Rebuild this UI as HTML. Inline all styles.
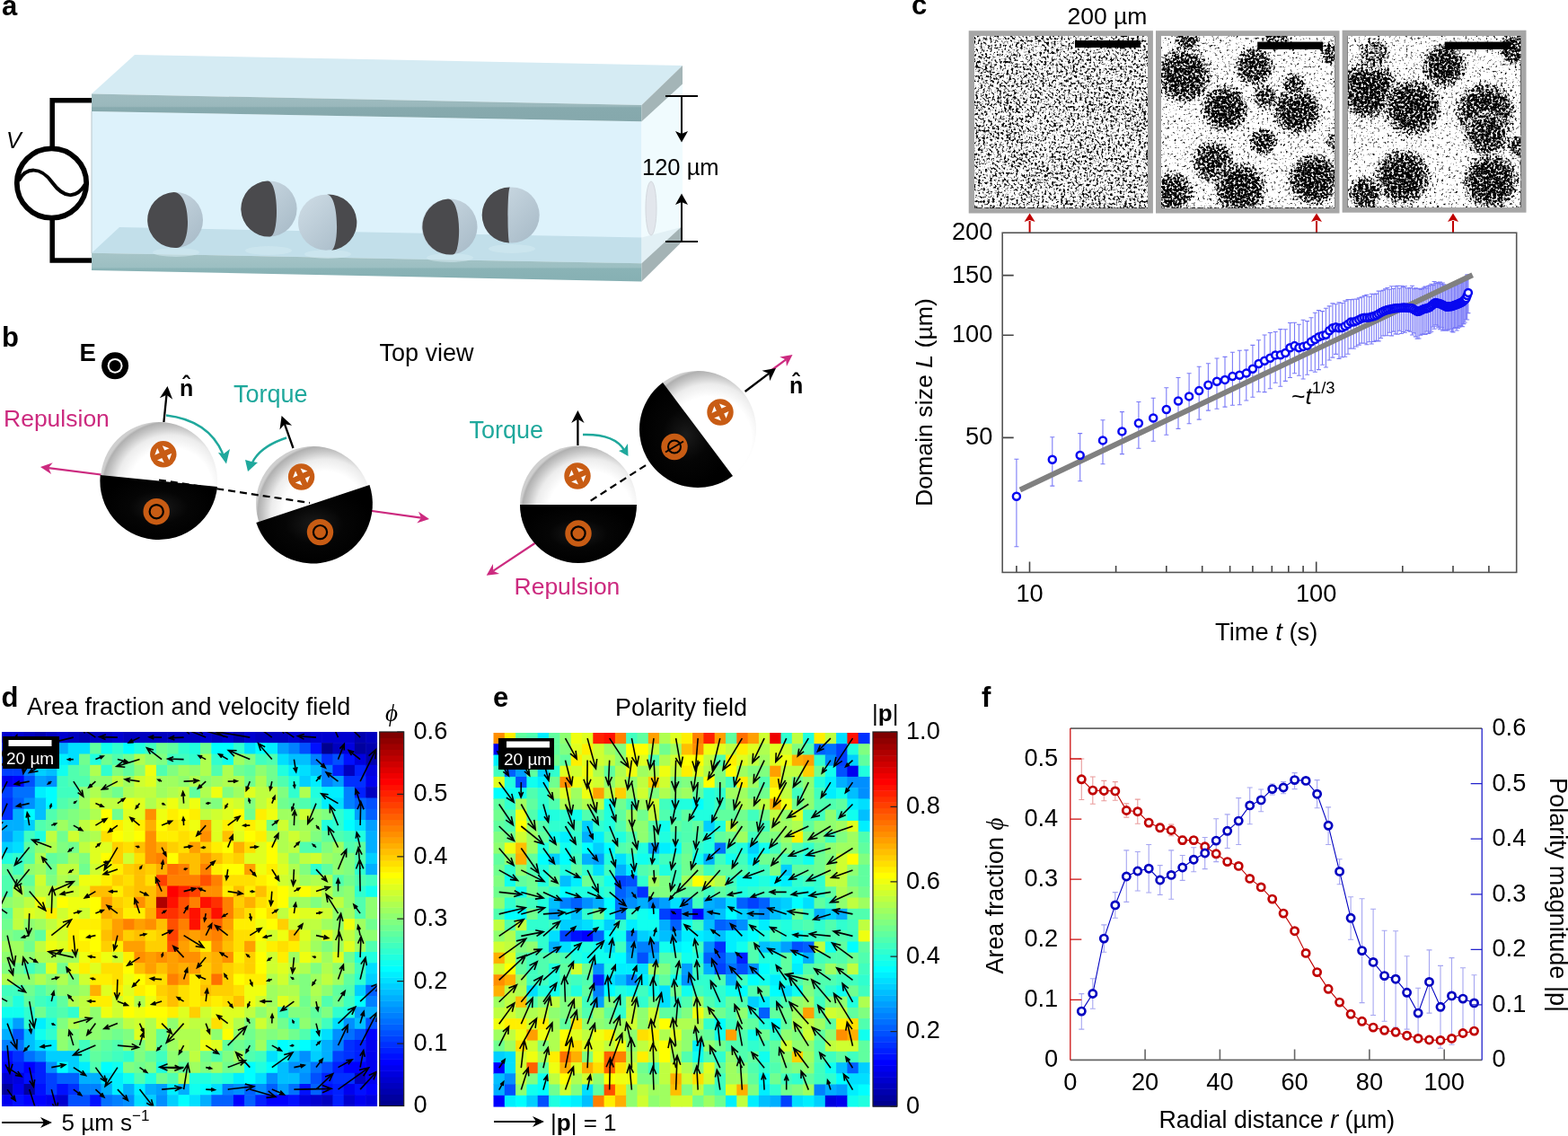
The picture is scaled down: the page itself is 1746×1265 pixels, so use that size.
<!DOCTYPE html>
<html><head><meta charset="utf-8"><style>
html,body{margin:0;padding:0;background:#fff;}
svg{display:block;font-family:"Liberation Sans",Arial,sans-serif;}
</style></head><body>
<svg width="1746" height="1265" viewBox="0 0 1746 1265">
<defs>
<linearGradient id="gTopFront" x1="0" y1="0" x2="0" y2="1"><stop offset="0" stop-color="#9fbcc0"/><stop offset="0.45" stop-color="#9ab8bc"/><stop offset="0.5" stop-color="#87aaae"/><stop offset="1" stop-color="#85a8ac"/></linearGradient>
<linearGradient id="gBotFront" x1="0" y1="0" x2="0" y2="1"><stop offset="0" stop-color="#a6c4c7"/><stop offset="0.5" stop-color="#9cbfc2"/><stop offset="0.55" stop-color="#8ab3b6"/><stop offset="1" stop-color="#86b0b3"/></linearGradient>
<linearGradient id="gLight" x1="0" y1="0" x2="1" y2="1"><stop offset="0" stop-color="#cfdde6"/><stop offset="1" stop-color="#a6b9c6"/></linearGradient>
<radialGradient id="gW" cx="0.6" cy="0.58" r="0.6"><stop offset="0" stop-color="#ffffff"/><stop offset="0.6" stop-color="#ffffff"/><stop offset="0.78" stop-color="#ececec"/><stop offset="0.9" stop-color="#c4c4c4"/><stop offset="0.97" stop-color="#b0b0b0"/><stop offset="1" stop-color="#cfcfcf"/></radialGradient>
<radialGradient id="gB" cx="0.5" cy="0.5" r="0.5"><stop offset="0" stop-color="#1a1a1a"/><stop offset="0.5" stop-color="#050505"/><stop offset="1" stop-color="#000"/></radialGradient>
<clipPath id="clipI0"><rect x="1085" y="40" width="193" height="191.7"/></clipPath>
<filter id="spk0" x="1085" y="40" width="193" height="191.7" filterUnits="userSpaceOnUse" color-interpolation-filters="sRGB"><feTurbulence type="fractalNoise" baseFrequency="0.38" numOctaves="2" seed="3" result="t"/><feColorMatrix in="t" type="matrix" values="1 0 0 0 0 1 0 0 0 0 1 0 0 0 0 0 0 0 0 1" result="n"/><feComposite in="SourceGraphic" in2="n" operator="arithmetic" k1="0" k2="5" k3="5" k4="-4.85"/></filter>
<clipPath id="clipI1"><rect x="1293" y="40" width="193.2" height="191.7"/></clipPath>
<filter id="spk1" x="1293" y="40" width="193.2" height="191.7" filterUnits="userSpaceOnUse" color-interpolation-filters="sRGB"><feTurbulence type="fractalNoise" baseFrequency="0.38" numOctaves="2" seed="8" result="t"/><feColorMatrix in="t" type="matrix" values="1 0 0 0 0 1 0 0 0 0 1 0 0 0 0 0 0 0 0 1" result="n"/><feComposite in="SourceGraphic" in2="n" operator="arithmetic" k1="0" k2="5" k3="5" k4="-4.85"/></filter>
<clipPath id="clipI2"><rect x="1500.8" y="40" width="192.6" height="190.9"/></clipPath>
<filter id="spk2" x="1500.8" y="40" width="192.6" height="190.9" filterUnits="userSpaceOnUse" color-interpolation-filters="sRGB"><feTurbulence type="fractalNoise" baseFrequency="0.38" numOctaves="2" seed="13" result="t"/><feColorMatrix in="t" type="matrix" values="1 0 0 0 0 1 0 0 0 0 1 0 0 0 0 0 0 0 0 1" result="n"/><feComposite in="SourceGraphic" in2="n" operator="arithmetic" k1="0" k2="5" k3="5" k4="-4.85"/></filter>
<radialGradient id="blobg117"><stop offset="0" stop-color="rgb(117,117,117)"/><stop offset="0.55" stop-color="rgb(123,123,123)"/><stop offset="0.8" stop-color="rgb(145,145,145)" stop-opacity="0.8"/><stop offset="1" stop-color="rgb(196,196,196)" stop-opacity="0"/></radialGradient>
<radialGradient id="blobg119"><stop offset="0" stop-color="rgb(119,119,119)"/><stop offset="0.55" stop-color="rgb(125,125,125)"/><stop offset="0.8" stop-color="rgb(147,147,147)" stop-opacity="0.8"/><stop offset="1" stop-color="rgb(196,196,196)" stop-opacity="0"/></radialGradient>
<radialGradient id="blobg122"><stop offset="0" stop-color="rgb(122,122,122)"/><stop offset="0.55" stop-color="rgb(128,128,128)"/><stop offset="0.8" stop-color="rgb(150,150,150)" stop-opacity="0.8"/><stop offset="1" stop-color="rgb(196,196,196)" stop-opacity="0"/></radialGradient>
<radialGradient id="blobg124"><stop offset="0" stop-color="rgb(124,124,124)"/><stop offset="0.55" stop-color="rgb(130,130,130)"/><stop offset="0.8" stop-color="rgb(152,152,152)" stop-opacity="0.8"/><stop offset="1" stop-color="rgb(196,196,196)" stop-opacity="0"/></radialGradient>
<radialGradient id="blobg130"><stop offset="0" stop-color="rgb(130,130,130)"/><stop offset="0.55" stop-color="rgb(136,136,136)"/><stop offset="0.8" stop-color="rgb(158,158,158)" stop-opacity="0.8"/><stop offset="1" stop-color="rgb(196,196,196)" stop-opacity="0"/></radialGradient>
<radialGradient id="blobg135"><stop offset="0" stop-color="rgb(135,135,135)"/><stop offset="0.55" stop-color="rgb(141,141,141)"/><stop offset="0.8" stop-color="rgb(163,163,163)" stop-opacity="0.8"/><stop offset="1" stop-color="rgb(196,196,196)" stop-opacity="0"/></radialGradient>
<radialGradient id="blobg142"><stop offset="0" stop-color="rgb(142,142,142)"/><stop offset="0.55" stop-color="rgb(148,148,148)"/><stop offset="0.8" stop-color="rgb(170,170,170)" stop-opacity="0.8"/><stop offset="1" stop-color="rgb(196,196,196)" stop-opacity="0"/></radialGradient>
<filter id="blur4"><feGaussianBlur stdDeviation="4"/></filter><clipPath id="clipD"><rect x="2" y="815" width="417.5" height="416.5"/></clipPath><clipPath id="clipE"><rect x="549.5" y="816" width="418.5" height="416"/></clipPath></defs>
<rect width="1746" height="1265" fill="#fff"/>
<text x="2" y="17" font-size="31" font-weight="bold">a</text>
<polygon points="150,61 760,73 714.5,117 102,104.5" fill="#d5ebf3"/>
<polygon points="102,124 714.5,135.3 714.5,293.3 102,281.7" fill="#ddf2fb"/>
<polygon points="714.5,135 760,93 760,254 714.5,293.3" fill="#f0fbfe"/>
<polygon points="102,281.7 133,253 714.5,264.5 714.5,293.3" fill="#c2dfea"/><polygon points="714.5,264.5 758,253.2 714.5,293.3" fill="#e2f0f5"/>
<polygon points="102,104.5 714.5,117 714.5,135.3 102,124" fill="url(#gTopFront)"/>
<polygon points="714.5,117 760,73 760,93.5 714.5,135.3" fill="#a4b5b7"/>
<polygon points="102,281.7 714.5,293.3 714.5,313.4 102,301" fill="url(#gBotFront)"/>
<polygon points="714.5,293.3 758,253.2 758,270.4 714.5,313.4" fill="#a4b3b5"/>
<line x1="102" y1="124" x2="102" y2="282" stroke="#b9c6cc" stroke-width="1"/>
<ellipse cx="725" cy="232" rx="6" ry="30" fill="#e2e6ec" stroke="#d3d8de" stroke-width="1"/>
<ellipse cx="196" cy="281" rx="26" ry="5" fill="#d4e9f0" opacity="0.55"/>
<ellipse cx="299" cy="279" rx="26" ry="5" fill="#d4e9f0" opacity="0.55"/>
<ellipse cx="365" cy="283" rx="26" ry="5" fill="#d4e9f0" opacity="0.55"/>
<ellipse cx="501" cy="287" rx="26" ry="5" fill="#d4e9f0" opacity="0.55"/>
<ellipse cx="570" cy="277" rx="26" ry="5" fill="#d4e9f0" opacity="0.55"/>
<circle cx="195" cy="245" r="31" fill="url(#gLight)"/>
<path d="M193.5,214 A31,31 0 0 0 197,276 C213.6,276 213.6,214 193.5,214Z" fill="#4a4a4d"/>
<circle cx="299.6" cy="232.5" r="31" fill="url(#gLight)"/>
<path d="M298,201.5 A31,31 0 0 0 300.7,263.5 C310.9,263.5 310.9,201.5 298,201.5Z" fill="#4a4a4d"/>
<circle cx="363" cy="247.7" r="31" fill="url(#gLight)"/>
<path d="M364,216.7 A31,31 0 0 1 368.5,278.7 C377.9,278.7 377.9,216.7 364,216.7Z" fill="#4a4a4d"/>
<circle cx="500.5" cy="252.5" r="31" fill="url(#gLight)"/>
<path d="M499,221.5 A31,31 0 0 0 504,283.5 C514.2,283.5 514.2,221.5 499,221.5Z" fill="#4a4a4d"/>
<circle cx="569.7" cy="239.5" r="31" fill="url(#gLight)"/>
<path d="M568,208.5 A31,31 0 0 0 567.4,270.5 C564.8,270.5 564.8,208.5 568,208.5Z" fill="#4a4a4d"/>
<path d="M102,111.8 H58.2 V163 M58.2,245 V290 H102" fill="none" stroke="#000" stroke-width="5.5"/>
<circle cx="57.5" cy="204" r="38.7" fill="#fff" stroke="#000" stroke-width="5.8"/>
<path d="M21,201 C29,186 45,185 58,203 C71,221 85,222 95,205" fill="none" stroke="#000" stroke-width="4"/>
<text x="7" y="164.5" font-size="25" font-style="italic">V</text>
<path d="M741,107 H777 M741,269 H777 M759,107 V150 M759,224 V269" fill="none" stroke="#000" stroke-width="2"/>
<path d="M752,146 L759,158.5 L766,146 L759,149Z M752,228 L759,215.5 L766,228 L759,225Z" fill="#000"/>
<text x="715" y="195" font-size="25.5">120 µm</text>
<line x1="140" y1="532" x2="54" y2="521.1" stroke="#cc2a7f" stroke-width="2.2"/><path d="M45,520 L58.7,515.2 L54,521.1 L57.1,528.1Z" fill="#cc2a7f"/>
<line x1="400" y1="567" x2="469" y2="576.7" stroke="#cc2a7f" stroke-width="2.2"/><path d="M478,578 L464.2,582.6 L469,576.7 L466,569.7Z" fill="#cc2a7f"/>
<line x1="600" y1="602" x2="549.3" y2="635.7" stroke="#cc2a7f" stroke-width="2.2"/><path d="M541.7,640.7 L548.9,628.1 L549.3,635.7 L556.1,638.9Z" fill="#cc2a7f"/>
<line x1="856" y1="414.5" x2="875.2" y2="400.4" stroke="#cc2a7f" stroke-width="2.2"/><path d="M882.5,395 L875.9,407.9 L875.2,400.4 L868.2,397.5Z" fill="#cc2a7f"/>
<circle cx="177" cy="535" r="65" fill="url(#gW)"/><path d="M111.7,529 A65,65 0 0 0 242,542Z" fill="url(#gB)"/>
<circle cx="349" cy="561" r="64" fill="url(#gW)"/><path d="M285.3,582 A64,64 0 0 0 411.5,540Z" fill="url(#gB)"/>
<circle cx="644" cy="561.5" r="65" fill="url(#gW)"/><path d="M579,562 A65,65 0 0 0 709,562Z" fill="url(#gB)"/>
<circle cx="777" cy="478" r="65" fill="url(#gW)"/><path d="M738,426 A65,65 0 0 0 816,530Z" fill="url(#gB)"/>
<line x1="177" y1="534.5" x2="345" y2="560" stroke="#000" stroke-width="2.2" stroke-dasharray="8,5"/>
<line x1="657.7" y1="557.6" x2="720.7" y2="517" stroke="#000" stroke-width="2.2" stroke-dasharray="8,5"/>
<circle cx="181.8" cy="505.8" r="14.7" fill="#c85c14"/><path d="M191.3,504.8 L188.4,512.6 L186,507.3Z" fill="#fff"/><path d="M182.8,515.3 L175,512.4 L180.3,510Z" fill="#fff"/><path d="M172.3,506.8 L175.2,499 L177.6,504.3Z" fill="#fff"/><path d="M180.8,496.3 L188.6,499.2 L183.3,501.6Z" fill="#fff"/>
<circle cx="174.2" cy="569.7" r="14.7" fill="#c85c14"/><circle cx="174.2" cy="569.7" r="7.6" fill="none" stroke="#000" stroke-width="2.2"/>
<circle cx="335.6" cy="531" r="14.7" fill="#c85c14"/><path d="M345.1,530 L342.2,537.8 L339.8,532.5Z" fill="#fff"/><path d="M336.6,540.5 L328.8,537.6 L334.1,535.2Z" fill="#fff"/><path d="M326.1,532 L329,524.2 L331.4,529.5Z" fill="#fff"/><path d="M334.6,521.5 L342.4,524.4 L337.1,526.8Z" fill="#fff"/>
<circle cx="356.5" cy="592.6" r="14.7" fill="#c85c14"/><circle cx="356.5" cy="592.6" r="7.6" fill="none" stroke="#000" stroke-width="2.2"/>
<circle cx="643" cy="530" r="14.7" fill="#c85c14"/><path d="M652.5,529 L649.6,536.8 L647.2,531.5Z" fill="#fff"/><path d="M644,539.5 L636.2,536.6 L641.5,534.2Z" fill="#fff"/><path d="M633.5,531 L636.4,523.2 L638.8,528.5Z" fill="#fff"/><path d="M642,520.5 L649.8,523.4 L644.5,525.8Z" fill="#fff"/>
<circle cx="644" cy="594" r="14.7" fill="#c85c14"/><circle cx="644" cy="594" r="7.6" fill="none" stroke="#000" stroke-width="2.2"/>
<circle cx="802" cy="459" r="14.7" fill="#c85c14"/><path d="M811.5,458 L808.6,465.8 L806.2,460.5Z" fill="#fff"/><path d="M803,468.5 L795.2,465.6 L800.5,463.2Z" fill="#fff"/><path d="M792.5,460 L795.4,452.2 L797.8,457.5Z" fill="#fff"/><path d="M801,449.5 L808.8,452.4 L803.5,454.8Z" fill="#fff"/>
<circle cx="751" cy="497.5" r="14.7" fill="#c85c14"/><circle cx="751" cy="497.5" r="7" fill="none" stroke="#000" stroke-width="2"/><line x1="741" y1="503.5" x2="761" y2="491.5" stroke="#000" stroke-width="2"/>
<line x1="182.4" y1="470" x2="185.5" y2="439.7" stroke="#000" stroke-width="2.3"/><path d="M186.5,430 L192.2,444.7 L185.5,439.7 L177.9,443.2Z" fill="#000"/>
<line x1="326.5" y1="499" x2="316.9" y2="472.2" stroke="#000" stroke-width="2.3"/><path d="M313.6,463 L325.1,473.8 L316.9,472.2 L311.5,478.6Z" fill="#000"/>
<line x1="643.4" y1="496" x2="643.4" y2="466.8" stroke="#000" stroke-width="2.3"/><path d="M643.4,457 L650.6,471 L643.4,466.8 L636.2,471Z" fill="#000"/>
<line x1="829.6" y1="436" x2="856.2" y2="415.9" stroke="#000" stroke-width="2.3"/><path d="M864,410 L857.2,424.2 L856.2,415.9 L848.5,412.7Z" fill="#000"/>
<path d="M185,462.5 Q232,468 248,505" fill="none" stroke="#1fa89c" stroke-width="2.4"/>
<path d="M243,504 L252,516.5 L256,500 L249.5,505Z" fill="#1fa89c"/>
<path d="M319,487.5 Q290,497 281,515" fill="none" stroke="#1fa89c" stroke-width="2.4"/>
<path d="M273,512 L276,525 L287,515 L280,514Z" fill="#1fa89c"/>
<path d="M649,484 Q684,483 695,501" fill="none" stroke="#1fa89c" stroke-width="2.4"/>
<path d="M689,502 L699.5,508 L699,494 L695,500Z" fill="#1fa89c"/>
<text x="2" y="386" font-size="31" font-weight="bold">b</text>
<text x="88.5" y="401.7" font-size="27.5" font-weight="bold">E</text>
<circle cx="128.1" cy="407.3" r="15" fill="#000"/><circle cx="128.1" cy="407.3" r="8.4" fill="#fff"/><circle cx="128.1" cy="407.3" r="6.4" fill="#000"/>
<text x="200" y="441" font-size="25" font-weight="bold">n̂</text>
<text x="879" y="438" font-size="25" font-weight="bold">n̂</text>
<text x="260" y="448" font-size="27" fill="#1fa89c">Torque</text>
<text x="522.5" y="488" font-size="27" fill="#1fa89c">Torque</text>
<text x="4" y="475" font-size="26.5" fill="#cc2a7f">Repulsion</text>
<text x="572.5" y="662" font-size="26.5" fill="#cc2a7f">Repulsion</text>
<text x="422.5" y="402" font-size="27">Top view</text>
<rect x="1078.7" y="34.2" width="205.2" height="203.3" fill="#a6a6a6"/>
<rect x="1287" y="34.2" width="204.5" height="203.3" fill="#a6a6a6"/>
<rect x="1494.6" y="33.7" width="204.9" height="203" fill="#a6a6a6"/>
<g clip-path="url(#clipI0)"><g filter="url(#spk0)"><rect x="1085" y="40" width="193" height="191.7" fill="rgb(171,171,171)"/><circle cx="1172.3" cy="147.3" r="11.4" fill="rgb(186,186,186)" opacity="0.5" filter="url(#blur4)"/><circle cx="1172.2" cy="203.9" r="5.5" fill="rgb(186,186,186)" opacity="0.5" filter="url(#blur4)"/><circle cx="1206.6" cy="192" r="4.8" fill="rgb(180,180,180)" opacity="0.5" filter="url(#blur4)"/><circle cx="1112.4" cy="143.3" r="11.1" fill="rgb(150,150,150)" opacity="0.5" filter="url(#blur4)"/><circle cx="1199.9" cy="115.9" r="7.6" fill="rgb(156,156,156)" opacity="0.5" filter="url(#blur4)"/><circle cx="1205.3" cy="199.4" r="4.5" fill="rgb(150,150,150)" opacity="0.5" filter="url(#blur4)"/><circle cx="1121.7" cy="86.4" r="4.2" fill="rgb(186,186,186)" opacity="0.5" filter="url(#blur4)"/><circle cx="1148" cy="153.3" r="5.6" fill="rgb(156,156,156)" opacity="0.5" filter="url(#blur4)"/><circle cx="1208.6" cy="135.8" r="9.3" fill="rgb(186,186,186)" opacity="0.5" filter="url(#blur4)"/><circle cx="1211.4" cy="118" r="8.4" fill="rgb(150,150,150)" opacity="0.5" filter="url(#blur4)"/><circle cx="1221.6" cy="100.4" r="5.8" fill="rgb(180,180,180)" opacity="0.5" filter="url(#blur4)"/><circle cx="1090.7" cy="148" r="4.9" fill="rgb(150,150,150)" opacity="0.5" filter="url(#blur4)"/><circle cx="1248.4" cy="114.1" r="11.7" fill="rgb(150,150,150)" opacity="0.5" filter="url(#blur4)"/><circle cx="1126.2" cy="217.7" r="4.4" fill="rgb(186,186,186)" opacity="0.5" filter="url(#blur4)"/><circle cx="1274.2" cy="116.2" r="4.6" fill="rgb(156,156,156)" opacity="0.5" filter="url(#blur4)"/><circle cx="1235.3" cy="91.7" r="4.7" fill="rgb(180,180,180)" opacity="0.5" filter="url(#blur4)"/><circle cx="1087.9" cy="118.6" r="11.4" fill="rgb(156,156,156)" opacity="0.5" filter="url(#blur4)"/><circle cx="1132.6" cy="59.4" r="4.5" fill="rgb(186,186,186)" opacity="0.5" filter="url(#blur4)"/><circle cx="1119.3" cy="147.2" r="7.6" fill="rgb(156,156,156)" opacity="0.5" filter="url(#blur4)"/><circle cx="1275.2" cy="187.5" r="7.4" fill="rgb(186,186,186)" opacity="0.5" filter="url(#blur4)"/><circle cx="1107.5" cy="120.7" r="5.7" fill="rgb(180,180,180)" opacity="0.5" filter="url(#blur4)"/><circle cx="1251.8" cy="226.9" r="8.7" fill="rgb(150,150,150)" opacity="0.5" filter="url(#blur4)"/><circle cx="1125.7" cy="115.6" r="10.8" fill="rgb(150,150,150)" opacity="0.5" filter="url(#blur4)"/><circle cx="1093.1" cy="68.1" r="7.5" fill="rgb(150,150,150)" opacity="0.5" filter="url(#blur4)"/><circle cx="1234.1" cy="103.1" r="6.4" fill="rgb(150,150,150)" opacity="0.5" filter="url(#blur4)"/><circle cx="1099.3" cy="80" r="9.1" fill="rgb(150,150,150)" opacity="0.5" filter="url(#blur4)"/><circle cx="1201" cy="111.3" r="7.6" fill="rgb(186,186,186)" opacity="0.5" filter="url(#blur4)"/><circle cx="1245.6" cy="66" r="7.1" fill="rgb(156,156,156)" opacity="0.5" filter="url(#blur4)"/><circle cx="1145" cy="83.8" r="8.9" fill="rgb(156,156,156)" opacity="0.5" filter="url(#blur4)"/><circle cx="1115.6" cy="160.6" r="8.4" fill="rgb(186,186,186)" opacity="0.5" filter="url(#blur4)"/><circle cx="1255.3" cy="155.7" r="7.4" fill="rgb(150,150,150)" opacity="0.5" filter="url(#blur4)"/><circle cx="1106" cy="138.2" r="6" fill="rgb(186,186,186)" opacity="0.5" filter="url(#blur4)"/><circle cx="1134.6" cy="197.9" r="8.8" fill="rgb(180,180,180)" opacity="0.5" filter="url(#blur4)"/><circle cx="1185.4" cy="218.1" r="11.8" fill="rgb(156,156,156)" opacity="0.5" filter="url(#blur4)"/><circle cx="1129.1" cy="147.2" r="10.8" fill="rgb(150,150,150)" opacity="0.5" filter="url(#blur4)"/><circle cx="1139.1" cy="215.9" r="5.6" fill="rgb(150,150,150)" opacity="0.5" filter="url(#blur4)"/><circle cx="1098.3" cy="118.9" r="6" fill="rgb(150,150,150)" opacity="0.5" filter="url(#blur4)"/><circle cx="1119" cy="110.7" r="8.6" fill="rgb(156,156,156)" opacity="0.5" filter="url(#blur4)"/><circle cx="1102.8" cy="66.5" r="7.6" fill="rgb(180,180,180)" opacity="0.5" filter="url(#blur4)"/><circle cx="1211.8" cy="172.5" r="8.7" fill="rgb(156,156,156)" opacity="0.5" filter="url(#blur4)"/><circle cx="1198.8" cy="217.1" r="7.8" fill="rgb(180,180,180)" opacity="0.5" filter="url(#blur4)"/><circle cx="1220.3" cy="224.6" r="4.2" fill="rgb(150,150,150)" opacity="0.5" filter="url(#blur4)"/><circle cx="1178.1" cy="180" r="6.6" fill="rgb(150,150,150)" opacity="0.5" filter="url(#blur4)"/><circle cx="1099.5" cy="144.7" r="9.9" fill="rgb(156,156,156)" opacity="0.5" filter="url(#blur4)"/><circle cx="1238.1" cy="215.4" r="6.8" fill="rgb(186,186,186)" opacity="0.5" filter="url(#blur4)"/><circle cx="1258.9" cy="207" r="7.3" fill="rgb(150,150,150)" opacity="0.5" filter="url(#blur4)"/><circle cx="1251.7" cy="149.8" r="9" fill="rgb(186,186,186)" opacity="0.5" filter="url(#blur4)"/><circle cx="1158.2" cy="42.4" r="4.6" fill="rgb(150,150,150)" opacity="0.5" filter="url(#blur4)"/><circle cx="1208.4" cy="230.4" r="11" fill="rgb(180,180,180)" opacity="0.5" filter="url(#blur4)"/><circle cx="1160" cy="180.9" r="8.6" fill="rgb(186,186,186)" opacity="0.5" filter="url(#blur4)"/><circle cx="1174.3" cy="143.8" r="8.1" fill="rgb(150,150,150)" opacity="0.5" filter="url(#blur4)"/><circle cx="1144.9" cy="56.8" r="4.2" fill="rgb(150,150,150)" opacity="0.5" filter="url(#blur4)"/><circle cx="1181" cy="157.8" r="11.4" fill="rgb(180,180,180)" opacity="0.5" filter="url(#blur4)"/><circle cx="1258" cy="110.5" r="5.1" fill="rgb(156,156,156)" opacity="0.5" filter="url(#blur4)"/><circle cx="1185.1" cy="184.5" r="6.7" fill="rgb(186,186,186)" opacity="0.5" filter="url(#blur4)"/><circle cx="1181.2" cy="86.3" r="7.2" fill="rgb(180,180,180)" opacity="0.5" filter="url(#blur4)"/><circle cx="1123.3" cy="122.6" r="10.4" fill="rgb(156,156,156)" opacity="0.5" filter="url(#blur4)"/><circle cx="1254.9" cy="113.7" r="8.7" fill="rgb(180,180,180)" opacity="0.5" filter="url(#blur4)"/><circle cx="1125.5" cy="65.8" r="6.8" fill="rgb(150,150,150)" opacity="0.5" filter="url(#blur4)"/><circle cx="1222.3" cy="222.1" r="6.2" fill="rgb(156,156,156)" opacity="0.5" filter="url(#blur4)"/><circle cx="1106.8" cy="130.4" r="11.4" fill="rgb(186,186,186)" opacity="0.5" filter="url(#blur4)"/><circle cx="1158.8" cy="139.7" r="9.4" fill="rgb(186,186,186)" opacity="0.5" filter="url(#blur4)"/><circle cx="1146.8" cy="198.9" r="6.2" fill="rgb(150,150,150)" opacity="0.5" filter="url(#blur4)"/><circle cx="1215.9" cy="93.9" r="6.8" fill="rgb(150,150,150)" opacity="0.5" filter="url(#blur4)"/><circle cx="1208.7" cy="117.7" r="5.5" fill="rgb(180,180,180)" opacity="0.5" filter="url(#blur4)"/><circle cx="1130.8" cy="67" r="4.4" fill="rgb(150,150,150)" opacity="0.5" filter="url(#blur4)"/><circle cx="1171.2" cy="160.8" r="9.2" fill="rgb(180,180,180)" opacity="0.5" filter="url(#blur4)"/><circle cx="1270" cy="171.2" r="5.6" fill="rgb(186,186,186)" opacity="0.5" filter="url(#blur4)"/><circle cx="1134.4" cy="176.9" r="10" fill="rgb(150,150,150)" opacity="0.5" filter="url(#blur4)"/><circle cx="1119.6" cy="92.2" r="6.8" fill="rgb(156,156,156)" opacity="0.5" filter="url(#blur4)"/><circle cx="1160.9" cy="191.8" r="11.2" fill="rgb(150,150,150)" opacity="0.5" filter="url(#blur4)"/><circle cx="1164.2" cy="211.1" r="7.1" fill="rgb(186,186,186)" opacity="0.5" filter="url(#blur4)"/><circle cx="1172.5" cy="159.9" r="11.3" fill="rgb(186,186,186)" opacity="0.5" filter="url(#blur4)"/><circle cx="1191.2" cy="165.1" r="8" fill="rgb(180,180,180)" opacity="0.5" filter="url(#blur4)"/><circle cx="1174.5" cy="164.9" r="5.6" fill="rgb(150,150,150)" opacity="0.5" filter="url(#blur4)"/><circle cx="1126.2" cy="212.5" r="11.8" fill="rgb(180,180,180)" opacity="0.5" filter="url(#blur4)"/><circle cx="1188.6" cy="191.6" r="6.6" fill="rgb(150,150,150)" opacity="0.5" filter="url(#blur4)"/><circle cx="1152.3" cy="55.9" r="7.5" fill="rgb(186,186,186)" opacity="0.5" filter="url(#blur4)"/><circle cx="1233.3" cy="133.4" r="4.2" fill="rgb(150,150,150)" opacity="0.5" filter="url(#blur4)"/><circle cx="1167.8" cy="46.7" r="8.3" fill="rgb(156,156,156)" opacity="0.5" filter="url(#blur4)"/><circle cx="1175.8" cy="231.7" r="11.2" fill="rgb(186,186,186)" opacity="0.5" filter="url(#blur4)"/><circle cx="1267.5" cy="134.4" r="11.6" fill="rgb(150,150,150)" opacity="0.5" filter="url(#blur4)"/><circle cx="1231.3" cy="124.2" r="8.5" fill="rgb(156,156,156)" opacity="0.5" filter="url(#blur4)"/><circle cx="1185.9" cy="201.7" r="8.5" fill="rgb(180,180,180)" opacity="0.5" filter="url(#blur4)"/><circle cx="1214.6" cy="223" r="11" fill="rgb(156,156,156)" opacity="0.5" filter="url(#blur4)"/><circle cx="1143.8" cy="67.1" r="8.4" fill="rgb(180,180,180)" opacity="0.5" filter="url(#blur4)"/><circle cx="1195.6" cy="78.5" r="8.3" fill="rgb(150,150,150)" opacity="0.5" filter="url(#blur4)"/><circle cx="1201.8" cy="45.3" r="11.8" fill="rgb(186,186,186)" opacity="0.5" filter="url(#blur4)"/><circle cx="1190" cy="229.7" r="5" fill="rgb(150,150,150)" opacity="0.5" filter="url(#blur4)"/><circle cx="1218.4" cy="52.6" r="8.3" fill="rgb(186,186,186)" opacity="0.5" filter="url(#blur4)"/></g></g>
<g clip-path="url(#clipI1)"><g filter="url(#spk1)"><rect x="1293" y="40" width="193.2" height="191.7" fill="rgb(196,196,196)"/><circle cx="1318" cy="84" r="36" fill="url(#blobg119)"/><circle cx="1397" cy="74" r="25.2" fill="url(#blobg122)"/><circle cx="1364" cy="121" r="30" fill="url(#blobg117)"/><circle cx="1444" cy="123" r="31.2" fill="url(#blobg117)"/><circle cx="1441" cy="95" r="15.6" fill="url(#blobg130)"/><circle cx="1409" cy="108" r="16.8" fill="url(#blobg130)"/><circle cx="1407" cy="158" r="18" fill="url(#blobg124)"/><circle cx="1351" cy="180" r="27.6" fill="url(#blobg122)"/><circle cx="1381" cy="210" r="33.6" fill="url(#blobg117)"/><circle cx="1463" cy="200" r="33.6" fill="url(#blobg117)"/><circle cx="1306" cy="214" r="26.4" fill="url(#blobg122)"/><circle cx="1322" cy="44" r="16.8" fill="url(#blobg130)"/><circle cx="1421" cy="42" r="16.8" fill="url(#blobg130)"/><circle cx="1483" cy="60" r="15.6" fill="url(#blobg130)"/><circle cx="1486" cy="157" r="12" fill="url(#blobg135)"/></g></g>
<g clip-path="url(#clipI2)"><g filter="url(#spk2)"><rect x="1500.8" y="40" width="192.6" height="190.9" fill="rgb(196,196,196)"/><circle cx="1524" cy="100" r="38.4" fill="url(#blobg117)"/><circle cx="1573" cy="120" r="37.2" fill="url(#blobg117)"/><circle cx="1608" cy="73" r="28.8" fill="url(#blobg119)"/><circle cx="1654" cy="125" r="38.4" fill="url(#blobg117)"/><circle cx="1656" cy="150" r="28.8" fill="url(#blobg122)"/><circle cx="1562" cy="197" r="36" fill="url(#blobg117)"/><circle cx="1660" cy="202" r="36" fill="url(#blobg117)"/><circle cx="1520" cy="215" r="21.6" fill="url(#blobg122)"/><circle cx="1686" cy="55" r="20.4" fill="url(#blobg124)"/><circle cx="1691" cy="163" r="15.6" fill="url(#blobg130)"/><circle cx="1530" cy="60" r="21.6" fill="url(#blobg142)"/></g></g>
<rect x="1197" y="45" width="73" height="8" fill="#000"/>
<rect x="1400.2" y="46.6" width="73" height="8.3" fill="#000"/>
<rect x="1608.7" y="46.6" width="72.5" height="8.3" fill="#000"/>
<text x="1015" y="16" font-size="31" font-weight="bold">c</text>
<text x="1188.5" y="26.5" font-size="26.5">200 µm</text>
<line x1="1146.6" y1="259" x2="1146.6" y2="246" stroke="#c00000" stroke-width="2"/>
<path d="M1146.6,237.5 L1140.6,247 L1146.6,245 L1152.6,247Z" fill="#c00000"/>
<line x1="1466" y1="259" x2="1466" y2="246" stroke="#c00000" stroke-width="2"/>
<path d="M1466,237.5 L1460,247 L1466,245 L1472,247Z" fill="#c00000"/>
<line x1="1618" y1="259" x2="1618" y2="246" stroke="#c00000" stroke-width="2"/>
<path d="M1618,237.5 L1612,247 L1618,245 L1624,247Z" fill="#c00000"/>
<path d="M1131.9,637.4V629.9M1146.5,637.4V625.4M1242.6,637.4V629.9M1298.8,637.4V629.9M1338.7,637.4V629.9M1369.6,637.4V629.9M1394.9,637.4V629.9M1416.3,637.4V629.9M1434.8,637.4V629.9M1451.1,637.4V629.9M1465.7,637.4V625.4M1561.8,637.4V629.9M1618,637.4V629.9M1657.9,637.4V629.9M1116.2,487.4H1128.7M1116.2,373.3H1128.7M1116.2,306.6H1128.7" stroke="#444" stroke-width="1.6" fill="none"/>
<text x="1105.3" y="267.1" font-size="27.2" text-anchor="end">200</text>
<text x="1105.3" y="314.5" font-size="27.2" text-anchor="end">150</text>
<text x="1105.3" y="381.2" font-size="27.2" text-anchor="end">100</text>
<text x="1105.3" y="495.3" font-size="27.2" text-anchor="end">50</text>
<text x="1146.5" y="669.6" font-size="27.2" text-anchor="middle">10</text>
<text x="1465.7" y="669.6" font-size="27.2" text-anchor="middle">100</text>
<text x="1353" y="713.2" font-size="27.3">Time <tspan font-style="italic">t</tspan> (s)</text>
<text transform="translate(1037.6,564) rotate(-90)" font-size="26.7">Domain size <tspan font-style="italic">L</tspan> (µm)</text>
<path d="M1131.9,511.2V608.7M1129.4,511.2h5M1129.4,608.7h5M1171.8,486.8V541.1M1169.3,486.8h5M1169.3,541.1h5M1202.7,482.6V535.7M1200.2,482.6h5M1200.2,535.7h5M1228,467.7V516.7M1225.5,467.7h5M1225.5,516.7h5M1249.4,458.6V505.6M1246.9,458.6h5M1246.9,505.6h5M1267.9,447.5V499.2M1265.4,447.5h5M1265.4,499.2h5M1284.2,443.3V491.3M1281.7,443.3h5M1281.7,491.3h5M1298.8,431.8V484.3M1296.3,431.8h5M1296.3,484.3h5M1312,420.5V477.4M1309.5,420.5h5M1309.5,477.4h5M1324.1,415.8V471.8M1321.6,415.8h5M1321.6,471.8h5M1335.2,408.3V467.1M1332.7,408.3h5M1332.7,467.1h5M1345.4,404.7V457.1M1342.9,404.7h5M1342.9,457.1h5M1355,399V455.3M1352.5,399h5M1352.5,455.3h5M1364,397.4V453.1M1361.5,397.4h5M1361.5,453.1h5M1372.4,392.3V451.2M1369.9,392.3h5M1369.9,451.2h5M1380.3,390.2V450.7M1377.8,390.2h5M1377.8,450.7h5M1387.8,389.9V446M1385.3,389.9h5M1385.3,446h5M1394.9,384.4V442.2M1392.4,384.4h5M1392.4,442.2h5M1401.6,378.7V436.3M1399.1,378.7h5M1399.1,436.3h5M1408.1,373V436.6M1405.6,373h5M1405.6,436.6h5M1414.3,370.5V432.8M1411.8,370.5h5M1411.8,432.8h5M1420.2,369.5V426.2M1417.7,369.5h5M1417.7,426.2h5M1425.8,366.6V430.2M1423.3,366.6h5M1423.3,430.2h5M1431.3,366.7V424.4M1428.8,366.7h5M1428.8,424.4h5M1436.5,359.5V420.5M1434,359.5h5M1434,420.5h5M1441.5,359.2V415.8M1439,359.2h5M1439,415.8h5M1446.4,361.2V418.2M1443.9,361.2h5M1443.9,418.2h5M1451.1,356.3V422M1448.6,356.3h5M1448.6,422h5M1455.6,357.6V417.3M1453.1,357.6h5M1453.1,417.3h5M1460,353.7V412.7M1457.5,353.7h5M1457.5,412.7h5M1464.3,348.3V414.3M1461.8,348.3h5M1461.8,414.3h5M1468.4,345.6V411.6M1465.9,345.6h5M1465.9,411.6h5M1472.5,346.6V406.3M1470,346.6h5M1470,406.3h5M1476.4,343.2V409M1473.9,343.2h5M1473.9,409h5M1480.2,340.9V401M1477.7,340.9h5M1477.7,401h5M1483.9,337.9V398.1M1481.4,337.9h5M1481.4,398.1h5M1487.5,338.8V394.4M1485,338.8h5M1485,394.4h5M1491,336.9V399.4M1488.5,336.9h5M1488.5,399.4h5M1494.4,337.5V397.7M1491.9,337.5h5M1491.9,397.7h5M1497.7,335.1V397.2M1495.2,335.1h5M1495.2,397.2h5M1501,333.6V394.2M1498.5,333.6h5M1498.5,394.2h5M1504.2,333.6V388.1M1501.7,333.6h5M1501.7,388.1h5M1507.3,333.3V388.3M1504.8,333.3h5M1504.8,388.3h5M1510.3,333.1V386M1507.8,333.1h5M1507.8,386h5M1513.3,331.8V384.1M1510.8,331.8h5M1510.8,384.1h5M1516.2,330.9V382.1M1513.7,330.9h5M1513.7,382.1h5M1519.1,329.4V382.3M1516.6,329.4h5M1516.6,382.3h5M1521.9,328.3V383.7M1519.4,328.3h5M1519.4,383.7h5M1524.7,330.3V380.7M1522.2,330.3h5M1522.2,380.7h5M1527.3,327.3V383M1524.8,327.3h5M1524.8,383h5M1530,327.8V380.4M1527.5,327.8h5M1527.5,380.4h5M1532.6,327.1V379.3M1530.1,327.1h5M1530.1,379.3h5M1535.1,324.1V379.9M1532.6,324.1h5M1532.6,379.9h5M1537.6,324V376.5M1535.1,324h5M1535.1,376.5h5M1540.1,323.3V374M1537.6,323.3h5M1537.6,374h5M1542.5,321.9V373.7M1540,321.9h5M1540,373.7h5M1544.9,320.5V373.8M1542.4,320.5h5M1542.4,373.8h5M1547.2,322.2V370.3M1544.7,322.2h5M1544.7,370.3h5M1549.5,318.8V373.9M1547,318.8h5M1547,373.9h5M1551.7,321.5V369.1M1549.2,321.5h5M1549.2,369.1h5M1553.9,318.8V371.9M1551.4,318.8h5M1551.4,371.9h5M1556.1,318.4V372.2M1553.6,318.4h5M1553.6,372.2h5M1558.3,321V368.3M1555.8,321h5M1555.8,368.3h5M1560.4,318.3V371.5M1557.9,318.3h5M1557.9,371.5h5M1562.5,319.6V369.5M1560,319.6h5M1560,369.5h5M1564.5,318.8V370.3M1562,318.8h5M1562,370.3h5M1566.6,320.8V368M1564.1,320.8h5M1564.1,368h5M1568.6,320.9V368.4M1566.1,320.9h5M1566.1,368.4h5M1570.5,320.6V369.2M1568,320.6h5M1568,369.2h5M1572.5,318.2V373M1570,318.2h5M1570,373h5M1574.4,321.8V370.9M1571.9,321.8h5M1571.9,370.9h5M1576.3,320.9V374.9M1573.8,320.9h5M1573.8,374.9h5M1578.1,321.4V377.1M1575.6,321.4h5M1575.6,377.1h5M1580,321.2V377M1577.5,321.2h5M1577.5,377h5M1581.8,322.4V373.2M1579.3,322.4h5M1579.3,373.2h5M1583.6,321.6V372.2M1581.1,321.6h5M1581.1,372.2h5M1585.3,320.3V371.9M1582.8,320.3h5M1582.8,371.9h5M1587.1,319.1V372.5M1584.6,319.1h5M1584.6,372.5h5M1588.8,320.9V369M1586.3,320.9h5M1586.3,369h5M1590.5,318.5V371.4M1588,318.5h5M1588,371.4h5M1592.2,317.7V370.8M1589.7,317.7h5M1589.7,370.8h5M1593.8,316.2V369.3M1591.3,316.2h5M1591.3,369.3h5M1595.5,317.6V364M1593,317.6h5M1593,364h5M1597.1,313.5V366.3M1594.6,313.5h5M1594.6,366.3h5M1598.7,315.6V361.7M1596.2,315.6h5M1596.2,361.7h5M1600.3,315.1V363.3M1597.8,315.1h5M1597.8,363.3h5M1601.8,314.6V364.9M1599.3,314.6h5M1599.3,364.9h5M1603.4,314V366.7M1600.9,314h5M1600.9,366.7h5M1604.9,316.2V364.8M1602.4,316.2h5M1602.4,364.8h5M1606.4,315V368.2M1603.9,315h5M1603.9,368.2h5M1607.9,316.9V367.4M1605.4,316.9h5M1605.4,367.4h5M1609.4,318.3V367.3M1606.9,318.3h5M1606.9,367.3h5M1610.9,318.9V368.1M1608.4,318.9h5M1608.4,368.1h5M1612.3,319.2V367.3M1609.8,319.2h5M1609.8,367.3h5M1613.8,319.4V366.7M1611.3,319.4h5M1611.3,366.7h5M1615.2,319V366.8M1612.7,319h5M1612.7,366.8h5M1616.6,317.1V369M1614.1,317.1h5M1614.1,369h5M1618,315.8V369.9M1615.5,315.8h5M1615.5,369.9h5M1619.4,318V365.6M1616.9,318h5M1616.9,365.6h5M1620.7,318V364.5M1618.2,318h5M1618.2,364.5h5M1622.1,314.5V368M1619.6,314.5h5M1619.6,368h5M1623.4,315.5V365.5M1620.9,315.5h5M1620.9,365.5h5M1624.8,315.4V364.2M1622.3,315.4h5M1622.3,364.2h5M1626.1,315.4V362.7M1623.6,315.4h5M1623.6,362.7h5M1627.4,313.7V363.5M1624.9,313.7h5M1624.9,363.5h5M1628.7,312.4V363.7M1626.2,312.4h5M1626.2,363.7h5M1629.9,312.4V360.6M1627.4,312.4h5M1627.4,360.6h5M1631.2,311.4V359M1628.7,311.4h5M1628.7,359h5M1632.5,311.5V356M1630,311.5h5M1630,356h5M1633.7,306.1V356M1631.2,306.1h5M1631.2,356h5M1634.9,305.9V348.6M1632.4,305.9h5M1632.4,348.6h5" stroke="#5a5af5" stroke-opacity="0.8" stroke-width="1.1" fill="none"/>
<line x1="1135.9" y1="545.5" x2="1639.7" y2="306.2" stroke="#808080" stroke-width="6"/>
<g fill="#fff" stroke="#0808f0" stroke-width="2.5"><circle cx="1131.9" cy="552.8" r="4"/><circle cx="1171.8" cy="511.7" r="4"/><circle cx="1202.7" cy="507" r="4"/><circle cx="1228" cy="490.4" r="4"/><circle cx="1249.4" cy="480.4" r="4"/><circle cx="1267.9" cy="471.3" r="4"/><circle cx="1284.2" cy="465.5" r="4"/><circle cx="1298.8" cy="456" r="4"/><circle cx="1312" cy="446.5" r="4"/><circle cx="1324.1" cy="441.4" r="4"/><circle cx="1335.2" cy="435.1" r="4"/><circle cx="1345.4" cy="428.8" r="4"/><circle cx="1355" cy="424.8" r="4"/><circle cx="1364" cy="422.9" r="4"/><circle cx="1372.4" cy="419.1" r="4"/><circle cx="1380.3" cy="417.7" r="4"/><circle cx="1387.8" cy="415.6" r="4"/><circle cx="1394.9" cy="410.8" r="4"/><circle cx="1401.6" cy="405" r="4"/><circle cx="1408.1" cy="401.8" r="4"/><circle cx="1414.3" cy="398.7" r="4"/><circle cx="1420.2" cy="395.4" r="4"/><circle cx="1425.8" cy="395.3" r="4"/><circle cx="1431.3" cy="393" r="4"/><circle cx="1436.5" cy="387.2" r="4"/><circle cx="1441.5" cy="385.1" r="4"/><circle cx="1446.4" cy="387.2" r="4"/><circle cx="1451.1" cy="385.9" r="4"/><circle cx="1455.6" cy="384.8" r="4"/><circle cx="1460" cy="380.6" r="4"/><circle cx="1464.3" cy="378" r="4"/><circle cx="1468.4" cy="375.3" r="4"/><circle cx="1472.5" cy="373.7" r="4"/><circle cx="1476.4" cy="372.8" r="4"/><circle cx="1480.2" cy="368.2" r="4"/><circle cx="1483.9" cy="365.3" r="4"/><circle cx="1487.5" cy="364.3" r="4"/><circle cx="1491" cy="365.2" r="4"/><circle cx="1494.4" cy="364.9" r="4"/><circle cx="1497.7" cy="363.2" r="4"/><circle cx="1501" cy="361.1" r="4"/><circle cx="1504.2" cy="358.6" r="4"/><circle cx="1507.3" cy="358.5" r="4"/><circle cx="1510.3" cy="357.4" r="4"/><circle cx="1513.3" cy="355.9" r="4"/><circle cx="1516.2" cy="354.5" r="4"/><circle cx="1519.1" cy="353.7" r="4"/><circle cx="1521.9" cy="353.7" r="4"/><circle cx="1524.7" cy="353.6" r="4"/><circle cx="1527.3" cy="352.8" r="4"/><circle cx="1530" cy="352" r="4"/><circle cx="1532.6" cy="351.1" r="4"/><circle cx="1535.1" cy="349.6" r="4"/><circle cx="1537.6" cy="348.1" r="4"/><circle cx="1540.1" cy="346.7" r="4"/><circle cx="1542.5" cy="345.8" r="4"/><circle cx="1544.9" cy="345" r="4"/><circle cx="1547.2" cy="344.5" r="4"/><circle cx="1549.5" cy="344" r="4"/><circle cx="1551.7" cy="343.6" r="4"/><circle cx="1553.9" cy="343.2" r="4"/><circle cx="1556.1" cy="343.1" r="4"/><circle cx="1558.3" cy="342.9" r="4"/><circle cx="1560.4" cy="342.8" r="4"/><circle cx="1562.5" cy="342.6" r="4"/><circle cx="1564.5" cy="342.5" r="4"/><circle cx="1566.6" cy="342.7" r="4"/><circle cx="1568.6" cy="342.9" r="4"/><circle cx="1570.5" cy="343.1" r="4"/><circle cx="1572.5" cy="343.3" r="4"/><circle cx="1574.4" cy="344.5" r="4"/><circle cx="1576.3" cy="345.7" r="4"/><circle cx="1578.1" cy="346.9" r="4"/><circle cx="1580" cy="346.7" r="4"/><circle cx="1581.8" cy="345.8" r="4"/><circle cx="1583.6" cy="345" r="4"/><circle cx="1585.3" cy="344.1" r="4"/><circle cx="1587.1" cy="343.7" r="4"/><circle cx="1588.8" cy="343.2" r="4"/><circle cx="1590.5" cy="342.8" r="4"/><circle cx="1592.2" cy="342.1" r="4"/><circle cx="1593.8" cy="340.6" r="4"/><circle cx="1595.5" cy="339.2" r="4"/><circle cx="1597.1" cy="337.8" r="4"/><circle cx="1598.7" cy="337" r="4"/><circle cx="1600.3" cy="337.4" r="4"/><circle cx="1601.8" cy="337.8" r="4"/><circle cx="1603.4" cy="338.2" r="4"/><circle cx="1604.9" cy="338.7" r="4"/><circle cx="1606.4" cy="339.5" r="4"/><circle cx="1607.9" cy="340.2" r="4"/><circle cx="1609.4" cy="341" r="4"/><circle cx="1610.9" cy="341.7" r="4"/><circle cx="1612.3" cy="341.5" r="4"/><circle cx="1613.8" cy="341.3" r="4"/><circle cx="1615.2" cy="341.2" r="4"/><circle cx="1616.6" cy="341" r="4"/><circle cx="1618" cy="340.6" r="4"/><circle cx="1619.4" cy="340.1" r="4"/><circle cx="1620.7" cy="339.6" r="4"/><circle cx="1622.1" cy="339.1" r="4"/><circle cx="1623.4" cy="338.6" r="4"/><circle cx="1624.8" cy="338" r="4"/><circle cx="1626.1" cy="337.3" r="4"/><circle cx="1627.4" cy="336.7" r="4"/><circle cx="1628.7" cy="336" r="4"/><circle cx="1629.9" cy="334.8" r="4"/><circle cx="1631.2" cy="333.5" r="4"/><circle cx="1632.5" cy="332.2" r="4"/><circle cx="1633.7" cy="329.1" r="4"/><circle cx="1634.9" cy="325.9" r="4"/></g>
<rect x="1116.2" y="259.2" width="572.5" height="378.2" fill="none" stroke="#555" stroke-width="1.6"/>
<text x="1438" y="450" font-size="26.5">~<tspan font-style="italic">t</tspan><tspan font-size="18.5" dy="-12">1/3</tspan></text>
<rect x="2" y="815" width="12.9" height="12.8" fill="#0000cf"/><rect x="14.3" y="815" width="12.9" height="12.8" fill="#0000cf"/><rect x="26.6" y="815" width="12.9" height="12.8" fill="#0000bf"/><rect x="38.8" y="815" width="12.9" height="12.8" fill="#0000af"/><rect x="51.1" y="815" width="12.9" height="12.8" fill="#0000bf"/><rect x="63.4" y="815" width="12.9" height="12.8" fill="#0000cf"/><rect x="75.7" y="815" width="12.9" height="12.8" fill="#0000bf"/><rect x="88" y="815" width="12.9" height="12.8" fill="#0000af"/><rect x="100.2" y="815" width="12.9" height="12.8" fill="#0000bf"/><rect x="112.5" y="815" width="12.9" height="12.8" fill="#0000bf"/><rect x="124.8" y="815" width="12.9" height="12.8" fill="#0000cf"/><rect x="137.1" y="815" width="12.9" height="12.8" fill="#0000bf"/><rect x="149.4" y="815" width="12.9" height="12.8" fill="#0000bf"/><rect x="161.6" y="815" width="12.9" height="12.8" fill="#0000bf"/><rect x="173.9" y="815" width="12.9" height="12.8" fill="#0000bf"/><rect x="186.2" y="815" width="12.9" height="12.8" fill="#0000bf"/><rect x="198.5" y="815" width="12.9" height="12.8" fill="#0000bf"/><rect x="210.8" y="815" width="12.9" height="12.8" fill="#0000bf"/><rect x="223" y="815" width="12.9" height="12.8" fill="#0000cf"/><rect x="235.3" y="815" width="12.9" height="12.8" fill="#0000bf"/><rect x="247.6" y="815" width="12.9" height="12.8" fill="#0000cf"/><rect x="259.9" y="815" width="12.9" height="12.8" fill="#0000af"/><rect x="272.1" y="815" width="12.9" height="12.8" fill="#0000cf"/><rect x="284.4" y="815" width="12.9" height="12.8" fill="#0000bf"/><rect x="296.7" y="815" width="12.9" height="12.8" fill="#0000bf"/><rect x="309" y="815" width="12.9" height="12.8" fill="#0000bf"/><rect x="321.3" y="815" width="12.9" height="12.8" fill="#0000cf"/><rect x="333.5" y="815" width="12.9" height="12.8" fill="#0000bf"/><rect x="345.8" y="815" width="12.9" height="12.8" fill="#0000cf"/><rect x="358.1" y="815" width="12.9" height="12.8" fill="#0000cf"/><rect x="370.4" y="815" width="12.9" height="12.8" fill="#0000cf"/><rect x="382.7" y="815" width="12.9" height="12.8" fill="#0000cf"/><rect x="394.9" y="815" width="12.9" height="12.8" fill="#0000af"/><rect x="407.2" y="815" width="12.9" height="12.8" fill="#0000bf"/><rect x="2" y="827.2" width="12.9" height="12.8" fill="#0030ff"/><rect x="14.3" y="827.2" width="12.9" height="12.8" fill="#0080ff"/><rect x="26.6" y="827.2" width="12.9" height="12.8" fill="#008fff"/><rect x="38.8" y="827.2" width="12.9" height="12.8" fill="#00afff"/><rect x="51.1" y="827.2" width="12.9" height="12.8" fill="#00bfff"/><rect x="63.4" y="827.2" width="12.9" height="12.8" fill="#00afff"/><rect x="75.7" y="827.2" width="12.9" height="12.8" fill="#00dfff"/><rect x="88" y="827.2" width="12.9" height="12.8" fill="#00dfff"/><rect x="100.2" y="827.2" width="12.9" height="12.8" fill="#60ff9f"/><rect x="112.5" y="827.2" width="12.9" height="12.8" fill="#10ffef"/><rect x="124.8" y="827.2" width="12.9" height="12.8" fill="#30ffcf"/><rect x="137.1" y="827.2" width="12.9" height="12.8" fill="#00ffff"/><rect x="149.4" y="827.2" width="12.9" height="12.8" fill="#20ffdf"/><rect x="161.6" y="827.2" width="12.9" height="12.8" fill="#40ffbf"/><rect x="173.9" y="827.2" width="12.9" height="12.8" fill="#70ff8f"/><rect x="186.2" y="827.2" width="12.9" height="12.8" fill="#60ff9f"/><rect x="198.5" y="827.2" width="12.9" height="12.8" fill="#30ffcf"/><rect x="210.8" y="827.2" width="12.9" height="12.8" fill="#20ffdf"/><rect x="223" y="827.2" width="12.9" height="12.8" fill="#70ff8f"/><rect x="235.3" y="827.2" width="12.9" height="12.8" fill="#00ffff"/><rect x="247.6" y="827.2" width="12.9" height="12.8" fill="#00ffff"/><rect x="259.9" y="827.2" width="12.9" height="12.8" fill="#30ffcf"/><rect x="272.1" y="827.2" width="12.9" height="12.8" fill="#00dfff"/><rect x="284.4" y="827.2" width="12.9" height="12.8" fill="#00ffff"/><rect x="296.7" y="827.2" width="12.9" height="12.8" fill="#00efff"/><rect x="309" y="827.2" width="12.9" height="12.8" fill="#009fff"/><rect x="321.3" y="827.2" width="12.9" height="12.8" fill="#0080ff"/><rect x="333.5" y="827.2" width="12.9" height="12.8" fill="#0050ff"/><rect x="345.8" y="827.2" width="12.9" height="12.8" fill="#0010ff"/><rect x="358.1" y="827.2" width="12.9" height="12.8" fill="#00008f"/><rect x="370.4" y="827.2" width="12.9" height="12.8" fill="#0000bf"/><rect x="382.7" y="827.2" width="12.9" height="12.8" fill="#0000df"/><rect x="394.9" y="827.2" width="12.9" height="12.8" fill="#00009f"/><rect x="407.2" y="827.2" width="12.9" height="12.8" fill="#0000af"/><rect x="2" y="839.5" width="12.9" height="12.8" fill="#0050ff"/><rect x="14.3" y="839.5" width="12.9" height="12.8" fill="#008fff"/><rect x="26.6" y="839.5" width="12.9" height="12.8" fill="#0050ff"/><rect x="38.8" y="839.5" width="12.9" height="12.8" fill="#009fff"/><rect x="51.1" y="839.5" width="12.9" height="12.8" fill="#00cfff"/><rect x="63.4" y="839.5" width="12.9" height="12.8" fill="#00efff"/><rect x="75.7" y="839.5" width="12.9" height="12.8" fill="#00dfff"/><rect x="88" y="839.5" width="12.9" height="12.8" fill="#70ff8f"/><rect x="100.2" y="839.5" width="12.9" height="12.8" fill="#20ffdf"/><rect x="112.5" y="839.5" width="12.9" height="12.8" fill="#70ff8f"/><rect x="124.8" y="839.5" width="12.9" height="12.8" fill="#50ffaf"/><rect x="137.1" y="839.5" width="12.9" height="12.8" fill="#70ff8f"/><rect x="149.4" y="839.5" width="12.9" height="12.8" fill="#afff50"/><rect x="161.6" y="839.5" width="12.9" height="12.8" fill="#8fff70"/><rect x="173.9" y="839.5" width="12.9" height="12.8" fill="#80ff80"/><rect x="186.2" y="839.5" width="12.9" height="12.8" fill="#40ffbf"/><rect x="198.5" y="839.5" width="12.9" height="12.8" fill="#40ffbf"/><rect x="210.8" y="839.5" width="12.9" height="12.8" fill="#30ffcf"/><rect x="223" y="839.5" width="12.9" height="12.8" fill="#afff50"/><rect x="235.3" y="839.5" width="12.9" height="12.8" fill="#30ffcf"/><rect x="247.6" y="839.5" width="12.9" height="12.8" fill="#10ffef"/><rect x="259.9" y="839.5" width="12.9" height="12.8" fill="#9fff60"/><rect x="272.1" y="839.5" width="12.9" height="12.8" fill="#80ff80"/><rect x="284.4" y="839.5" width="12.9" height="12.8" fill="#40ffbf"/><rect x="296.7" y="839.5" width="12.9" height="12.8" fill="#50ffaf"/><rect x="309" y="839.5" width="12.9" height="12.8" fill="#00dfff"/><rect x="321.3" y="839.5" width="12.9" height="12.8" fill="#00bfff"/><rect x="333.5" y="839.5" width="12.9" height="12.8" fill="#00bfff"/><rect x="345.8" y="839.5" width="12.9" height="12.8" fill="#0080ff"/><rect x="358.1" y="839.5" width="12.9" height="12.8" fill="#0030ff"/><rect x="370.4" y="839.5" width="12.9" height="12.8" fill="#0050ff"/><rect x="382.7" y="839.5" width="12.9" height="12.8" fill="#0010ff"/><rect x="394.9" y="839.5" width="12.9" height="12.8" fill="#0000df"/><rect x="407.2" y="839.5" width="12.9" height="12.8" fill="#0000af"/><rect x="2" y="851.8" width="12.9" height="12.8" fill="#0040ff"/><rect x="14.3" y="851.8" width="12.9" height="12.8" fill="#0040ff"/><rect x="26.6" y="851.8" width="12.9" height="12.8" fill="#0080ff"/><rect x="38.8" y="851.8" width="12.9" height="12.8" fill="#00cfff"/><rect x="51.1" y="851.8" width="12.9" height="12.8" fill="#00bfff"/><rect x="63.4" y="851.8" width="12.9" height="12.8" fill="#10ffef"/><rect x="75.7" y="851.8" width="12.9" height="12.8" fill="#50ffaf"/><rect x="88" y="851.8" width="12.9" height="12.8" fill="#60ff9f"/><rect x="100.2" y="851.8" width="12.9" height="12.8" fill="#afff50"/><rect x="112.5" y="851.8" width="12.9" height="12.8" fill="#30ffcf"/><rect x="124.8" y="851.8" width="12.9" height="12.8" fill="#80ff80"/><rect x="137.1" y="851.8" width="12.9" height="12.8" fill="#60ff9f"/><rect x="149.4" y="851.8" width="12.9" height="12.8" fill="#8fff70"/><rect x="161.6" y="851.8" width="12.9" height="12.8" fill="#efff10"/><rect x="173.9" y="851.8" width="12.9" height="12.8" fill="#50ffaf"/><rect x="186.2" y="851.8" width="12.9" height="12.8" fill="#80ff80"/><rect x="198.5" y="851.8" width="12.9" height="12.8" fill="#9fff60"/><rect x="210.8" y="851.8" width="12.9" height="12.8" fill="#8fff70"/><rect x="223" y="851.8" width="12.9" height="12.8" fill="#afff50"/><rect x="235.3" y="851.8" width="12.9" height="12.8" fill="#50ffaf"/><rect x="247.6" y="851.8" width="12.9" height="12.8" fill="#afff50"/><rect x="259.9" y="851.8" width="12.9" height="12.8" fill="#70ff8f"/><rect x="272.1" y="851.8" width="12.9" height="12.8" fill="#60ff9f"/><rect x="284.4" y="851.8" width="12.9" height="12.8" fill="#8fff70"/><rect x="296.7" y="851.8" width="12.9" height="12.8" fill="#70ff8f"/><rect x="309" y="851.8" width="12.9" height="12.8" fill="#20ffdf"/><rect x="321.3" y="851.8" width="12.9" height="12.8" fill="#00efff"/><rect x="333.5" y="851.8" width="12.9" height="12.8" fill="#00dfff"/><rect x="345.8" y="851.8" width="12.9" height="12.8" fill="#00bfff"/><rect x="358.1" y="851.8" width="12.9" height="12.8" fill="#0080ff"/><rect x="370.4" y="851.8" width="12.9" height="12.8" fill="#0020ff"/><rect x="382.7" y="851.8" width="12.9" height="12.8" fill="#0000bf"/><rect x="394.9" y="851.8" width="12.9" height="12.8" fill="#0020ff"/><rect x="407.2" y="851.8" width="12.9" height="12.8" fill="#0000df"/><rect x="2" y="864" width="12.9" height="12.8" fill="#0000ef"/><rect x="14.3" y="864" width="12.9" height="12.8" fill="#0000ff"/><rect x="26.6" y="864" width="12.9" height="12.8" fill="#0050ff"/><rect x="38.8" y="864" width="12.9" height="12.8" fill="#009fff"/><rect x="51.1" y="864" width="12.9" height="12.8" fill="#008fff"/><rect x="63.4" y="864" width="12.9" height="12.8" fill="#40ffbf"/><rect x="75.7" y="864" width="12.9" height="12.8" fill="#50ffaf"/><rect x="88" y="864" width="12.9" height="12.8" fill="#50ffaf"/><rect x="100.2" y="864" width="12.9" height="12.8" fill="#8fff70"/><rect x="112.5" y="864" width="12.9" height="12.8" fill="#8fff70"/><rect x="124.8" y="864" width="12.9" height="12.8" fill="#bfff40"/><rect x="137.1" y="864" width="12.9" height="12.8" fill="#9fff60"/><rect x="149.4" y="864" width="12.9" height="12.8" fill="#cfff30"/><rect x="161.6" y="864" width="12.9" height="12.8" fill="#dfff20"/><rect x="173.9" y="864" width="12.9" height="12.8" fill="#9fff60"/><rect x="186.2" y="864" width="12.9" height="12.8" fill="#9fff60"/><rect x="198.5" y="864" width="12.9" height="12.8" fill="#8fff70"/><rect x="210.8" y="864" width="12.9" height="12.8" fill="#afff50"/><rect x="223" y="864" width="12.9" height="12.8" fill="#8fff70"/><rect x="235.3" y="864" width="12.9" height="12.8" fill="#9fff60"/><rect x="247.6" y="864" width="12.9" height="12.8" fill="#afff50"/><rect x="259.9" y="864" width="12.9" height="12.8" fill="#afff50"/><rect x="272.1" y="864" width="12.9" height="12.8" fill="#70ff8f"/><rect x="284.4" y="864" width="12.9" height="12.8" fill="#afff50"/><rect x="296.7" y="864" width="12.9" height="12.8" fill="#70ff8f"/><rect x="309" y="864" width="12.9" height="12.8" fill="#50ffaf"/><rect x="321.3" y="864" width="12.9" height="12.8" fill="#20ffdf"/><rect x="333.5" y="864" width="12.9" height="12.8" fill="#00cfff"/><rect x="345.8" y="864" width="12.9" height="12.8" fill="#00efff"/><rect x="358.1" y="864" width="12.9" height="12.8" fill="#0080ff"/><rect x="370.4" y="864" width="12.9" height="12.8" fill="#009fff"/><rect x="382.7" y="864" width="12.9" height="12.8" fill="#0030ff"/><rect x="394.9" y="864" width="12.9" height="12.8" fill="#0030ff"/><rect x="407.2" y="864" width="12.9" height="12.8" fill="#0000ef"/><rect x="2" y="876.2" width="12.9" height="12.8" fill="#0040ff"/><rect x="14.3" y="876.2" width="12.9" height="12.8" fill="#0070ff"/><rect x="26.6" y="876.2" width="12.9" height="12.8" fill="#0070ff"/><rect x="38.8" y="876.2" width="12.9" height="12.8" fill="#00efff"/><rect x="51.1" y="876.2" width="12.9" height="12.8" fill="#00ffff"/><rect x="63.4" y="876.2" width="12.9" height="12.8" fill="#40ffbf"/><rect x="75.7" y="876.2" width="12.9" height="12.8" fill="#40ffbf"/><rect x="88" y="876.2" width="12.9" height="12.8" fill="#8fff70"/><rect x="100.2" y="876.2" width="12.9" height="12.8" fill="#afff50"/><rect x="112.5" y="876.2" width="12.9" height="12.8" fill="#8fff70"/><rect x="124.8" y="876.2" width="12.9" height="12.8" fill="#70ff8f"/><rect x="137.1" y="876.2" width="12.9" height="12.8" fill="#afff50"/><rect x="149.4" y="876.2" width="12.9" height="12.8" fill="#bfff40"/><rect x="161.6" y="876.2" width="12.9" height="12.8" fill="#bfff40"/><rect x="173.9" y="876.2" width="12.9" height="12.8" fill="#9fff60"/><rect x="186.2" y="876.2" width="12.9" height="12.8" fill="#afff50"/><rect x="198.5" y="876.2" width="12.9" height="12.8" fill="#bfff40"/><rect x="210.8" y="876.2" width="12.9" height="12.8" fill="#60ff9f"/><rect x="223" y="876.2" width="12.9" height="12.8" fill="#afff50"/><rect x="235.3" y="876.2" width="12.9" height="12.8" fill="#efff10"/><rect x="247.6" y="876.2" width="12.9" height="12.8" fill="#80ff80"/><rect x="259.9" y="876.2" width="12.9" height="12.8" fill="#9fff60"/><rect x="272.1" y="876.2" width="12.9" height="12.8" fill="#dfff20"/><rect x="284.4" y="876.2" width="12.9" height="12.8" fill="#bfff40"/><rect x="296.7" y="876.2" width="12.9" height="12.8" fill="#bfff40"/><rect x="309" y="876.2" width="12.9" height="12.8" fill="#80ff80"/><rect x="321.3" y="876.2" width="12.9" height="12.8" fill="#30ffcf"/><rect x="333.5" y="876.2" width="12.9" height="12.8" fill="#afff50"/><rect x="345.8" y="876.2" width="12.9" height="12.8" fill="#20ffdf"/><rect x="358.1" y="876.2" width="12.9" height="12.8" fill="#00efff"/><rect x="370.4" y="876.2" width="12.9" height="12.8" fill="#00efff"/><rect x="382.7" y="876.2" width="12.9" height="12.8" fill="#0080ff"/><rect x="394.9" y="876.2" width="12.9" height="12.8" fill="#0020ff"/><rect x="407.2" y="876.2" width="12.9" height="12.8" fill="#0000bf"/><rect x="2" y="888.5" width="12.9" height="12.8" fill="#0030ff"/><rect x="14.3" y="888.5" width="12.9" height="12.8" fill="#0060ff"/><rect x="26.6" y="888.5" width="12.9" height="12.8" fill="#008fff"/><rect x="38.8" y="888.5" width="12.9" height="12.8" fill="#00bfff"/><rect x="51.1" y="888.5" width="12.9" height="12.8" fill="#00ffff"/><rect x="63.4" y="888.5" width="12.9" height="12.8" fill="#50ffaf"/><rect x="75.7" y="888.5" width="12.9" height="12.8" fill="#60ff9f"/><rect x="88" y="888.5" width="12.9" height="12.8" fill="#9fff60"/><rect x="100.2" y="888.5" width="12.9" height="12.8" fill="#cfff30"/><rect x="112.5" y="888.5" width="12.9" height="12.8" fill="#bfff40"/><rect x="124.8" y="888.5" width="12.9" height="12.8" fill="#bfff40"/><rect x="137.1" y="888.5" width="12.9" height="12.8" fill="#efff10"/><rect x="149.4" y="888.5" width="12.9" height="12.8" fill="#dfff20"/><rect x="161.6" y="888.5" width="12.9" height="12.8" fill="#afff50"/><rect x="173.9" y="888.5" width="12.9" height="12.8" fill="#cfff30"/><rect x="186.2" y="888.5" width="12.9" height="12.8" fill="#efff10"/><rect x="198.5" y="888.5" width="12.9" height="12.8" fill="#bfff40"/><rect x="210.8" y="888.5" width="12.9" height="12.8" fill="#efff10"/><rect x="223" y="888.5" width="12.9" height="12.8" fill="#8fff70"/><rect x="235.3" y="888.5" width="12.9" height="12.8" fill="#80ff80"/><rect x="247.6" y="888.5" width="12.9" height="12.8" fill="#dfff20"/><rect x="259.9" y="888.5" width="12.9" height="12.8" fill="#cfff30"/><rect x="272.1" y="888.5" width="12.9" height="12.8" fill="#80ff80"/><rect x="284.4" y="888.5" width="12.9" height="12.8" fill="#bfff40"/><rect x="296.7" y="888.5" width="12.9" height="12.8" fill="#dfff20"/><rect x="309" y="888.5" width="12.9" height="12.8" fill="#70ff8f"/><rect x="321.3" y="888.5" width="12.9" height="12.8" fill="#60ff9f"/><rect x="333.5" y="888.5" width="12.9" height="12.8" fill="#50ffaf"/><rect x="345.8" y="888.5" width="12.9" height="12.8" fill="#30ffcf"/><rect x="358.1" y="888.5" width="12.9" height="12.8" fill="#00efff"/><rect x="370.4" y="888.5" width="12.9" height="12.8" fill="#00dfff"/><rect x="382.7" y="888.5" width="12.9" height="12.8" fill="#0080ff"/><rect x="394.9" y="888.5" width="12.9" height="12.8" fill="#0060ff"/><rect x="407.2" y="888.5" width="12.9" height="12.8" fill="#0050ff"/><rect x="2" y="900.8" width="12.9" height="12.8" fill="#0030ff"/><rect x="14.3" y="900.8" width="12.9" height="12.8" fill="#00afff"/><rect x="26.6" y="900.8" width="12.9" height="12.8" fill="#00ffff"/><rect x="38.8" y="900.8" width="12.9" height="12.8" fill="#00bfff"/><rect x="51.1" y="900.8" width="12.9" height="12.8" fill="#50ffaf"/><rect x="63.4" y="900.8" width="12.9" height="12.8" fill="#70ff8f"/><rect x="75.7" y="900.8" width="12.9" height="12.8" fill="#80ff80"/><rect x="88" y="900.8" width="12.9" height="12.8" fill="#8fff70"/><rect x="100.2" y="900.8" width="12.9" height="12.8" fill="#afff50"/><rect x="112.5" y="900.8" width="12.9" height="12.8" fill="#ffff00"/><rect x="124.8" y="900.8" width="12.9" height="12.8" fill="#70ff8f"/><rect x="137.1" y="900.8" width="12.9" height="12.8" fill="#dfff20"/><rect x="149.4" y="900.8" width="12.9" height="12.8" fill="#dfff20"/><rect x="161.6" y="900.8" width="12.9" height="12.8" fill="#ff8f00"/><rect x="173.9" y="900.8" width="12.9" height="12.8" fill="#efff10"/><rect x="186.2" y="900.8" width="12.9" height="12.8" fill="#ffef00"/><rect x="198.5" y="900.8" width="12.9" height="12.8" fill="#ffff00"/><rect x="210.8" y="900.8" width="12.9" height="12.8" fill="#ffef00"/><rect x="223" y="900.8" width="12.9" height="12.8" fill="#bfff40"/><rect x="235.3" y="900.8" width="12.9" height="12.8" fill="#cfff30"/><rect x="247.6" y="900.8" width="12.9" height="12.8" fill="#dfff20"/><rect x="259.9" y="900.8" width="12.9" height="12.8" fill="#ffff00"/><rect x="272.1" y="900.8" width="12.9" height="12.8" fill="#70ff8f"/><rect x="284.4" y="900.8" width="12.9" height="12.8" fill="#ffef00"/><rect x="296.7" y="900.8" width="12.9" height="12.8" fill="#efff10"/><rect x="309" y="900.8" width="12.9" height="12.8" fill="#9fff60"/><rect x="321.3" y="900.8" width="12.9" height="12.8" fill="#9fff60"/><rect x="333.5" y="900.8" width="12.9" height="12.8" fill="#cfff30"/><rect x="345.8" y="900.8" width="12.9" height="12.8" fill="#8fff70"/><rect x="358.1" y="900.8" width="12.9" height="12.8" fill="#80ff80"/><rect x="370.4" y="900.8" width="12.9" height="12.8" fill="#30ffcf"/><rect x="382.7" y="900.8" width="12.9" height="12.8" fill="#10ffef"/><rect x="394.9" y="900.8" width="12.9" height="12.8" fill="#009fff"/><rect x="407.2" y="900.8" width="12.9" height="12.8" fill="#0060ff"/><rect x="2" y="913" width="12.9" height="12.8" fill="#00afff"/><rect x="14.3" y="913" width="12.9" height="12.8" fill="#00afff"/><rect x="26.6" y="913" width="12.9" height="12.8" fill="#00cfff"/><rect x="38.8" y="913" width="12.9" height="12.8" fill="#50ffaf"/><rect x="51.1" y="913" width="12.9" height="12.8" fill="#60ff9f"/><rect x="63.4" y="913" width="12.9" height="12.8" fill="#9fff60"/><rect x="75.7" y="913" width="12.9" height="12.8" fill="#80ff80"/><rect x="88" y="913" width="12.9" height="12.8" fill="#bfff40"/><rect x="100.2" y="913" width="12.9" height="12.8" fill="#dfff20"/><rect x="112.5" y="913" width="12.9" height="12.8" fill="#ffff00"/><rect x="124.8" y="913" width="12.9" height="12.8" fill="#ffef00"/><rect x="137.1" y="913" width="12.9" height="12.8" fill="#efff10"/><rect x="149.4" y="913" width="12.9" height="12.8" fill="#ffef00"/><rect x="161.6" y="913" width="12.9" height="12.8" fill="#ffaf00"/><rect x="173.9" y="913" width="12.9" height="12.8" fill="#ffff00"/><rect x="186.2" y="913" width="12.9" height="12.8" fill="#ffdf00"/><rect x="198.5" y="913" width="12.9" height="12.8" fill="#ffef00"/><rect x="210.8" y="913" width="12.9" height="12.8" fill="#efff10"/><rect x="223" y="913" width="12.9" height="12.8" fill="#ff9f00"/><rect x="235.3" y="913" width="12.9" height="12.8" fill="#dfff20"/><rect x="247.6" y="913" width="12.9" height="12.8" fill="#ffef00"/><rect x="259.9" y="913" width="12.9" height="12.8" fill="#efff10"/><rect x="272.1" y="913" width="12.9" height="12.8" fill="#ffef00"/><rect x="284.4" y="913" width="12.9" height="12.8" fill="#efff10"/><rect x="296.7" y="913" width="12.9" height="12.8" fill="#70ff8f"/><rect x="309" y="913" width="12.9" height="12.8" fill="#cfff30"/><rect x="321.3" y="913" width="12.9" height="12.8" fill="#8fff70"/><rect x="333.5" y="913" width="12.9" height="12.8" fill="#9fff60"/><rect x="345.8" y="913" width="12.9" height="12.8" fill="#8fff70"/><rect x="358.1" y="913" width="12.9" height="12.8" fill="#20ffdf"/><rect x="370.4" y="913" width="12.9" height="12.8" fill="#30ffcf"/><rect x="382.7" y="913" width="12.9" height="12.8" fill="#00ffff"/><rect x="394.9" y="913" width="12.9" height="12.8" fill="#00dfff"/><rect x="407.2" y="913" width="12.9" height="12.8" fill="#009fff"/><rect x="2" y="925.2" width="12.9" height="12.8" fill="#009fff"/><rect x="14.3" y="925.2" width="12.9" height="12.8" fill="#00cfff"/><rect x="26.6" y="925.2" width="12.9" height="12.8" fill="#40ffbf"/><rect x="38.8" y="925.2" width="12.9" height="12.8" fill="#20ffdf"/><rect x="51.1" y="925.2" width="12.9" height="12.8" fill="#bfff40"/><rect x="63.4" y="925.2" width="12.9" height="12.8" fill="#70ff8f"/><rect x="75.7" y="925.2" width="12.9" height="12.8" fill="#cfff30"/><rect x="88" y="925.2" width="12.9" height="12.8" fill="#9fff60"/><rect x="100.2" y="925.2" width="12.9" height="12.8" fill="#afff50"/><rect x="112.5" y="925.2" width="12.9" height="12.8" fill="#ffdf00"/><rect x="124.8" y="925.2" width="12.9" height="12.8" fill="#ffff00"/><rect x="137.1" y="925.2" width="12.9" height="12.8" fill="#efff10"/><rect x="149.4" y="925.2" width="12.9" height="12.8" fill="#ffff00"/><rect x="161.6" y="925.2" width="12.9" height="12.8" fill="#ff8f00"/><rect x="173.9" y="925.2" width="12.9" height="12.8" fill="#ffef00"/><rect x="186.2" y="925.2" width="12.9" height="12.8" fill="#ffef00"/><rect x="198.5" y="925.2" width="12.9" height="12.8" fill="#ffdf00"/><rect x="210.8" y="925.2" width="12.9" height="12.8" fill="#ffef00"/><rect x="223" y="925.2" width="12.9" height="12.8" fill="#ff8f00"/><rect x="235.3" y="925.2" width="12.9" height="12.8" fill="#dfff20"/><rect x="247.6" y="925.2" width="12.9" height="12.8" fill="#ffbf00"/><rect x="259.9" y="925.2" width="12.9" height="12.8" fill="#dfff20"/><rect x="272.1" y="925.2" width="12.9" height="12.8" fill="#ffff00"/><rect x="284.4" y="925.2" width="12.9" height="12.8" fill="#ffef00"/><rect x="296.7" y="925.2" width="12.9" height="12.8" fill="#bfff40"/><rect x="309" y="925.2" width="12.9" height="12.8" fill="#afff50"/><rect x="321.3" y="925.2" width="12.9" height="12.8" fill="#cfff30"/><rect x="333.5" y="925.2" width="12.9" height="12.8" fill="#afff50"/><rect x="345.8" y="925.2" width="12.9" height="12.8" fill="#80ff80"/><rect x="358.1" y="925.2" width="12.9" height="12.8" fill="#60ff9f"/><rect x="370.4" y="925.2" width="12.9" height="12.8" fill="#50ffaf"/><rect x="382.7" y="925.2" width="12.9" height="12.8" fill="#40ffbf"/><rect x="394.9" y="925.2" width="12.9" height="12.8" fill="#20ffdf"/><rect x="407.2" y="925.2" width="12.9" height="12.8" fill="#00afff"/><rect x="2" y="937.5" width="12.9" height="12.8" fill="#00cfff"/><rect x="14.3" y="937.5" width="12.9" height="12.8" fill="#00dfff"/><rect x="26.6" y="937.5" width="12.9" height="12.8" fill="#60ff9f"/><rect x="38.8" y="937.5" width="12.9" height="12.8" fill="#8fff70"/><rect x="51.1" y="937.5" width="12.9" height="12.8" fill="#afff50"/><rect x="63.4" y="937.5" width="12.9" height="12.8" fill="#80ff80"/><rect x="75.7" y="937.5" width="12.9" height="12.8" fill="#70ff8f"/><rect x="88" y="937.5" width="12.9" height="12.8" fill="#bfff40"/><rect x="100.2" y="937.5" width="12.9" height="12.8" fill="#dfff20"/><rect x="112.5" y="937.5" width="12.9" height="12.8" fill="#dfff20"/><rect x="124.8" y="937.5" width="12.9" height="12.8" fill="#ffcf00"/><rect x="137.1" y="937.5" width="12.9" height="12.8" fill="#ffdf00"/><rect x="149.4" y="937.5" width="12.9" height="12.8" fill="#ffbf00"/><rect x="161.6" y="937.5" width="12.9" height="12.8" fill="#ff8f00"/><rect x="173.9" y="937.5" width="12.9" height="12.8" fill="#ffaf00"/><rect x="186.2" y="937.5" width="12.9" height="12.8" fill="#ffcf00"/><rect x="198.5" y="937.5" width="12.9" height="12.8" fill="#ffdf00"/><rect x="210.8" y="937.5" width="12.9" height="12.8" fill="#ff9f00"/><rect x="223" y="937.5" width="12.9" height="12.8" fill="#ffcf00"/><rect x="235.3" y="937.5" width="12.9" height="12.8" fill="#ffef00"/><rect x="247.6" y="937.5" width="12.9" height="12.8" fill="#ffff00"/><rect x="259.9" y="937.5" width="12.9" height="12.8" fill="#ffaf00"/><rect x="272.1" y="937.5" width="12.9" height="12.8" fill="#ffdf00"/><rect x="284.4" y="937.5" width="12.9" height="12.8" fill="#dfff20"/><rect x="296.7" y="937.5" width="12.9" height="12.8" fill="#ffff00"/><rect x="309" y="937.5" width="12.9" height="12.8" fill="#afff50"/><rect x="321.3" y="937.5" width="12.9" height="12.8" fill="#bfff40"/><rect x="333.5" y="937.5" width="12.9" height="12.8" fill="#50ffaf"/><rect x="345.8" y="937.5" width="12.9" height="12.8" fill="#50ffaf"/><rect x="358.1" y="937.5" width="12.9" height="12.8" fill="#80ff80"/><rect x="370.4" y="937.5" width="12.9" height="12.8" fill="#9fff60"/><rect x="382.7" y="937.5" width="12.9" height="12.8" fill="#50ffaf"/><rect x="394.9" y="937.5" width="12.9" height="12.8" fill="#60ff9f"/><rect x="407.2" y="937.5" width="12.9" height="12.8" fill="#00afff"/><rect x="2" y="949.8" width="12.9" height="12.8" fill="#20ffdf"/><rect x="14.3" y="949.8" width="12.9" height="12.8" fill="#30ffcf"/><rect x="26.6" y="949.8" width="12.9" height="12.8" fill="#50ffaf"/><rect x="38.8" y="949.8" width="12.9" height="12.8" fill="#afff50"/><rect x="51.1" y="949.8" width="12.9" height="12.8" fill="#60ff9f"/><rect x="63.4" y="949.8" width="12.9" height="12.8" fill="#70ff8f"/><rect x="75.7" y="949.8" width="12.9" height="12.8" fill="#9fff60"/><rect x="88" y="949.8" width="12.9" height="12.8" fill="#80ff80"/><rect x="100.2" y="949.8" width="12.9" height="12.8" fill="#dfff20"/><rect x="112.5" y="949.8" width="12.9" height="12.8" fill="#ffff00"/><rect x="124.8" y="949.8" width="12.9" height="12.8" fill="#ffcf00"/><rect x="137.1" y="949.8" width="12.9" height="12.8" fill="#cfff30"/><rect x="149.4" y="949.8" width="12.9" height="12.8" fill="#ffdf00"/><rect x="161.6" y="949.8" width="12.9" height="12.8" fill="#ff8f00"/><rect x="173.9" y="949.8" width="12.9" height="12.8" fill="#ff8000"/><rect x="186.2" y="949.8" width="12.9" height="12.8" fill="#ffff00"/><rect x="198.5" y="949.8" width="12.9" height="12.8" fill="#ffbf00"/><rect x="210.8" y="949.8" width="12.9" height="12.8" fill="#ffbf00"/><rect x="223" y="949.8" width="12.9" height="12.8" fill="#ff9f00"/><rect x="235.3" y="949.8" width="12.9" height="12.8" fill="#ffbf00"/><rect x="247.6" y="949.8" width="12.9" height="12.8" fill="#ffdf00"/><rect x="259.9" y="949.8" width="12.9" height="12.8" fill="#ffcf00"/><rect x="272.1" y="949.8" width="12.9" height="12.8" fill="#dfff20"/><rect x="284.4" y="949.8" width="12.9" height="12.8" fill="#dfff20"/><rect x="296.7" y="949.8" width="12.9" height="12.8" fill="#ffff00"/><rect x="309" y="949.8" width="12.9" height="12.8" fill="#cfff30"/><rect x="321.3" y="949.8" width="12.9" height="12.8" fill="#8fff70"/><rect x="333.5" y="949.8" width="12.9" height="12.8" fill="#bfff40"/><rect x="345.8" y="949.8" width="12.9" height="12.8" fill="#cfff30"/><rect x="358.1" y="949.8" width="12.9" height="12.8" fill="#9fff60"/><rect x="370.4" y="949.8" width="12.9" height="12.8" fill="#8fff70"/><rect x="382.7" y="949.8" width="12.9" height="12.8" fill="#80ff80"/><rect x="394.9" y="949.8" width="12.9" height="12.8" fill="#50ffaf"/><rect x="407.2" y="949.8" width="12.9" height="12.8" fill="#00cfff"/><rect x="2" y="962" width="12.9" height="12.8" fill="#60ff9f"/><rect x="14.3" y="962" width="12.9" height="12.8" fill="#40ffbf"/><rect x="26.6" y="962" width="12.9" height="12.8" fill="#8fff70"/><rect x="38.8" y="962" width="12.9" height="12.8" fill="#9fff60"/><rect x="51.1" y="962" width="12.9" height="12.8" fill="#70ff8f"/><rect x="63.4" y="962" width="12.9" height="12.8" fill="#bfff40"/><rect x="75.7" y="962" width="12.9" height="12.8" fill="#bfff40"/><rect x="88" y="962" width="12.9" height="12.8" fill="#70ff8f"/><rect x="100.2" y="962" width="12.9" height="12.8" fill="#cfff30"/><rect x="112.5" y="962" width="12.9" height="12.8" fill="#efff10"/><rect x="124.8" y="962" width="12.9" height="12.8" fill="#ffef00"/><rect x="137.1" y="962" width="12.9" height="12.8" fill="#ffcf00"/><rect x="149.4" y="962" width="12.9" height="12.8" fill="#ffbf00"/><rect x="161.6" y="962" width="12.9" height="12.8" fill="#ffcf00"/><rect x="173.9" y="962" width="12.9" height="12.8" fill="#ffaf00"/><rect x="186.2" y="962" width="12.9" height="12.8" fill="#ff7000"/><rect x="198.5" y="962" width="12.9" height="12.8" fill="#ff8000"/><rect x="210.8" y="962" width="12.9" height="12.8" fill="#ffbf00"/><rect x="223" y="962" width="12.9" height="12.8" fill="#ff8000"/><rect x="235.3" y="962" width="12.9" height="12.8" fill="#ffef00"/><rect x="247.6" y="962" width="12.9" height="12.8" fill="#ffff00"/><rect x="259.9" y="962" width="12.9" height="12.8" fill="#ffff00"/><rect x="272.1" y="962" width="12.9" height="12.8" fill="#ff9f00"/><rect x="284.4" y="962" width="12.9" height="12.8" fill="#efff10"/><rect x="296.7" y="962" width="12.9" height="12.8" fill="#ffef00"/><rect x="309" y="962" width="12.9" height="12.8" fill="#dfff20"/><rect x="321.3" y="962" width="12.9" height="12.8" fill="#afff50"/><rect x="333.5" y="962" width="12.9" height="12.8" fill="#80ff80"/><rect x="345.8" y="962" width="12.9" height="12.8" fill="#30ffcf"/><rect x="358.1" y="962" width="12.9" height="12.8" fill="#60ff9f"/><rect x="370.4" y="962" width="12.9" height="12.8" fill="#8fff70"/><rect x="382.7" y="962" width="12.9" height="12.8" fill="#80ff80"/><rect x="394.9" y="962" width="12.9" height="12.8" fill="#30ffcf"/><rect x="407.2" y="962" width="12.9" height="12.8" fill="#00afff"/><rect x="2" y="974.2" width="12.9" height="12.8" fill="#50ffaf"/><rect x="14.3" y="974.2" width="12.9" height="12.8" fill="#70ff8f"/><rect x="26.6" y="974.2" width="12.9" height="12.8" fill="#60ff9f"/><rect x="38.8" y="974.2" width="12.9" height="12.8" fill="#cfff30"/><rect x="51.1" y="974.2" width="12.9" height="12.8" fill="#80ff80"/><rect x="63.4" y="974.2" width="12.9" height="12.8" fill="#afff50"/><rect x="75.7" y="974.2" width="12.9" height="12.8" fill="#9fff60"/><rect x="88" y="974.2" width="12.9" height="12.8" fill="#efff10"/><rect x="100.2" y="974.2" width="12.9" height="12.8" fill="#efff10"/><rect x="112.5" y="974.2" width="12.9" height="12.8" fill="#ffef00"/><rect x="124.8" y="974.2" width="12.9" height="12.8" fill="#ffcf00"/><rect x="137.1" y="974.2" width="12.9" height="12.8" fill="#ffdf00"/><rect x="149.4" y="974.2" width="12.9" height="12.8" fill="#ffbf00"/><rect x="161.6" y="974.2" width="12.9" height="12.8" fill="#ffdf00"/><rect x="173.9" y="974.2" width="12.9" height="12.8" fill="#ff4000"/><rect x="186.2" y="974.2" width="12.9" height="12.8" fill="#ff8000"/><rect x="198.5" y="974.2" width="12.9" height="12.8" fill="#ff8000"/><rect x="210.8" y="974.2" width="12.9" height="12.8" fill="#ff8000"/><rect x="223" y="974.2" width="12.9" height="12.8" fill="#ff5000"/><rect x="235.3" y="974.2" width="12.9" height="12.8" fill="#ff8000"/><rect x="247.6" y="974.2" width="12.9" height="12.8" fill="#ffdf00"/><rect x="259.9" y="974.2" width="12.9" height="12.8" fill="#ffdf00"/><rect x="272.1" y="974.2" width="12.9" height="12.8" fill="#ffdf00"/><rect x="284.4" y="974.2" width="12.9" height="12.8" fill="#ffef00"/><rect x="296.7" y="974.2" width="12.9" height="12.8" fill="#ffff00"/><rect x="309" y="974.2" width="12.9" height="12.8" fill="#cfff30"/><rect x="321.3" y="974.2" width="12.9" height="12.8" fill="#bfff40"/><rect x="333.5" y="974.2" width="12.9" height="12.8" fill="#9fff60"/><rect x="345.8" y="974.2" width="12.9" height="12.8" fill="#afff50"/><rect x="358.1" y="974.2" width="12.9" height="12.8" fill="#afff50"/><rect x="370.4" y="974.2" width="12.9" height="12.8" fill="#50ffaf"/><rect x="382.7" y="974.2" width="12.9" height="12.8" fill="#70ff8f"/><rect x="394.9" y="974.2" width="12.9" height="12.8" fill="#50ffaf"/><rect x="407.2" y="974.2" width="12.9" height="12.8" fill="#40ffbf"/><rect x="2" y="986.5" width="12.9" height="12.8" fill="#50ffaf"/><rect x="14.3" y="986.5" width="12.9" height="12.8" fill="#afff50"/><rect x="26.6" y="986.5" width="12.9" height="12.8" fill="#80ff80"/><rect x="38.8" y="986.5" width="12.9" height="12.8" fill="#bfff40"/><rect x="51.1" y="986.5" width="12.9" height="12.8" fill="#bfff40"/><rect x="63.4" y="986.5" width="12.9" height="12.8" fill="#cfff30"/><rect x="75.7" y="986.5" width="12.9" height="12.8" fill="#cfff30"/><rect x="88" y="986.5" width="12.9" height="12.8" fill="#dfff20"/><rect x="100.2" y="986.5" width="12.9" height="12.8" fill="#ffbf00"/><rect x="112.5" y="986.5" width="12.9" height="12.8" fill="#ffbf00"/><rect x="124.8" y="986.5" width="12.9" height="12.8" fill="#ffef00"/><rect x="137.1" y="986.5" width="12.9" height="12.8" fill="#ffcf00"/><rect x="149.4" y="986.5" width="12.9" height="12.8" fill="#ffbf00"/><rect x="161.6" y="986.5" width="12.9" height="12.8" fill="#ffbf00"/><rect x="173.9" y="986.5" width="12.9" height="12.8" fill="#ff8f00"/><rect x="186.2" y="986.5" width="12.9" height="12.8" fill="#ff0000"/><rect x="198.5" y="986.5" width="12.9" height="12.8" fill="#ff2000"/><rect x="210.8" y="986.5" width="12.9" height="12.8" fill="#ff4000"/><rect x="223" y="986.5" width="12.9" height="12.8" fill="#ff8f00"/><rect x="235.3" y="986.5" width="12.9" height="12.8" fill="#ff8f00"/><rect x="247.6" y="986.5" width="12.9" height="12.8" fill="#ffef00"/><rect x="259.9" y="986.5" width="12.9" height="12.8" fill="#ffbf00"/><rect x="272.1" y="986.5" width="12.9" height="12.8" fill="#ffef00"/><rect x="284.4" y="986.5" width="12.9" height="12.8" fill="#ffbf00"/><rect x="296.7" y="986.5" width="12.9" height="12.8" fill="#ffef00"/><rect x="309" y="986.5" width="12.9" height="12.8" fill="#ffff00"/><rect x="321.3" y="986.5" width="12.9" height="12.8" fill="#dfff20"/><rect x="333.5" y="986.5" width="12.9" height="12.8" fill="#ffff00"/><rect x="345.8" y="986.5" width="12.9" height="12.8" fill="#dfff20"/><rect x="358.1" y="986.5" width="12.9" height="12.8" fill="#afff50"/><rect x="370.4" y="986.5" width="12.9" height="12.8" fill="#80ff80"/><rect x="382.7" y="986.5" width="12.9" height="12.8" fill="#8fff70"/><rect x="394.9" y="986.5" width="12.9" height="12.8" fill="#30ffcf"/><rect x="407.2" y="986.5" width="12.9" height="12.8" fill="#10ffef"/><rect x="2" y="998.8" width="12.9" height="12.8" fill="#8fff70"/><rect x="14.3" y="998.8" width="12.9" height="12.8" fill="#9fff60"/><rect x="26.6" y="998.8" width="12.9" height="12.8" fill="#bfff40"/><rect x="38.8" y="998.8" width="12.9" height="12.8" fill="#efff10"/><rect x="51.1" y="998.8" width="12.9" height="12.8" fill="#bfff40"/><rect x="63.4" y="998.8" width="12.9" height="12.8" fill="#ffff00"/><rect x="75.7" y="998.8" width="12.9" height="12.8" fill="#efff10"/><rect x="88" y="998.8" width="12.9" height="12.8" fill="#efff10"/><rect x="100.2" y="998.8" width="12.9" height="12.8" fill="#ffff00"/><rect x="112.5" y="998.8" width="12.9" height="12.8" fill="#ff9f00"/><rect x="124.8" y="998.8" width="12.9" height="12.8" fill="#ffcf00"/><rect x="137.1" y="998.8" width="12.9" height="12.8" fill="#ffdf00"/><rect x="149.4" y="998.8" width="12.9" height="12.8" fill="#ff8f00"/><rect x="161.6" y="998.8" width="12.9" height="12.8" fill="#ffbf00"/><rect x="173.9" y="998.8" width="12.9" height="12.8" fill="#af0000"/><rect x="186.2" y="998.8" width="12.9" height="12.8" fill="#ff1000"/><rect x="198.5" y="998.8" width="12.9" height="12.8" fill="#ff5000"/><rect x="210.8" y="998.8" width="12.9" height="12.8" fill="#ff8000"/><rect x="223" y="998.8" width="12.9" height="12.8" fill="#ff1000"/><rect x="235.3" y="998.8" width="12.9" height="12.8" fill="#ff3000"/><rect x="247.6" y="998.8" width="12.9" height="12.8" fill="#ff8000"/><rect x="259.9" y="998.8" width="12.9" height="12.8" fill="#ffcf00"/><rect x="272.1" y="998.8" width="12.9" height="12.8" fill="#ffaf00"/><rect x="284.4" y="998.8" width="12.9" height="12.8" fill="#ffdf00"/><rect x="296.7" y="998.8" width="12.9" height="12.8" fill="#ffef00"/><rect x="309" y="998.8" width="12.9" height="12.8" fill="#ffff00"/><rect x="321.3" y="998.8" width="12.9" height="12.8" fill="#9fff60"/><rect x="333.5" y="998.8" width="12.9" height="12.8" fill="#9fff60"/><rect x="345.8" y="998.8" width="12.9" height="12.8" fill="#80ff80"/><rect x="358.1" y="998.8" width="12.9" height="12.8" fill="#9fff60"/><rect x="370.4" y="998.8" width="12.9" height="12.8" fill="#bfff40"/><rect x="382.7" y="998.8" width="12.9" height="12.8" fill="#8fff70"/><rect x="394.9" y="998.8" width="12.9" height="12.8" fill="#50ffaf"/><rect x="407.2" y="998.8" width="12.9" height="12.8" fill="#8fff70"/><rect x="2" y="1011" width="12.9" height="12.8" fill="#60ff9f"/><rect x="14.3" y="1011" width="12.9" height="12.8" fill="#bfff40"/><rect x="26.6" y="1011" width="12.9" height="12.8" fill="#dfff20"/><rect x="38.8" y="1011" width="12.9" height="12.8" fill="#cfff30"/><rect x="51.1" y="1011" width="12.9" height="12.8" fill="#ffef00"/><rect x="63.4" y="1011" width="12.9" height="12.8" fill="#cfff30"/><rect x="75.7" y="1011" width="12.9" height="12.8" fill="#efff10"/><rect x="88" y="1011" width="12.9" height="12.8" fill="#cfff30"/><rect x="100.2" y="1011" width="12.9" height="12.8" fill="#ffff00"/><rect x="112.5" y="1011" width="12.9" height="12.8" fill="#ffaf00"/><rect x="124.8" y="1011" width="12.9" height="12.8" fill="#ffbf00"/><rect x="137.1" y="1011" width="12.9" height="12.8" fill="#ffef00"/><rect x="149.4" y="1011" width="12.9" height="12.8" fill="#ffef00"/><rect x="161.6" y="1011" width="12.9" height="12.8" fill="#ffaf00"/><rect x="173.9" y="1011" width="12.9" height="12.8" fill="#ff3000"/><rect x="186.2" y="1011" width="12.9" height="12.8" fill="#ff3000"/><rect x="198.5" y="1011" width="12.9" height="12.8" fill="#ff5000"/><rect x="210.8" y="1011" width="12.9" height="12.8" fill="#ff1000"/><rect x="223" y="1011" width="12.9" height="12.8" fill="#ff6000"/><rect x="235.3" y="1011" width="12.9" height="12.8" fill="#ff1000"/><rect x="247.6" y="1011" width="12.9" height="12.8" fill="#ff8000"/><rect x="259.9" y="1011" width="12.9" height="12.8" fill="#ffbf00"/><rect x="272.1" y="1011" width="12.9" height="12.8" fill="#ffdf00"/><rect x="284.4" y="1011" width="12.9" height="12.8" fill="#ffff00"/><rect x="296.7" y="1011" width="12.9" height="12.8" fill="#ffdf00"/><rect x="309" y="1011" width="12.9" height="12.8" fill="#bfff40"/><rect x="321.3" y="1011" width="12.9" height="12.8" fill="#efff10"/><rect x="333.5" y="1011" width="12.9" height="12.8" fill="#dfff20"/><rect x="345.8" y="1011" width="12.9" height="12.8" fill="#dfff20"/><rect x="358.1" y="1011" width="12.9" height="12.8" fill="#cfff30"/><rect x="370.4" y="1011" width="12.9" height="12.8" fill="#8fff70"/><rect x="382.7" y="1011" width="12.9" height="12.8" fill="#9fff60"/><rect x="394.9" y="1011" width="12.9" height="12.8" fill="#50ffaf"/><rect x="407.2" y="1011" width="12.9" height="12.8" fill="#8fff70"/><rect x="2" y="1023.2" width="12.9" height="12.8" fill="#70ff8f"/><rect x="14.3" y="1023.2" width="12.9" height="12.8" fill="#bfff40"/><rect x="26.6" y="1023.2" width="12.9" height="12.8" fill="#8fff70"/><rect x="38.8" y="1023.2" width="12.9" height="12.8" fill="#9fff60"/><rect x="51.1" y="1023.2" width="12.9" height="12.8" fill="#bfff40"/><rect x="63.4" y="1023.2" width="12.9" height="12.8" fill="#dfff20"/><rect x="75.7" y="1023.2" width="12.9" height="12.8" fill="#ffef00"/><rect x="88" y="1023.2" width="12.9" height="12.8" fill="#ffef00"/><rect x="100.2" y="1023.2" width="12.9" height="12.8" fill="#ffef00"/><rect x="112.5" y="1023.2" width="12.9" height="12.8" fill="#ffcf00"/><rect x="124.8" y="1023.2" width="12.9" height="12.8" fill="#ff9f00"/><rect x="137.1" y="1023.2" width="12.9" height="12.8" fill="#ff8000"/><rect x="149.4" y="1023.2" width="12.9" height="12.8" fill="#ff9f00"/><rect x="161.6" y="1023.2" width="12.9" height="12.8" fill="#ff8f00"/><rect x="173.9" y="1023.2" width="12.9" height="12.8" fill="#ffbf00"/><rect x="186.2" y="1023.2" width="12.9" height="12.8" fill="#ff5000"/><rect x="198.5" y="1023.2" width="12.9" height="12.8" fill="#ff8000"/><rect x="210.8" y="1023.2" width="12.9" height="12.8" fill="#ff1000"/><rect x="223" y="1023.2" width="12.9" height="12.8" fill="#ff8000"/><rect x="235.3" y="1023.2" width="12.9" height="12.8" fill="#ff6000"/><rect x="247.6" y="1023.2" width="12.9" height="12.8" fill="#ff9f00"/><rect x="259.9" y="1023.2" width="12.9" height="12.8" fill="#ffef00"/><rect x="272.1" y="1023.2" width="12.9" height="12.8" fill="#ffef00"/><rect x="284.4" y="1023.2" width="12.9" height="12.8" fill="#efff10"/><rect x="296.7" y="1023.2" width="12.9" height="12.8" fill="#ffff00"/><rect x="309" y="1023.2" width="12.9" height="12.8" fill="#ffcf00"/><rect x="321.3" y="1023.2" width="12.9" height="12.8" fill="#cfff30"/><rect x="333.5" y="1023.2" width="12.9" height="12.8" fill="#bfff40"/><rect x="345.8" y="1023.2" width="12.9" height="12.8" fill="#bfff40"/><rect x="358.1" y="1023.2" width="12.9" height="12.8" fill="#9fff60"/><rect x="370.4" y="1023.2" width="12.9" height="12.8" fill="#8fff70"/><rect x="382.7" y="1023.2" width="12.9" height="12.8" fill="#efff10"/><rect x="394.9" y="1023.2" width="12.9" height="12.8" fill="#9fff60"/><rect x="407.2" y="1023.2" width="12.9" height="12.8" fill="#70ff8f"/><rect x="2" y="1035.5" width="12.9" height="12.8" fill="#80ff80"/><rect x="14.3" y="1035.5" width="12.9" height="12.8" fill="#70ff8f"/><rect x="26.6" y="1035.5" width="12.9" height="12.8" fill="#80ff80"/><rect x="38.8" y="1035.5" width="12.9" height="12.8" fill="#60ff9f"/><rect x="51.1" y="1035.5" width="12.9" height="12.8" fill="#dfff20"/><rect x="63.4" y="1035.5" width="12.9" height="12.8" fill="#cfff30"/><rect x="75.7" y="1035.5" width="12.9" height="12.8" fill="#ffef00"/><rect x="88" y="1035.5" width="12.9" height="12.8" fill="#ffff00"/><rect x="100.2" y="1035.5" width="12.9" height="12.8" fill="#ffff00"/><rect x="112.5" y="1035.5" width="12.9" height="12.8" fill="#ffbf00"/><rect x="124.8" y="1035.5" width="12.9" height="12.8" fill="#ff9f00"/><rect x="137.1" y="1035.5" width="12.9" height="12.8" fill="#ffcf00"/><rect x="149.4" y="1035.5" width="12.9" height="12.8" fill="#ffbf00"/><rect x="161.6" y="1035.5" width="12.9" height="12.8" fill="#ffdf00"/><rect x="173.9" y="1035.5" width="12.9" height="12.8" fill="#ffcf00"/><rect x="186.2" y="1035.5" width="12.9" height="12.8" fill="#ff4000"/><rect x="198.5" y="1035.5" width="12.9" height="12.8" fill="#ff8f00"/><rect x="210.8" y="1035.5" width="12.9" height="12.8" fill="#ff9f00"/><rect x="223" y="1035.5" width="12.9" height="12.8" fill="#ff8f00"/><rect x="235.3" y="1035.5" width="12.9" height="12.8" fill="#ff8000"/><rect x="247.6" y="1035.5" width="12.9" height="12.8" fill="#ffaf00"/><rect x="259.9" y="1035.5" width="12.9" height="12.8" fill="#ffdf00"/><rect x="272.1" y="1035.5" width="12.9" height="12.8" fill="#ffdf00"/><rect x="284.4" y="1035.5" width="12.9" height="12.8" fill="#ffff00"/><rect x="296.7" y="1035.5" width="12.9" height="12.8" fill="#cfff30"/><rect x="309" y="1035.5" width="12.9" height="12.8" fill="#efff10"/><rect x="321.3" y="1035.5" width="12.9" height="12.8" fill="#ffbf00"/><rect x="333.5" y="1035.5" width="12.9" height="12.8" fill="#dfff20"/><rect x="345.8" y="1035.5" width="12.9" height="12.8" fill="#afff50"/><rect x="358.1" y="1035.5" width="12.9" height="12.8" fill="#dfff20"/><rect x="370.4" y="1035.5" width="12.9" height="12.8" fill="#afff50"/><rect x="382.7" y="1035.5" width="12.9" height="12.8" fill="#bfff40"/><rect x="394.9" y="1035.5" width="12.9" height="12.8" fill="#8fff70"/><rect x="407.2" y="1035.5" width="12.9" height="12.8" fill="#8fff70"/><rect x="2" y="1047.8" width="12.9" height="12.8" fill="#9fff60"/><rect x="14.3" y="1047.8" width="12.9" height="12.8" fill="#9fff60"/><rect x="26.6" y="1047.8" width="12.9" height="12.8" fill="#70ff8f"/><rect x="38.8" y="1047.8" width="12.9" height="12.8" fill="#bfff40"/><rect x="51.1" y="1047.8" width="12.9" height="12.8" fill="#efff10"/><rect x="63.4" y="1047.8" width="12.9" height="12.8" fill="#dfff20"/><rect x="75.7" y="1047.8" width="12.9" height="12.8" fill="#ffef00"/><rect x="88" y="1047.8" width="12.9" height="12.8" fill="#ffef00"/><rect x="100.2" y="1047.8" width="12.9" height="12.8" fill="#ffff00"/><rect x="112.5" y="1047.8" width="12.9" height="12.8" fill="#ffcf00"/><rect x="124.8" y="1047.8" width="12.9" height="12.8" fill="#ffef00"/><rect x="137.1" y="1047.8" width="12.9" height="12.8" fill="#ff9f00"/><rect x="149.4" y="1047.8" width="12.9" height="12.8" fill="#ff9f00"/><rect x="161.6" y="1047.8" width="12.9" height="12.8" fill="#ffcf00"/><rect x="173.9" y="1047.8" width="12.9" height="12.8" fill="#ffcf00"/><rect x="186.2" y="1047.8" width="12.9" height="12.8" fill="#ff5000"/><rect x="198.5" y="1047.8" width="12.9" height="12.8" fill="#ff9f00"/><rect x="210.8" y="1047.8" width="12.9" height="12.8" fill="#ffbf00"/><rect x="223" y="1047.8" width="12.9" height="12.8" fill="#ffef00"/><rect x="235.3" y="1047.8" width="12.9" height="12.8" fill="#ff8f00"/><rect x="247.6" y="1047.8" width="12.9" height="12.8" fill="#ffbf00"/><rect x="259.9" y="1047.8" width="12.9" height="12.8" fill="#ffdf00"/><rect x="272.1" y="1047.8" width="12.9" height="12.8" fill="#ff9f00"/><rect x="284.4" y="1047.8" width="12.9" height="12.8" fill="#efff10"/><rect x="296.7" y="1047.8" width="12.9" height="12.8" fill="#ffef00"/><rect x="309" y="1047.8" width="12.9" height="12.8" fill="#ffdf00"/><rect x="321.3" y="1047.8" width="12.9" height="12.8" fill="#ffef00"/><rect x="333.5" y="1047.8" width="12.9" height="12.8" fill="#cfff30"/><rect x="345.8" y="1047.8" width="12.9" height="12.8" fill="#9fff60"/><rect x="358.1" y="1047.8" width="12.9" height="12.8" fill="#80ff80"/><rect x="370.4" y="1047.8" width="12.9" height="12.8" fill="#9fff60"/><rect x="382.7" y="1047.8" width="12.9" height="12.8" fill="#dfff20"/><rect x="394.9" y="1047.8" width="12.9" height="12.8" fill="#9fff60"/><rect x="407.2" y="1047.8" width="12.9" height="12.8" fill="#50ffaf"/><rect x="2" y="1060" width="12.9" height="12.8" fill="#8fff70"/><rect x="14.3" y="1060" width="12.9" height="12.8" fill="#9fff60"/><rect x="26.6" y="1060" width="12.9" height="12.8" fill="#8fff70"/><rect x="38.8" y="1060" width="12.9" height="12.8" fill="#afff50"/><rect x="51.1" y="1060" width="12.9" height="12.8" fill="#afff50"/><rect x="63.4" y="1060" width="12.9" height="12.8" fill="#9fff60"/><rect x="75.7" y="1060" width="12.9" height="12.8" fill="#9fff60"/><rect x="88" y="1060" width="12.9" height="12.8" fill="#efff10"/><rect x="100.2" y="1060" width="12.9" height="12.8" fill="#ffef00"/><rect x="112.5" y="1060" width="12.9" height="12.8" fill="#efff10"/><rect x="124.8" y="1060" width="12.9" height="12.8" fill="#cfff30"/><rect x="137.1" y="1060" width="12.9" height="12.8" fill="#ffef00"/><rect x="149.4" y="1060" width="12.9" height="12.8" fill="#ff8f00"/><rect x="161.6" y="1060" width="12.9" height="12.8" fill="#ff9f00"/><rect x="173.9" y="1060" width="12.9" height="12.8" fill="#ff8f00"/><rect x="186.2" y="1060" width="12.9" height="12.8" fill="#ff9f00"/><rect x="198.5" y="1060" width="12.9" height="12.8" fill="#ff8f00"/><rect x="210.8" y="1060" width="12.9" height="12.8" fill="#ff8f00"/><rect x="223" y="1060" width="12.9" height="12.8" fill="#ffbf00"/><rect x="235.3" y="1060" width="12.9" height="12.8" fill="#ffaf00"/><rect x="247.6" y="1060" width="12.9" height="12.8" fill="#ff8f00"/><rect x="259.9" y="1060" width="12.9" height="12.8" fill="#ffef00"/><rect x="272.1" y="1060" width="12.9" height="12.8" fill="#ffcf00"/><rect x="284.4" y="1060" width="12.9" height="12.8" fill="#ffff00"/><rect x="296.7" y="1060" width="12.9" height="12.8" fill="#cfff30"/><rect x="309" y="1060" width="12.9" height="12.8" fill="#ffef00"/><rect x="321.3" y="1060" width="12.9" height="12.8" fill="#9fff60"/><rect x="333.5" y="1060" width="12.9" height="12.8" fill="#efff10"/><rect x="345.8" y="1060" width="12.9" height="12.8" fill="#cfff30"/><rect x="358.1" y="1060" width="12.9" height="12.8" fill="#9fff60"/><rect x="370.4" y="1060" width="12.9" height="12.8" fill="#dfff20"/><rect x="382.7" y="1060" width="12.9" height="12.8" fill="#70ff8f"/><rect x="394.9" y="1060" width="12.9" height="12.8" fill="#20ffdf"/><rect x="407.2" y="1060" width="12.9" height="12.8" fill="#20ffdf"/><rect x="2" y="1072.2" width="12.9" height="12.8" fill="#80ff80"/><rect x="14.3" y="1072.2" width="12.9" height="12.8" fill="#70ff8f"/><rect x="26.6" y="1072.2" width="12.9" height="12.8" fill="#40ffbf"/><rect x="38.8" y="1072.2" width="12.9" height="12.8" fill="#60ff9f"/><rect x="51.1" y="1072.2" width="12.9" height="12.8" fill="#dfff20"/><rect x="63.4" y="1072.2" width="12.9" height="12.8" fill="#70ff8f"/><rect x="75.7" y="1072.2" width="12.9" height="12.8" fill="#dfff20"/><rect x="88" y="1072.2" width="12.9" height="12.8" fill="#ffef00"/><rect x="100.2" y="1072.2" width="12.9" height="12.8" fill="#dfff20"/><rect x="112.5" y="1072.2" width="12.9" height="12.8" fill="#ffdf00"/><rect x="124.8" y="1072.2" width="12.9" height="12.8" fill="#ffdf00"/><rect x="137.1" y="1072.2" width="12.9" height="12.8" fill="#ffff00"/><rect x="149.4" y="1072.2" width="12.9" height="12.8" fill="#ffbf00"/><rect x="161.6" y="1072.2" width="12.9" height="12.8" fill="#ff9f00"/><rect x="173.9" y="1072.2" width="12.9" height="12.8" fill="#ffbf00"/><rect x="186.2" y="1072.2" width="12.9" height="12.8" fill="#ff9f00"/><rect x="198.5" y="1072.2" width="12.9" height="12.8" fill="#ffaf00"/><rect x="210.8" y="1072.2" width="12.9" height="12.8" fill="#ff9f00"/><rect x="223" y="1072.2" width="12.9" height="12.8" fill="#ffcf00"/><rect x="235.3" y="1072.2" width="12.9" height="12.8" fill="#ffaf00"/><rect x="247.6" y="1072.2" width="12.9" height="12.8" fill="#ffcf00"/><rect x="259.9" y="1072.2" width="12.9" height="12.8" fill="#ffdf00"/><rect x="272.1" y="1072.2" width="12.9" height="12.8" fill="#ffcf00"/><rect x="284.4" y="1072.2" width="12.9" height="12.8" fill="#ffff00"/><rect x="296.7" y="1072.2" width="12.9" height="12.8" fill="#cfff30"/><rect x="309" y="1072.2" width="12.9" height="12.8" fill="#dfff20"/><rect x="321.3" y="1072.2" width="12.9" height="12.8" fill="#bfff40"/><rect x="333.5" y="1072.2" width="12.9" height="12.8" fill="#afff50"/><rect x="345.8" y="1072.2" width="12.9" height="12.8" fill="#80ff80"/><rect x="358.1" y="1072.2" width="12.9" height="12.8" fill="#afff50"/><rect x="370.4" y="1072.2" width="12.9" height="12.8" fill="#8fff70"/><rect x="382.7" y="1072.2" width="12.9" height="12.8" fill="#8fff70"/><rect x="394.9" y="1072.2" width="12.9" height="12.8" fill="#40ffbf"/><rect x="407.2" y="1072.2" width="12.9" height="12.8" fill="#00dfff"/><rect x="2" y="1084.5" width="12.9" height="12.8" fill="#afff50"/><rect x="14.3" y="1084.5" width="12.9" height="12.8" fill="#8fff70"/><rect x="26.6" y="1084.5" width="12.9" height="12.8" fill="#8fff70"/><rect x="38.8" y="1084.5" width="12.9" height="12.8" fill="#afff50"/><rect x="51.1" y="1084.5" width="12.9" height="12.8" fill="#8fff70"/><rect x="63.4" y="1084.5" width="12.9" height="12.8" fill="#afff50"/><rect x="75.7" y="1084.5" width="12.9" height="12.8" fill="#80ff80"/><rect x="88" y="1084.5" width="12.9" height="12.8" fill="#cfff30"/><rect x="100.2" y="1084.5" width="12.9" height="12.8" fill="#ffef00"/><rect x="112.5" y="1084.5" width="12.9" height="12.8" fill="#ffef00"/><rect x="124.8" y="1084.5" width="12.9" height="12.8" fill="#ffdf00"/><rect x="137.1" y="1084.5" width="12.9" height="12.8" fill="#efff10"/><rect x="149.4" y="1084.5" width="12.9" height="12.8" fill="#ffff00"/><rect x="161.6" y="1084.5" width="12.9" height="12.8" fill="#ffdf00"/><rect x="173.9" y="1084.5" width="12.9" height="12.8" fill="#ffdf00"/><rect x="186.2" y="1084.5" width="12.9" height="12.8" fill="#ff8000"/><rect x="198.5" y="1084.5" width="12.9" height="12.8" fill="#ff9f00"/><rect x="210.8" y="1084.5" width="12.9" height="12.8" fill="#ffef00"/><rect x="223" y="1084.5" width="12.9" height="12.8" fill="#ffcf00"/><rect x="235.3" y="1084.5" width="12.9" height="12.8" fill="#ff7000"/><rect x="247.6" y="1084.5" width="12.9" height="12.8" fill="#ffcf00"/><rect x="259.9" y="1084.5" width="12.9" height="12.8" fill="#ffff00"/><rect x="272.1" y="1084.5" width="12.9" height="12.8" fill="#ffef00"/><rect x="284.4" y="1084.5" width="12.9" height="12.8" fill="#ffef00"/><rect x="296.7" y="1084.5" width="12.9" height="12.8" fill="#afff50"/><rect x="309" y="1084.5" width="12.9" height="12.8" fill="#cfff30"/><rect x="321.3" y="1084.5" width="12.9" height="12.8" fill="#8fff70"/><rect x="333.5" y="1084.5" width="12.9" height="12.8" fill="#80ff80"/><rect x="345.8" y="1084.5" width="12.9" height="12.8" fill="#9fff60"/><rect x="358.1" y="1084.5" width="12.9" height="12.8" fill="#bfff40"/><rect x="370.4" y="1084.5" width="12.9" height="12.8" fill="#9fff60"/><rect x="382.7" y="1084.5" width="12.9" height="12.8" fill="#60ff9f"/><rect x="394.9" y="1084.5" width="12.9" height="12.8" fill="#30ffcf"/><rect x="407.2" y="1084.5" width="12.9" height="12.8" fill="#00cfff"/><rect x="2" y="1096.8" width="12.9" height="12.8" fill="#40ffbf"/><rect x="14.3" y="1096.8" width="12.9" height="12.8" fill="#40ffbf"/><rect x="26.6" y="1096.8" width="12.9" height="12.8" fill="#70ff8f"/><rect x="38.8" y="1096.8" width="12.9" height="12.8" fill="#50ffaf"/><rect x="51.1" y="1096.8" width="12.9" height="12.8" fill="#70ff8f"/><rect x="63.4" y="1096.8" width="12.9" height="12.8" fill="#8fff70"/><rect x="75.7" y="1096.8" width="12.9" height="12.8" fill="#8fff70"/><rect x="88" y="1096.8" width="12.9" height="12.8" fill="#9fff60"/><rect x="100.2" y="1096.8" width="12.9" height="12.8" fill="#ffaf00"/><rect x="112.5" y="1096.8" width="12.9" height="12.8" fill="#dfff20"/><rect x="124.8" y="1096.8" width="12.9" height="12.8" fill="#ffef00"/><rect x="137.1" y="1096.8" width="12.9" height="12.8" fill="#dfff20"/><rect x="149.4" y="1096.8" width="12.9" height="12.8" fill="#ffef00"/><rect x="161.6" y="1096.8" width="12.9" height="12.8" fill="#ffff00"/><rect x="173.9" y="1096.8" width="12.9" height="12.8" fill="#ffcf00"/><rect x="186.2" y="1096.8" width="12.9" height="12.8" fill="#ffbf00"/><rect x="198.5" y="1096.8" width="12.9" height="12.8" fill="#ffdf00"/><rect x="210.8" y="1096.8" width="12.9" height="12.8" fill="#ffef00"/><rect x="223" y="1096.8" width="12.9" height="12.8" fill="#ffbf00"/><rect x="235.3" y="1096.8" width="12.9" height="12.8" fill="#ffcf00"/><rect x="247.6" y="1096.8" width="12.9" height="12.8" fill="#ffcf00"/><rect x="259.9" y="1096.8" width="12.9" height="12.8" fill="#ffdf00"/><rect x="272.1" y="1096.8" width="12.9" height="12.8" fill="#efff10"/><rect x="284.4" y="1096.8" width="12.9" height="12.8" fill="#efff10"/><rect x="296.7" y="1096.8" width="12.9" height="12.8" fill="#9fff60"/><rect x="309" y="1096.8" width="12.9" height="12.8" fill="#afff50"/><rect x="321.3" y="1096.8" width="12.9" height="12.8" fill="#afff50"/><rect x="333.5" y="1096.8" width="12.9" height="12.8" fill="#80ff80"/><rect x="345.8" y="1096.8" width="12.9" height="12.8" fill="#afff50"/><rect x="358.1" y="1096.8" width="12.9" height="12.8" fill="#8fff70"/><rect x="370.4" y="1096.8" width="12.9" height="12.8" fill="#60ff9f"/><rect x="382.7" y="1096.8" width="12.9" height="12.8" fill="#50ffaf"/><rect x="394.9" y="1096.8" width="12.9" height="12.8" fill="#00cfff"/><rect x="407.2" y="1096.8" width="12.9" height="12.8" fill="#0060ff"/><rect x="2" y="1109" width="12.9" height="12.8" fill="#50ffaf"/><rect x="14.3" y="1109" width="12.9" height="12.8" fill="#20ffdf"/><rect x="26.6" y="1109" width="12.9" height="12.8" fill="#60ff9f"/><rect x="38.8" y="1109" width="12.9" height="12.8" fill="#40ffbf"/><rect x="51.1" y="1109" width="12.9" height="12.8" fill="#30ffcf"/><rect x="63.4" y="1109" width="12.9" height="12.8" fill="#60ff9f"/><rect x="75.7" y="1109" width="12.9" height="12.8" fill="#afff50"/><rect x="88" y="1109" width="12.9" height="12.8" fill="#bfff40"/><rect x="100.2" y="1109" width="12.9" height="12.8" fill="#ffef00"/><rect x="112.5" y="1109" width="12.9" height="12.8" fill="#ffef00"/><rect x="124.8" y="1109" width="12.9" height="12.8" fill="#cfff30"/><rect x="137.1" y="1109" width="12.9" height="12.8" fill="#efff10"/><rect x="149.4" y="1109" width="12.9" height="12.8" fill="#afff50"/><rect x="161.6" y="1109" width="12.9" height="12.8" fill="#efff10"/><rect x="173.9" y="1109" width="12.9" height="12.8" fill="#ffdf00"/><rect x="186.2" y="1109" width="12.9" height="12.8" fill="#ffbf00"/><rect x="198.5" y="1109" width="12.9" height="12.8" fill="#ffdf00"/><rect x="210.8" y="1109" width="12.9" height="12.8" fill="#ffef00"/><rect x="223" y="1109" width="12.9" height="12.8" fill="#ffdf00"/><rect x="235.3" y="1109" width="12.9" height="12.8" fill="#ffef00"/><rect x="247.6" y="1109" width="12.9" height="12.8" fill="#ffdf00"/><rect x="259.9" y="1109" width="12.9" height="12.8" fill="#ffbf00"/><rect x="272.1" y="1109" width="12.9" height="12.8" fill="#efff10"/><rect x="284.4" y="1109" width="12.9" height="12.8" fill="#cfff30"/><rect x="296.7" y="1109" width="12.9" height="12.8" fill="#9fff60"/><rect x="309" y="1109" width="12.9" height="12.8" fill="#dfff20"/><rect x="321.3" y="1109" width="12.9" height="12.8" fill="#bfff40"/><rect x="333.5" y="1109" width="12.9" height="12.8" fill="#70ff8f"/><rect x="345.8" y="1109" width="12.9" height="12.8" fill="#9fff60"/><rect x="358.1" y="1109" width="12.9" height="12.8" fill="#50ffaf"/><rect x="370.4" y="1109" width="12.9" height="12.8" fill="#70ff8f"/><rect x="382.7" y="1109" width="12.9" height="12.8" fill="#40ffbf"/><rect x="394.9" y="1109" width="12.9" height="12.8" fill="#00ffff"/><rect x="407.2" y="1109" width="12.9" height="12.8" fill="#0080ff"/><rect x="2" y="1121.2" width="12.9" height="12.8" fill="#10ffef"/><rect x="14.3" y="1121.2" width="12.9" height="12.8" fill="#10ffef"/><rect x="26.6" y="1121.2" width="12.9" height="12.8" fill="#30ffcf"/><rect x="38.8" y="1121.2" width="12.9" height="12.8" fill="#70ff8f"/><rect x="51.1" y="1121.2" width="12.9" height="12.8" fill="#40ffbf"/><rect x="63.4" y="1121.2" width="12.9" height="12.8" fill="#50ffaf"/><rect x="75.7" y="1121.2" width="12.9" height="12.8" fill="#30ffcf"/><rect x="88" y="1121.2" width="12.9" height="12.8" fill="#bfff40"/><rect x="100.2" y="1121.2" width="12.9" height="12.8" fill="#8fff70"/><rect x="112.5" y="1121.2" width="12.9" height="12.8" fill="#efff10"/><rect x="124.8" y="1121.2" width="12.9" height="12.8" fill="#cfff30"/><rect x="137.1" y="1121.2" width="12.9" height="12.8" fill="#ffff00"/><rect x="149.4" y="1121.2" width="12.9" height="12.8" fill="#efff10"/><rect x="161.6" y="1121.2" width="12.9" height="12.8" fill="#ffff00"/><rect x="173.9" y="1121.2" width="12.9" height="12.8" fill="#ffff00"/><rect x="186.2" y="1121.2" width="12.9" height="12.8" fill="#ffef00"/><rect x="198.5" y="1121.2" width="12.9" height="12.8" fill="#dfff20"/><rect x="210.8" y="1121.2" width="12.9" height="12.8" fill="#ffcf00"/><rect x="223" y="1121.2" width="12.9" height="12.8" fill="#cfff30"/><rect x="235.3" y="1121.2" width="12.9" height="12.8" fill="#efff10"/><rect x="247.6" y="1121.2" width="12.9" height="12.8" fill="#dfff20"/><rect x="259.9" y="1121.2" width="12.9" height="12.8" fill="#dfff20"/><rect x="272.1" y="1121.2" width="12.9" height="12.8" fill="#bfff40"/><rect x="284.4" y="1121.2" width="12.9" height="12.8" fill="#8fff70"/><rect x="296.7" y="1121.2" width="12.9" height="12.8" fill="#afff50"/><rect x="309" y="1121.2" width="12.9" height="12.8" fill="#40ffbf"/><rect x="321.3" y="1121.2" width="12.9" height="12.8" fill="#80ff80"/><rect x="333.5" y="1121.2" width="12.9" height="12.8" fill="#80ff80"/><rect x="345.8" y="1121.2" width="12.9" height="12.8" fill="#60ff9f"/><rect x="358.1" y="1121.2" width="12.9" height="12.8" fill="#80ff80"/><rect x="370.4" y="1121.2" width="12.9" height="12.8" fill="#30ffcf"/><rect x="382.7" y="1121.2" width="12.9" height="12.8" fill="#20ffdf"/><rect x="394.9" y="1121.2" width="12.9" height="12.8" fill="#009fff"/><rect x="407.2" y="1121.2" width="12.9" height="12.8" fill="#00afff"/><rect x="2" y="1133.5" width="12.9" height="12.8" fill="#00dfff"/><rect x="14.3" y="1133.5" width="12.9" height="12.8" fill="#009fff"/><rect x="26.6" y="1133.5" width="12.9" height="12.8" fill="#30ffcf"/><rect x="38.8" y="1133.5" width="12.9" height="12.8" fill="#00efff"/><rect x="51.1" y="1133.5" width="12.9" height="12.8" fill="#20ffdf"/><rect x="63.4" y="1133.5" width="12.9" height="12.8" fill="#80ff80"/><rect x="75.7" y="1133.5" width="12.9" height="12.8" fill="#afff50"/><rect x="88" y="1133.5" width="12.9" height="12.8" fill="#8fff70"/><rect x="100.2" y="1133.5" width="12.9" height="12.8" fill="#8fff70"/><rect x="112.5" y="1133.5" width="12.9" height="12.8" fill="#8fff70"/><rect x="124.8" y="1133.5" width="12.9" height="12.8" fill="#8fff70"/><rect x="137.1" y="1133.5" width="12.9" height="12.8" fill="#bfff40"/><rect x="149.4" y="1133.5" width="12.9" height="12.8" fill="#cfff30"/><rect x="161.6" y="1133.5" width="12.9" height="12.8" fill="#afff50"/><rect x="173.9" y="1133.5" width="12.9" height="12.8" fill="#efff10"/><rect x="186.2" y="1133.5" width="12.9" height="12.8" fill="#8fff70"/><rect x="198.5" y="1133.5" width="12.9" height="12.8" fill="#cfff30"/><rect x="210.8" y="1133.5" width="12.9" height="12.8" fill="#bfff40"/><rect x="223" y="1133.5" width="12.9" height="12.8" fill="#bfff40"/><rect x="235.3" y="1133.5" width="12.9" height="12.8" fill="#ffdf00"/><rect x="247.6" y="1133.5" width="12.9" height="12.8" fill="#dfff20"/><rect x="259.9" y="1133.5" width="12.9" height="12.8" fill="#afff50"/><rect x="272.1" y="1133.5" width="12.9" height="12.8" fill="#80ff80"/><rect x="284.4" y="1133.5" width="12.9" height="12.8" fill="#cfff30"/><rect x="296.7" y="1133.5" width="12.9" height="12.8" fill="#9fff60"/><rect x="309" y="1133.5" width="12.9" height="12.8" fill="#70ff8f"/><rect x="321.3" y="1133.5" width="12.9" height="12.8" fill="#30ffcf"/><rect x="333.5" y="1133.5" width="12.9" height="12.8" fill="#8fff70"/><rect x="345.8" y="1133.5" width="12.9" height="12.8" fill="#70ff8f"/><rect x="358.1" y="1133.5" width="12.9" height="12.8" fill="#40ffbf"/><rect x="370.4" y="1133.5" width="12.9" height="12.8" fill="#00dfff"/><rect x="382.7" y="1133.5" width="12.9" height="12.8" fill="#008fff"/><rect x="394.9" y="1133.5" width="12.9" height="12.8" fill="#00bfff"/><rect x="407.2" y="1133.5" width="12.9" height="12.8" fill="#0050ff"/><rect x="2" y="1145.8" width="12.9" height="12.8" fill="#00afff"/><rect x="14.3" y="1145.8" width="12.9" height="12.8" fill="#0050ff"/><rect x="26.6" y="1145.8" width="12.9" height="12.8" fill="#00bfff"/><rect x="38.8" y="1145.8" width="12.9" height="12.8" fill="#10ffef"/><rect x="51.1" y="1145.8" width="12.9" height="12.8" fill="#30ffcf"/><rect x="63.4" y="1145.8" width="12.9" height="12.8" fill="#8fff70"/><rect x="75.7" y="1145.8" width="12.9" height="12.8" fill="#80ff80"/><rect x="88" y="1145.8" width="12.9" height="12.8" fill="#8fff70"/><rect x="100.2" y="1145.8" width="12.9" height="12.8" fill="#8fff70"/><rect x="112.5" y="1145.8" width="12.9" height="12.8" fill="#80ff80"/><rect x="124.8" y="1145.8" width="12.9" height="12.8" fill="#70ff8f"/><rect x="137.1" y="1145.8" width="12.9" height="12.8" fill="#80ff80"/><rect x="149.4" y="1145.8" width="12.9" height="12.8" fill="#dfff20"/><rect x="161.6" y="1145.8" width="12.9" height="12.8" fill="#afff50"/><rect x="173.9" y="1145.8" width="12.9" height="12.8" fill="#60ff9f"/><rect x="186.2" y="1145.8" width="12.9" height="12.8" fill="#afff50"/><rect x="198.5" y="1145.8" width="12.9" height="12.8" fill="#afff50"/><rect x="210.8" y="1145.8" width="12.9" height="12.8" fill="#afff50"/><rect x="223" y="1145.8" width="12.9" height="12.8" fill="#cfff30"/><rect x="235.3" y="1145.8" width="12.9" height="12.8" fill="#8fff70"/><rect x="247.6" y="1145.8" width="12.9" height="12.8" fill="#ffff00"/><rect x="259.9" y="1145.8" width="12.9" height="12.8" fill="#8fff70"/><rect x="272.1" y="1145.8" width="12.9" height="12.8" fill="#70ff8f"/><rect x="284.4" y="1145.8" width="12.9" height="12.8" fill="#8fff70"/><rect x="296.7" y="1145.8" width="12.9" height="12.8" fill="#80ff80"/><rect x="309" y="1145.8" width="12.9" height="12.8" fill="#8fff70"/><rect x="321.3" y="1145.8" width="12.9" height="12.8" fill="#70ff8f"/><rect x="333.5" y="1145.8" width="12.9" height="12.8" fill="#50ffaf"/><rect x="345.8" y="1145.8" width="12.9" height="12.8" fill="#10ffef"/><rect x="358.1" y="1145.8" width="12.9" height="12.8" fill="#00dfff"/><rect x="370.4" y="1145.8" width="12.9" height="12.8" fill="#008fff"/><rect x="382.7" y="1145.8" width="12.9" height="12.8" fill="#0070ff"/><rect x="394.9" y="1145.8" width="12.9" height="12.8" fill="#0050ff"/><rect x="407.2" y="1145.8" width="12.9" height="12.8" fill="#0000ff"/><rect x="2" y="1158" width="12.9" height="12.8" fill="#0080ff"/><rect x="14.3" y="1158" width="12.9" height="12.8" fill="#0070ff"/><rect x="26.6" y="1158" width="12.9" height="12.8" fill="#00bfff"/><rect x="38.8" y="1158" width="12.9" height="12.8" fill="#00dfff"/><rect x="51.1" y="1158" width="12.9" height="12.8" fill="#00efff"/><rect x="63.4" y="1158" width="12.9" height="12.8" fill="#8fff70"/><rect x="75.7" y="1158" width="12.9" height="12.8" fill="#70ff8f"/><rect x="88" y="1158" width="12.9" height="12.8" fill="#40ffbf"/><rect x="100.2" y="1158" width="12.9" height="12.8" fill="#70ff8f"/><rect x="112.5" y="1158" width="12.9" height="12.8" fill="#60ff9f"/><rect x="124.8" y="1158" width="12.9" height="12.8" fill="#50ffaf"/><rect x="137.1" y="1158" width="12.9" height="12.8" fill="#8fff70"/><rect x="149.4" y="1158" width="12.9" height="12.8" fill="#80ff80"/><rect x="161.6" y="1158" width="12.9" height="12.8" fill="#afff50"/><rect x="173.9" y="1158" width="12.9" height="12.8" fill="#60ff9f"/><rect x="186.2" y="1158" width="12.9" height="12.8" fill="#9fff60"/><rect x="198.5" y="1158" width="12.9" height="12.8" fill="#bfff40"/><rect x="210.8" y="1158" width="12.9" height="12.8" fill="#afff50"/><rect x="223" y="1158" width="12.9" height="12.8" fill="#efff10"/><rect x="235.3" y="1158" width="12.9" height="12.8" fill="#dfff20"/><rect x="247.6" y="1158" width="12.9" height="12.8" fill="#60ff9f"/><rect x="259.9" y="1158" width="12.9" height="12.8" fill="#70ff8f"/><rect x="272.1" y="1158" width="12.9" height="12.8" fill="#60ff9f"/><rect x="284.4" y="1158" width="12.9" height="12.8" fill="#9fff60"/><rect x="296.7" y="1158" width="12.9" height="12.8" fill="#40ffbf"/><rect x="309" y="1158" width="12.9" height="12.8" fill="#00ffff"/><rect x="321.3" y="1158" width="12.9" height="12.8" fill="#10ffef"/><rect x="333.5" y="1158" width="12.9" height="12.8" fill="#00ffff"/><rect x="345.8" y="1158" width="12.9" height="12.8" fill="#00dfff"/><rect x="358.1" y="1158" width="12.9" height="12.8" fill="#00afff"/><rect x="370.4" y="1158" width="12.9" height="12.8" fill="#0080ff"/><rect x="382.7" y="1158" width="12.9" height="12.8" fill="#0030ff"/><rect x="394.9" y="1158" width="12.9" height="12.8" fill="#0020ff"/><rect x="407.2" y="1158" width="12.9" height="12.8" fill="#0000ef"/><rect x="2" y="1170.2" width="12.9" height="12.8" fill="#0010ff"/><rect x="14.3" y="1170.2" width="12.9" height="12.8" fill="#0030ff"/><rect x="26.6" y="1170.2" width="12.9" height="12.8" fill="#0070ff"/><rect x="38.8" y="1170.2" width="12.9" height="12.8" fill="#008fff"/><rect x="51.1" y="1170.2" width="12.9" height="12.8" fill="#00cfff"/><rect x="63.4" y="1170.2" width="12.9" height="12.8" fill="#00cfff"/><rect x="75.7" y="1170.2" width="12.9" height="12.8" fill="#00cfff"/><rect x="88" y="1170.2" width="12.9" height="12.8" fill="#30ffcf"/><rect x="100.2" y="1170.2" width="12.9" height="12.8" fill="#60ff9f"/><rect x="112.5" y="1170.2" width="12.9" height="12.8" fill="#50ffaf"/><rect x="124.8" y="1170.2" width="12.9" height="12.8" fill="#40ffbf"/><rect x="137.1" y="1170.2" width="12.9" height="12.8" fill="#30ffcf"/><rect x="149.4" y="1170.2" width="12.9" height="12.8" fill="#80ff80"/><rect x="161.6" y="1170.2" width="12.9" height="12.8" fill="#60ff9f"/><rect x="173.9" y="1170.2" width="12.9" height="12.8" fill="#40ffbf"/><rect x="186.2" y="1170.2" width="12.9" height="12.8" fill="#8fff70"/><rect x="198.5" y="1170.2" width="12.9" height="12.8" fill="#80ff80"/><rect x="210.8" y="1170.2" width="12.9" height="12.8" fill="#bfff40"/><rect x="223" y="1170.2" width="12.9" height="12.8" fill="#70ff8f"/><rect x="235.3" y="1170.2" width="12.9" height="12.8" fill="#50ffaf"/><rect x="247.6" y="1170.2" width="12.9" height="12.8" fill="#80ff80"/><rect x="259.9" y="1170.2" width="12.9" height="12.8" fill="#9fff60"/><rect x="272.1" y="1170.2" width="12.9" height="12.8" fill="#50ffaf"/><rect x="284.4" y="1170.2" width="12.9" height="12.8" fill="#40ffbf"/><rect x="296.7" y="1170.2" width="12.9" height="12.8" fill="#00dfff"/><rect x="309" y="1170.2" width="12.9" height="12.8" fill="#10ffef"/><rect x="321.3" y="1170.2" width="12.9" height="12.8" fill="#00bfff"/><rect x="333.5" y="1170.2" width="12.9" height="12.8" fill="#008fff"/><rect x="345.8" y="1170.2" width="12.9" height="12.8" fill="#00cfff"/><rect x="358.1" y="1170.2" width="12.9" height="12.8" fill="#00afff"/><rect x="370.4" y="1170.2" width="12.9" height="12.8" fill="#0040ff"/><rect x="382.7" y="1170.2" width="12.9" height="12.8" fill="#0030ff"/><rect x="394.9" y="1170.2" width="12.9" height="12.8" fill="#0020ff"/><rect x="407.2" y="1170.2" width="12.9" height="12.8" fill="#0000ef"/><rect x="2" y="1182.5" width="12.9" height="12.8" fill="#0000ff"/><rect x="14.3" y="1182.5" width="12.9" height="12.8" fill="#0020ff"/><rect x="26.6" y="1182.5" width="12.9" height="12.8" fill="#0000ff"/><rect x="38.8" y="1182.5" width="12.9" height="12.8" fill="#0020ff"/><rect x="51.1" y="1182.5" width="12.9" height="12.8" fill="#008fff"/><rect x="63.4" y="1182.5" width="12.9" height="12.8" fill="#00ffff"/><rect x="75.7" y="1182.5" width="12.9" height="12.8" fill="#00cfff"/><rect x="88" y="1182.5" width="12.9" height="12.8" fill="#00efff"/><rect x="100.2" y="1182.5" width="12.9" height="12.8" fill="#50ffaf"/><rect x="112.5" y="1182.5" width="12.9" height="12.8" fill="#00ffff"/><rect x="124.8" y="1182.5" width="12.9" height="12.8" fill="#10ffef"/><rect x="137.1" y="1182.5" width="12.9" height="12.8" fill="#80ff80"/><rect x="149.4" y="1182.5" width="12.9" height="12.8" fill="#70ff8f"/><rect x="161.6" y="1182.5" width="12.9" height="12.8" fill="#80ff80"/><rect x="173.9" y="1182.5" width="12.9" height="12.8" fill="#20ffdf"/><rect x="186.2" y="1182.5" width="12.9" height="12.8" fill="#8fff70"/><rect x="198.5" y="1182.5" width="12.9" height="12.8" fill="#60ff9f"/><rect x="210.8" y="1182.5" width="12.9" height="12.8" fill="#9fff60"/><rect x="223" y="1182.5" width="12.9" height="12.8" fill="#80ff80"/><rect x="235.3" y="1182.5" width="12.9" height="12.8" fill="#9fff60"/><rect x="247.6" y="1182.5" width="12.9" height="12.8" fill="#70ff8f"/><rect x="259.9" y="1182.5" width="12.9" height="12.8" fill="#80ff80"/><rect x="272.1" y="1182.5" width="12.9" height="12.8" fill="#00ffff"/><rect x="284.4" y="1182.5" width="12.9" height="12.8" fill="#20ffdf"/><rect x="296.7" y="1182.5" width="12.9" height="12.8" fill="#00ffff"/><rect x="309" y="1182.5" width="12.9" height="12.8" fill="#00bfff"/><rect x="321.3" y="1182.5" width="12.9" height="12.8" fill="#008fff"/><rect x="333.5" y="1182.5" width="12.9" height="12.8" fill="#009fff"/><rect x="345.8" y="1182.5" width="12.9" height="12.8" fill="#0070ff"/><rect x="358.1" y="1182.5" width="12.9" height="12.8" fill="#0050ff"/><rect x="370.4" y="1182.5" width="12.9" height="12.8" fill="#0020ff"/><rect x="382.7" y="1182.5" width="12.9" height="12.8" fill="#0000ff"/><rect x="394.9" y="1182.5" width="12.9" height="12.8" fill="#0000ff"/><rect x="407.2" y="1182.5" width="12.9" height="12.8" fill="#0000ef"/><rect x="2" y="1194.8" width="12.9" height="12.8" fill="#0000cf"/><rect x="14.3" y="1194.8" width="12.9" height="12.8" fill="#0000df"/><rect x="26.6" y="1194.8" width="12.9" height="12.8" fill="#0010ff"/><rect x="38.8" y="1194.8" width="12.9" height="12.8" fill="#0020ff"/><rect x="51.1" y="1194.8" width="12.9" height="12.8" fill="#0040ff"/><rect x="63.4" y="1194.8" width="12.9" height="12.8" fill="#0060ff"/><rect x="75.7" y="1194.8" width="12.9" height="12.8" fill="#0060ff"/><rect x="88" y="1194.8" width="12.9" height="12.8" fill="#00afff"/><rect x="100.2" y="1194.8" width="12.9" height="12.8" fill="#00afff"/><rect x="112.5" y="1194.8" width="12.9" height="12.8" fill="#00dfff"/><rect x="124.8" y="1194.8" width="12.9" height="12.8" fill="#00efff"/><rect x="137.1" y="1194.8" width="12.9" height="12.8" fill="#10ffef"/><rect x="149.4" y="1194.8" width="12.9" height="12.8" fill="#50ffaf"/><rect x="161.6" y="1194.8" width="12.9" height="12.8" fill="#20ffdf"/><rect x="173.9" y="1194.8" width="12.9" height="12.8" fill="#70ff8f"/><rect x="186.2" y="1194.8" width="12.9" height="12.8" fill="#50ffaf"/><rect x="198.5" y="1194.8" width="12.9" height="12.8" fill="#afff50"/><rect x="210.8" y="1194.8" width="12.9" height="12.8" fill="#20ffdf"/><rect x="223" y="1194.8" width="12.9" height="12.8" fill="#20ffdf"/><rect x="235.3" y="1194.8" width="12.9" height="12.8" fill="#30ffcf"/><rect x="247.6" y="1194.8" width="12.9" height="12.8" fill="#20ffdf"/><rect x="259.9" y="1194.8" width="12.9" height="12.8" fill="#00efff"/><rect x="272.1" y="1194.8" width="12.9" height="12.8" fill="#00ffff"/><rect x="284.4" y="1194.8" width="12.9" height="12.8" fill="#00dfff"/><rect x="296.7" y="1194.8" width="12.9" height="12.8" fill="#008fff"/><rect x="309" y="1194.8" width="12.9" height="12.8" fill="#00bfff"/><rect x="321.3" y="1194.8" width="12.9" height="12.8" fill="#00bfff"/><rect x="333.5" y="1194.8" width="12.9" height="12.8" fill="#008fff"/><rect x="345.8" y="1194.8" width="12.9" height="12.8" fill="#0050ff"/><rect x="358.1" y="1194.8" width="12.9" height="12.8" fill="#0020ff"/><rect x="370.4" y="1194.8" width="12.9" height="12.8" fill="#0030ff"/><rect x="382.7" y="1194.8" width="12.9" height="12.8" fill="#0030ff"/><rect x="394.9" y="1194.8" width="12.9" height="12.8" fill="#0000bf"/><rect x="407.2" y="1194.8" width="12.9" height="12.8" fill="#0000ef"/><rect x="2" y="1207" width="12.9" height="12.8" fill="#00009f"/><rect x="14.3" y="1207" width="12.9" height="12.8" fill="#0000ef"/><rect x="26.6" y="1207" width="12.9" height="12.8" fill="#00009f"/><rect x="38.8" y="1207" width="12.9" height="12.8" fill="#0010ff"/><rect x="51.1" y="1207" width="12.9" height="12.8" fill="#0040ff"/><rect x="63.4" y="1207" width="12.9" height="12.8" fill="#0010ff"/><rect x="75.7" y="1207" width="12.9" height="12.8" fill="#0030ff"/><rect x="88" y="1207" width="12.9" height="12.8" fill="#0080ff"/><rect x="100.2" y="1207" width="12.9" height="12.8" fill="#0080ff"/><rect x="112.5" y="1207" width="12.9" height="12.8" fill="#00afff"/><rect x="124.8" y="1207" width="12.9" height="12.8" fill="#00efff"/><rect x="137.1" y="1207" width="12.9" height="12.8" fill="#00afff"/><rect x="149.4" y="1207" width="12.9" height="12.8" fill="#00efff"/><rect x="161.6" y="1207" width="12.9" height="12.8" fill="#00afff"/><rect x="173.9" y="1207" width="12.9" height="12.8" fill="#009fff"/><rect x="186.2" y="1207" width="12.9" height="12.8" fill="#00efff"/><rect x="198.5" y="1207" width="12.9" height="12.8" fill="#00afff"/><rect x="210.8" y="1207" width="12.9" height="12.8" fill="#10ffef"/><rect x="223" y="1207" width="12.9" height="12.8" fill="#00ffff"/><rect x="235.3" y="1207" width="12.9" height="12.8" fill="#00dfff"/><rect x="247.6" y="1207" width="12.9" height="12.8" fill="#0080ff"/><rect x="259.9" y="1207" width="12.9" height="12.8" fill="#008fff"/><rect x="272.1" y="1207" width="12.9" height="12.8" fill="#0060ff"/><rect x="284.4" y="1207" width="12.9" height="12.8" fill="#008fff"/><rect x="296.7" y="1207" width="12.9" height="12.8" fill="#0060ff"/><rect x="309" y="1207" width="12.9" height="12.8" fill="#009fff"/><rect x="321.3" y="1207" width="12.9" height="12.8" fill="#0070ff"/><rect x="333.5" y="1207" width="12.9" height="12.8" fill="#0010ff"/><rect x="345.8" y="1207" width="12.9" height="12.8" fill="#0060ff"/><rect x="358.1" y="1207" width="12.9" height="12.8" fill="#0010ff"/><rect x="370.4" y="1207" width="12.9" height="12.8" fill="#0020ff"/><rect x="382.7" y="1207" width="12.9" height="12.8" fill="#0000ef"/><rect x="394.9" y="1207" width="12.9" height="12.8" fill="#0010ff"/><rect x="407.2" y="1207" width="12.9" height="12.8" fill="#0000ff"/><rect x="2" y="1219.2" width="12.9" height="12.8" fill="#0000ef"/><rect x="14.3" y="1219.2" width="12.9" height="12.8" fill="#0010ff"/><rect x="26.6" y="1219.2" width="12.9" height="12.8" fill="#0000ff"/><rect x="38.8" y="1219.2" width="12.9" height="12.8" fill="#0000ff"/><rect x="51.1" y="1219.2" width="12.9" height="12.8" fill="#0000ef"/><rect x="63.4" y="1219.2" width="12.9" height="12.8" fill="#0000cf"/><rect x="75.7" y="1219.2" width="12.9" height="12.8" fill="#0050ff"/><rect x="88" y="1219.2" width="12.9" height="12.8" fill="#0050ff"/><rect x="100.2" y="1219.2" width="12.9" height="12.8" fill="#0010ff"/><rect x="112.5" y="1219.2" width="12.9" height="12.8" fill="#0070ff"/><rect x="124.8" y="1219.2" width="12.9" height="12.8" fill="#0080ff"/><rect x="137.1" y="1219.2" width="12.9" height="12.8" fill="#008fff"/><rect x="149.4" y="1219.2" width="12.9" height="12.8" fill="#00dfff"/><rect x="161.6" y="1219.2" width="12.9" height="12.8" fill="#00cfff"/><rect x="173.9" y="1219.2" width="12.9" height="12.8" fill="#008fff"/><rect x="186.2" y="1219.2" width="12.9" height="12.8" fill="#00cfff"/><rect x="198.5" y="1219.2" width="12.9" height="12.8" fill="#00ffff"/><rect x="210.8" y="1219.2" width="12.9" height="12.8" fill="#00dfff"/><rect x="223" y="1219.2" width="12.9" height="12.8" fill="#00afff"/><rect x="235.3" y="1219.2" width="12.9" height="12.8" fill="#0060ff"/><rect x="247.6" y="1219.2" width="12.9" height="12.8" fill="#0060ff"/><rect x="259.9" y="1219.2" width="12.9" height="12.8" fill="#0000ff"/><rect x="272.1" y="1219.2" width="12.9" height="12.8" fill="#0060ff"/><rect x="284.4" y="1219.2" width="12.9" height="12.8" fill="#0020ff"/><rect x="296.7" y="1219.2" width="12.9" height="12.8" fill="#0000ff"/><rect x="309" y="1219.2" width="12.9" height="12.8" fill="#0000ff"/><rect x="321.3" y="1219.2" width="12.9" height="12.8" fill="#0010ff"/><rect x="333.5" y="1219.2" width="12.9" height="12.8" fill="#0000df"/><rect x="345.8" y="1219.2" width="12.9" height="12.8" fill="#0000cf"/><rect x="358.1" y="1219.2" width="12.9" height="12.8" fill="#0000bf"/><rect x="370.4" y="1219.2" width="12.9" height="12.8" fill="#0020ff"/><rect x="382.7" y="1219.2" width="12.9" height="12.8" fill="#0000cf"/><rect x="394.9" y="1219.2" width="12.9" height="12.8" fill="#0000ef"/><rect x="407.2" y="1219.2" width="12.9" height="12.8" fill="#0000df"/>
<g clip-path="url(#clipD)"><path d="M8.1,821.1L-3.4,858.5M3.6,849.9L-3.4,858.5L-4.3,847.5M32.7,821.1L26,861.5M31.7,852.1L26,861.5L23.6,850.7M57.3,821.1L38.4,838.8M47,835.5L38.4,838.8L42.3,830.4M81.8,821.1L45.7,829.7M56.6,831.3L45.7,829.7L54.7,823.3M106.4,821.1L90.5,810.5M94.6,816.5L90.5,810.5L97.6,812M130.9,821.1L110.6,820.6M117.6,823.6L110.6,820.6L117.8,817.9M155.5,821.1L143.3,827M148.8,826.6L143.3,827L147,822.9M180.1,821.1L166.1,820.7M171.3,823L166.1,820.7L171.4,818.7M204.6,821.1L188.5,821.8M194.4,823.9L188.5,821.8L194.2,819.2M229.2,821.1L204,810.8M210.9,817.5L204,810.8L213.6,810.8M253.7,821.1L217.3,810.6M225.9,817.4L217.3,810.6L228.2,809.5M278.3,821.1L240.4,814.7M249.7,820.5L240.4,814.7L251.1,812.3M302.8,821.1L279.2,803.9M284.6,812.6L279.2,803.9L289.2,806.4M327.4,821.1L312.2,810.9M316.1,816.7L312.2,810.9L319.1,812.3M352,821.1L331.6,819.7M338.5,823.1L331.6,819.7L338.9,817.4M376.5,821.1L368.8,803.6M369,810.9L368.8,803.6L374,808.7M401.1,821.1L384,804.4M387.5,812.3L384,804.4L392,807.7M8.1,845.6L18.7,818.8M11.7,826.2L18.7,818.8L18.8,829M32.7,845.6L23.7,854.2M28.5,852.3L23.7,854.2L25.8,849.5M57.3,845.6L32.5,860.3M42.5,858.8L32.5,860.3L38.6,852.2M81.8,845.6L75.7,845.7M78.8,846.9L75.7,845.7L78.7,844.4M106.4,845.6L115,842.1M110.7,842.1L115,842.1L111.9,845.1M130.9,845.6L142.1,848.5M138.1,845.5L142.1,848.5L137.2,849.1M155.5,845.6L129.8,853.4M139.3,854.3L129.8,853.4L137.3,847.4M180.1,845.6L163.5,832.9M167.4,839.6L163.5,832.9L171,835M204.6,845.6L186.7,845M193,847.8L186.7,845L193.2,842.7M229.2,845.6L221.1,841.4M223.8,844.7L221.1,841.4L225.3,841.8M253.7,845.6L243.6,839.8M246.7,843.8L243.6,839.8L248.6,840.5M278.3,845.6L254.3,835.5M260.9,842.1L254.3,835.5L263.6,835.7M302.8,845.6L287.6,827.9M290.3,835.9L287.6,827.9L295.2,831.8M327.4,845.6L329.7,859.7M331,854.1L329.7,859.7L326.7,854.8M352,845.6L362.3,855M359.8,849.9L362.3,855L357,853M376.5,845.6L383.3,828.5M378.4,833.6L383.3,828.5L383.3,835.5M401.1,845.6L388.2,835.5M391.4,841.1L388.2,835.5L394.4,837.3M8.1,870.1L-6.7,900M1.5,892.7L-6.7,900L-5.9,889M32.7,870.1L16.3,873.1M22.7,874.4L16.3,873.1L21.8,869.6M57.3,870.1L53.6,872.8M56.4,872.1L53.6,872.8L55.1,870.4M81.8,870.1L92.7,886.9M91.3,879.5L92.7,886.9L86.6,882.6M106.4,870.1L98.8,876.9M103.1,875.4L98.8,876.9L100.8,872.8M130.9,870.1L113.5,879.1M120.8,878.4L113.5,879.1L118.3,873.5M155.5,870.1L139.1,867.8M144.7,871L139.1,867.8L145.4,866.2M180.1,870.1L176.1,868.3M178,870.3L176.1,868.3L178.9,868.4M204.6,870.1L221.1,869.4M215,867.2L221.1,869.4L215.2,872.1M229.2,870.1L220.4,878.1M225.2,876.3L220.4,878.1L222.6,873.5M253.7,870.1L264.1,869.8M259.8,868.2L264.1,869.8L259.9,871.6M278.3,870.1L274.2,880.4M277.5,876.9L274.2,880.4L274.1,875.6M302.8,870.1L300.8,879.8M303.3,876.1L300.8,879.8L300,875.4M327.4,870.1L328,876.9M329,873.5L328,876.9L326.4,873.8M352,870.1L356.7,864.3M353.4,866.1L356.7,864.3L355.6,867.9M376.5,870.1L363.1,860M366.5,865.6L363.1,860L369.4,861.7M401.1,870.1L418.8,834.4M410.6,841.7L418.8,834.4L417.9,845.4M8.1,894.6L-4.3,922.8M3.4,915.3L-4.3,922.8L-4,912.1M32.7,894.6L18.6,897.8M24.4,898.7L18.6,897.8L23.4,894.5M57.3,894.6L56.1,899.2M57.8,896.8L56.1,899.2L55.7,896.3M81.8,894.6L84.6,892.6M82.2,893.2L84.6,892.6L83.3,894.7M106.4,894.6L114.9,898.2M111.9,895.2L114.9,898.2L110.7,898.1M130.9,894.6L138.7,889.2M134.5,890.2L138.7,889.2L136.3,892.8M155.5,894.6L151.3,900M154.4,898.2L151.3,900L152.3,896.6M180.1,894.6L183,895.9M181.3,894.1L183,895.9L180.6,895.8M204.6,894.6L203.7,881.6M202,886.8L203.7,881.6L206,886.5M229.2,894.6L233.3,894.3M230.7,893.5L233.3,894.3L230.9,895.5M253.7,894.6L250.9,899.5M253.4,897.6L250.9,899.5L251.3,896.4M278.3,894.6L277.2,889.8M276.7,892.7L277.2,889.8L278.9,892.2M302.8,894.6L306,886.6M303.2,889.6L306,886.6L306,890.7M327.4,894.6L325.1,902.2M327.5,899.2L325.1,902.2L324.8,898.3M352,894.6L342.7,917.2M348.9,910.9L342.7,917.2L342.8,908.4M376.5,894.6L357.7,883.7M362.6,890L357.7,883.7L365.6,884.8M401.1,894.6L396.1,879M395.6,885.4L396.1,879L400.2,883.9M8.1,919.1L-8,932.2M-0.6,930L-8,932.2L-4.2,925.5M32.7,919.1L30.3,905M29.1,910.7L30.3,905L33.3,909.9M57.3,919.1L62.5,917.1M59.3,917L62.5,917.1L60.2,919.3M81.8,919.1L91.7,924.8M88.7,920.9L91.7,924.8L86.8,924.1M106.4,919.1L118.8,911.6M113,912.6L118.8,911.6L115.3,916.3M130.9,919.1L120.9,926.4M125.9,925.2L120.9,926.4L123.6,922M155.5,919.1L145,910.3M147.6,915.3L145,910.3L150.3,912M180.1,919.1L191.4,914.4M186.2,914.4L191.4,914.4L187.7,918M204.6,919.1L204.1,910.4M202.8,914.3L204.1,910.4L205.9,914.2M229.2,919.1L218.9,930.7M224.4,927.9L218.9,930.7L221,924.9M253.7,919.1L267,909.1M260.7,910.8L267,909.1L263.7,914.6M278.3,919.1L271,919.2M274.4,920.6L271,919.2L274.4,917.8M302.8,919.1L309.4,913.9M305.5,915L309.4,913.9L307.4,917.4M327.4,919.1L328.1,902.5M325.4,908.4L328.1,902.5L330.3,908.6M352,919.1L355,922.7M354.1,920L355,922.7L352.4,921.3M376.5,919.1L367.3,896.8M367.4,905.5L367.3,896.8L373.4,903M401.1,919.1L401.7,892.5M397.9,901.2L401.7,892.5L405.1,901.4M8.1,943.6L-10.3,981M-2.1,973.7L-10.3,981L-9.5,970.1M32.7,943.6L16.5,963.4M24.5,959L16.5,963.4L19.2,954.7M57.3,943.6L35.7,935.3M41.8,941L35.7,935.3L44.1,935.1M81.8,943.6L76.5,947.9M79.9,946.9L76.5,947.9L78.2,944.8M106.4,943.6L111.2,939.5M107.9,940.6L111.2,939.5L109.6,942.5M130.9,943.6L116.2,968.6M124.3,962.4L116.2,968.6L117.7,958.5M155.5,943.6L152.2,942.6M154.2,944.2L152.2,942.6L154.8,942.4M180.1,943.6L184.8,952.7M184.3,948.2L184.8,952.7L181.3,949.7M204.6,943.6L213.5,942.4M209.4,941.4L213.5,942.4L209.9,944.5M229.2,943.6L225,943.8M227.6,944.7L225,943.8L227.5,942.7M253.7,943.6L259.2,930M255.1,934.3L259.2,930L259.2,935.9M278.3,943.6L287,943M283,941.7L287,943L283.3,944.8M302.8,943.6L309.9,928.3M305.1,932.8L309.9,928.3L309.6,934.8M327.4,943.6L333.1,937.8M329.5,939.4L333.1,937.8L331.6,941.5M352,943.6L348.4,940.4M349.7,943L348.4,940.4L351.2,941.4M376.5,943.6L365.5,921M366.1,930.1L365.5,921L372.2,927.1M401.1,943.6L397.2,927M396.2,933.6L397.2,927L401,932.4M8.1,968.1L24.1,994.8M22.4,984.1L24.1,994.8L15.5,988.3M32.7,968.1L16.4,987.9M24.4,983.6L16.4,987.9L19.1,979.2M57.3,968.1L46.7,954.4M48.5,960.9L46.7,954.4L52.5,957.8M81.8,968.1L77.1,971.4M80.2,970.7L77.1,971.4L78.8,968.7M106.4,968.1L122.1,959.1M115.2,960.1L122.1,959.1L117.8,964.6M130.9,968.1L115.2,973.6M121.7,973.9L115.2,973.6L120.1,969.3M155.5,968.1L157.6,964.7M155.4,966.3L157.6,964.7L157.1,967.3M180.1,968.1L181.5,958.6M179.3,962.4L181.5,958.6L182.5,962.9M204.6,968.1L207.8,967.3M205.3,967L207.8,967.3L205.8,968.8M229.2,968.1L239.2,959M233.9,961L239.2,959L236.7,964M253.7,968.1L252.1,979.4M254.6,975.2L252.1,979.4L250.9,974.6M278.3,968.1L284.7,975.1M283.1,971L284.7,975.1L280.7,973.2M302.8,968.1L310.6,980.5M309.6,974.7L310.6,980.5L305.9,977M327.4,968.1L326.5,986M329.4,979.7L326.5,986L324.3,979.5M352,968.1L364,981.3M361.6,974.9L364,981.3L357.8,978.3M376.5,968.1L385.7,946.1M379.6,952.3L385.7,946.1L385.6,954.8M401.1,968.1L399.1,943.7M396.5,952.1L399.1,943.7L403.1,951.6M8.1,992.6L-4.6,1019.6M3.1,1012.5L-4.6,1019.6L-4,1009.1M32.7,992.6L50.8,1013.8M47.6,1004.4L50.8,1013.8L42,1009.2M57.3,992.6L82.2,981.7M72.6,982L82.2,981.7L75.5,988.6M81.8,992.6L67.5,995.8M73.3,996.8L67.5,995.8L72.4,992.5M106.4,992.6L94.3,999.8M100,998.9L94.3,999.8L97.8,995.2M130.9,992.6L122,992.8M125.9,994.3L122,992.8L125.8,991.2M155.5,992.6L164.5,996.9M161.4,993.6L164.5,996.9L160,996.6M180.1,992.6L173.5,977.5M173.6,983.9L173.5,977.5L178.1,982M204.6,992.6L217.8,989.4M212.3,988.6L217.8,989.4L213.3,992.6M229.2,992.6L221.4,989.4M224.3,992.2L221.4,989.4L225.4,989.4M253.7,992.6L270,995.2M264.5,991.9L270,995.2L263.7,996.6M278.3,992.6L282.6,992.9M280.1,991.7L282.6,992.9L279.9,993.8M302.8,992.6L301.6,1008.1M304.3,1002.6L301.6,1008.1L299.7,1002.2M327.4,992.6L333.6,989M330,989.5L333.6,989L331.4,991.9M352,992.6L367.1,987.8M360.9,987.4L367.1,987.8L362.3,991.8M376.5,992.6L376.5,978.9M374.4,984.1L376.5,978.9L378.6,984.1M401.1,992.6L400.5,957.2M396.5,967.5L400.5,957.2L404.8,967.4M8.1,1017.1L-3.7,1009.2M-0.4,1014L-3.7,1009.2L2,1010.4M32.7,1017.1L31.8,1041.3M35.4,1033.3L31.8,1041.3L28.8,1033.1M57.3,1017.1L58.3,987.9M54.1,997.2L58.3,987.9L61.8,997.5M81.8,1017.1L89.8,1014.8M85.8,1014.4L89.8,1014.8L86.6,1017.3M106.4,1017.1L115.1,1013.5M110.8,1013.6L115.1,1013.5L112,1016.6M130.9,1017.1L119.1,1008.3M122.2,1013.4L119.1,1008.3L124.9,1009.8M155.5,1017.1L150,1000.7M149.6,1007.4L150,1000.7L154.3,1005.8M180.1,1017.1L184.4,1014.4M181.4,1014.9L184.4,1014.4L182.6,1016.9M204.6,1017.1L209.1,1009.3M205.8,1011.9L209.1,1009.3L208.6,1013.4M229.2,1017.1L227.7,1025.5M229.8,1022L227.7,1025.5L226.9,1021.5M253.7,1017.1L248,1020.6M251.5,1020L248,1020.6L250.1,1017.8M278.3,1017.1L279.5,1024M280.2,1020.5L279.5,1024L277.6,1020.9M302.8,1017.1L308.9,1013.3M305.3,1014L308.9,1013.3L306.7,1016.3M327.4,1017.1L329.2,1005.5M326.6,1009.8L329.2,1005.5L330.4,1010.4M352,1017.1L357.9,1016.1M354.7,1015.4L357.9,1016.1L355.1,1017.8M376.5,1017.1L363.2,995.9M364.8,1004.8L363.2,995.9L370.5,1001.2M401.1,1017.1L393.9,1007.2M395.2,1012.2L393.9,1007.2L398.3,1010M8.1,1041.6L15.8,1074.8M17.5,1064L15.8,1074.8L9.5,1065.8M32.7,1041.6L24.6,1043.9M28.6,1044.3L24.6,1043.9L27.8,1041.4M57.3,1041.6L79.5,1024.1M69.9,1026.9L79.5,1024.1L74.5,1032.8M81.8,1041.6L84.2,1064.8M86.5,1056.6L84.2,1064.8L80.2,1057.3M106.4,1041.6L96.9,1043.7M101.2,1044.5L96.9,1043.7L100.5,1041.2M130.9,1041.6L127,1057.8M130.8,1052.5L127,1057.8L126.1,1051.4M155.5,1041.6L162.6,1040.2M159,1039.5L162.6,1040.2L159.6,1042.2M180.1,1041.6L192,1036.1M186.6,1036.3L192,1036.1L188.3,1040M204.6,1041.6L226.9,1055.2M221.3,1047.7L226.9,1055.2L217.7,1053.7M229.2,1041.6L235.7,1028.7M231.3,1032.5L235.7,1028.7L235.2,1034.5M253.7,1041.6L239.7,1030.6M243.1,1036.5L239.7,1030.6L246.3,1032.5M278.3,1041.6L291,1033.6M285.1,1034.6L291,1033.6L287.5,1038.5M302.8,1041.6L293.6,1043.8M297.9,1044.5L293.6,1043.8L297.1,1041.3M327.4,1041.6L336.9,1029M331.6,1032.2L336.9,1029L335.3,1035M352,1041.6L365.6,1044.6M360.9,1041.4L365.6,1044.6L360,1045.6M376.5,1041.6L379.6,1017.3M375.3,1025L379.6,1017.3L381.9,1025.9M401.1,1041.6L398.7,1030.7M397.9,1035.5L398.7,1030.7L401.4,1034.7M8.1,1066.1L14.5,1085.8M15,1078.1L14.5,1085.8L9.5,1079.9M32.7,1066.1L41.3,1071.4M38.6,1067.8L41.3,1071.4L36.9,1070.7M57.3,1066.1L69.5,1057.4M63.7,1058.8L69.5,1057.4L66.3,1062.4M81.8,1066.1L54,1059.7M62.3,1065.4L54,1059.7L64,1058.1M106.4,1066.1L98.9,1065M102.1,1066.9L98.9,1065L102.6,1064.1M130.9,1066.1L126.6,1065M128.9,1066.7L126.6,1065L129.4,1064.6M155.5,1066.1L141.7,1075.1M148,1073.8L141.7,1075.1L145.4,1069.8M180.1,1066.1L181.3,1061.7M179.5,1064L181.3,1061.7L181.6,1064.5M204.6,1066.1L192.9,1053.6M195.3,1059.8L192.9,1053.6L198.9,1056.4M229.2,1066.1L219.5,1077.7M224.8,1074.9L219.5,1077.7L221.3,1072M253.7,1066.1L245.4,1060.9M248,1064.5L245.4,1060.9L249.8,1061.7M278.3,1066.1L274.8,1063.1M276.1,1065.7L274.8,1063.1L277.5,1064M302.8,1066.1L298.3,1069.3M301.4,1068.6L298.3,1069.3L300,1066.6M327.4,1066.1L325.7,1083.3M328.8,1077.4L325.7,1083.3L323.8,1076.9M352,1066.1L349,1065.3M350.9,1066.8L349,1065.3L351.4,1065M376.5,1066.1L377.8,1038M373.7,1047L377.8,1038L381.1,1047.4M401.1,1066.1L402,1042.8M398.5,1050.6L402,1042.8L404.9,1050.8M8.1,1090.6L28.5,1104.8M23.6,1097.3L28.5,1104.8L19.8,1102.8M32.7,1090.6L25.9,1066.1M24.9,1075.2L25.9,1066.1L31.5,1073.3M57.3,1090.6L65,1088.4M61.1,1088L65,1088.4L61.9,1090.8M81.8,1090.6L74.1,1077.3M75,1083.3L74.1,1077.3L78.9,1081M106.4,1090.6L101.6,1089.5M104,1091.2L101.6,1089.5L104.5,1089.1M130.9,1090.6L130.1,1112.7M133.4,1105.3L130.1,1112.7L127.3,1105.1M155.5,1090.6L147.7,1098.6M152.1,1096.7L147.7,1098.6L149.5,1094.1M180.1,1090.6L167.6,1089.7M172.3,1092L167.6,1089.7L172.6,1088.1M204.6,1090.6L208.6,1078.2M205.2,1082.4L208.6,1078.2L209,1083.6M229.2,1090.6L219,1086.3M222.4,1089.7L219,1086.3L223.8,1086.4M253.7,1090.6L250,1084.7M250.6,1088.3L250,1084.7L252.9,1086.8M278.3,1090.6L280.8,1097.3M280.9,1093.6L280.8,1097.3L278.4,1094.6M302.8,1090.6L297.8,1092.1M300.8,1092.4L297.8,1092.1L300.2,1090.2M327.4,1090.6L324.7,1088.8M326.1,1090.8L324.7,1088.8L327.1,1089.3M352,1090.6L348,1096.6M351,1094.5L348,1096.6L348.7,1093M376.5,1090.6L382.4,1074.2M378,1079.2L382.4,1074.2L382.7,1081M401.1,1090.6L407,1066.3M401.8,1073.6L407,1066.3L408.3,1075.2M8.1,1115.1L-21.9,1099.3M-14.8,1107.7L-21.9,1099.3L-11,1100.4M32.7,1115.1L38,1144.4M40.2,1134.2L38,1144.4L32.5,1135.6M57.3,1115.1L59.9,1104M57,1108.1L59.9,1104L60.6,1108.9M81.8,1115.1L76,1108.4M77.3,1112.3L76,1108.4L79.7,1110.3M106.4,1115.1L98.2,1114.8M101.8,1116.4L98.2,1114.8L101.9,1113.5M130.9,1115.1L142.3,1119.5M138.5,1116L142.3,1119.5L137.1,1119.6M155.5,1115.1L155,1120.4M156.4,1117.7L155,1120.4L154.1,1117.4M180.1,1115.1L168.8,1118.4M173.8,1118.9L168.8,1118.4L172.8,1115.3M204.6,1115.1L197.4,1110.7M199.8,1114L197.4,1110.7L201.4,1111.4M229.2,1115.1L230.7,1101.3M228,1106.3L230.7,1101.3L232.2,1106.8M253.7,1115.1L258.9,1121.6M257.8,1117.8L258.9,1121.6L255.4,1119.6M278.3,1115.1L275.9,1121.1M278.3,1118.6L275.9,1121.1L275.9,1117.6M302.8,1115.1L290.4,1115.1M295.3,1117.1L290.4,1115.1L295.3,1113.2M327.4,1115.1L313,1125.6M319.7,1123.9L313,1125.6L316.7,1119.8M352,1115.1L354,1125.5M354.9,1120.9L354,1125.5L351.4,1121.6M376.5,1115.1L384.1,1103.5M379.4,1106.8L384.1,1103.5L383,1109.1M401.1,1115.1L423.2,1094.7M413.3,1098.4L423.2,1094.7L418.7,1104.2M8.1,1139.6L18.7,1167.7M19,1157.2L18.7,1167.7L11.6,1160M32.7,1139.6L34.6,1150.2M35.6,1145.5L34.6,1150.2L32.1,1146.2M57.3,1139.6L60.4,1141.1M58.6,1139.2L60.4,1141.1L57.8,1140.9M81.8,1139.6L102,1133.8M94.2,1133L102,1133.8L95.8,1138.6M106.4,1139.6L96.9,1152.4M102.2,1149.1L96.9,1152.4L98.5,1146.3M130.9,1139.6L115.9,1145.5M122.3,1145.6L115.9,1145.5L120.5,1141.2M155.5,1139.6L160.1,1149.4M159.8,1144.7L160.1,1149.4L156.6,1146.2M180.1,1139.6L191.3,1150.9M188.9,1145.1L191.3,1150.9L185.5,1148.4M204.6,1139.6L185.3,1161.1M194.4,1156.6L185.3,1161.1L188.8,1151.5M229.2,1139.6L233.4,1150.7M233.5,1145.6L233.4,1150.7L230,1147M253.7,1139.6L241.8,1130.6M244.9,1135.7L241.8,1130.6L247.6,1132.1M278.3,1139.6L275.2,1134.3M275.7,1137.6L275.2,1134.3L277.9,1136.3M302.8,1139.6L303.1,1129.6M301.3,1133.8L303.1,1129.6L304.7,1133.9M327.4,1139.6L326,1136.7M326.2,1139.2L326,1136.7L327.8,1138.4M352,1139.6L355.3,1152.6M356,1147.1L355.3,1152.6L352,1148.1M376.5,1139.6L395.8,1121.3M387,1124.8L395.8,1121.3L391.9,1129.9M401.1,1139.6L405.1,1126.3M401.6,1130.7L405.1,1126.3L405.6,1131.9M8.1,1164.1L10.9,1195M14,1184.7L10.9,1195L6,1185.4M32.7,1164.1L27,1170.2M30.6,1168.5L27,1170.2L28.5,1166.4M57.3,1164.1L45.3,1165.8M50.3,1167.1L45.3,1165.8L49.7,1163.3M81.8,1164.1L77,1147.6M76.3,1154.2L77,1147.6L81.1,1152.8M106.4,1164.1L81.6,1174.8M91.2,1174.6L81.6,1174.8L88.3,1168M130.9,1164.1L154.2,1166.2M146.7,1162.4L154.2,1166.2L146.1,1168.7M155.5,1164.1L159.8,1149.8M156.1,1154.5L159.8,1149.8L160.3,1155.8M180.1,1164.1L175,1169.5M178.4,1168L175,1169.5L176.3,1166.1M204.6,1164.1L199.4,1173.5M203.1,1170.5L199.4,1173.5L200,1168.8M229.2,1164.1L243.4,1173.4M239.6,1168L243.4,1173.4L236.9,1172.1M253.7,1164.1L274.4,1143.1M264.9,1147.2L274.4,1143.1L270.5,1152.6M278.3,1164.1L274.1,1171.9M277.3,1169.3L274.1,1171.9L274.5,1167.8M302.8,1164.1L313.4,1170M310.2,1166L313.4,1170L308.3,1169.4M327.4,1164.1L324.1,1164.5M326.5,1165.2L324.1,1164.5L326.3,1163.3M352,1164.1L356.2,1160M353.2,1161.2L356.2,1160L354.9,1163M376.5,1164.1L387.3,1141.3M380.6,1147.4L387.3,1141.3L386.8,1150.3M401.1,1164.1L420,1127.2M411.7,1134.3L420,1127.2L419.1,1138.1M8.1,1188.6L23.9,1198.7M19.8,1192.9L23.9,1198.7L16.9,1197.4M32.7,1188.6L37.4,1210.2M38.7,1202.2L37.4,1210.2L32.8,1203.5M57.3,1188.6L72.6,1185.7M66.5,1184.5L72.6,1185.7L67.4,1189.1M81.8,1188.6L95.5,1197.5M91.8,1192.2L95.5,1197.5L89.3,1196.3M106.4,1188.6L118.1,1204.8M116.3,1197.5L118.1,1204.8L111.8,1200.8M130.9,1188.6L117.1,1209.6M124.6,1204.4L117.1,1209.6L118.9,1200.7M155.5,1188.6L163.7,1194.3M161.2,1190.6L163.7,1194.3L159.3,1193.3M180.1,1188.6L201.9,1189.7M194.6,1186.3L201.9,1189.7L194.3,1192.3M204.6,1188.6L177.7,1188.2M186.5,1191.9L177.7,1188.2L186.6,1184.7M229.2,1188.6L235.4,1189.9M232.6,1188L235.4,1189.9L232,1190.5M253.7,1188.6L273.4,1181M265.5,1180.9L273.4,1181L267.7,1186.4M278.3,1188.6L262.7,1171.9M265.7,1179.7L262.7,1171.9L270.2,1175.4M302.8,1188.6L325.9,1172.1M316.2,1174.5L325.9,1172.1L320.5,1180.6M327.4,1188.6L339.1,1186.1M334.1,1185.2L339.1,1186.1L334.9,1189M352,1188.6L359.2,1179.2M354.9,1181.8L359.2,1179.2L357.9,1184.1M376.5,1188.6L392.1,1180M385.3,1180.8L392.1,1180L387.8,1185.3M401.1,1188.6L404.8,1169.7M400.8,1175.8L404.8,1169.7L406.2,1176.9M8.1,1213.1L17.1,1225.4M15.6,1219.5L17.1,1225.4L12,1222.2M32.7,1213.1L42.1,1242.3M42.9,1231.6L42.1,1242.3L35.2,1234.1M57.3,1213.1L63.5,1236.2M64.5,1227.6L63.5,1236.2L58.3,1229.3M81.8,1213.1L90.7,1219.7M88.2,1215.6L90.7,1219.7L86.1,1218.5M106.4,1213.1L115.9,1221.8M113.6,1217L115.9,1221.8L110.9,1219.9M130.9,1213.1L142.4,1225.4M140.1,1219.3L142.4,1225.4L136.5,1222.6M155.5,1213.1L171,1232.8M168.5,1224.2L171,1232.8L163.2,1228.3M180.1,1213.1L201.9,1211.3M194.2,1208.9L201.9,1211.3L194.7,1214.9M204.6,1213.1L209.2,1184.7M203.9,1193.4L209.2,1184.7L211.4,1194.6M229.2,1213.1L239.2,1213.6M235.1,1211.7L239.2,1213.6L234.9,1215.1M253.7,1213.1L282.8,1209.7M272.9,1207L282.8,1209.7L273.8,1214.6M278.3,1213.1L306.9,1221.3M298.7,1214.9L306.9,1221.3L296.5,1222.4M302.8,1213.1L316.4,1218.8M312.2,1214.6L316.4,1218.8L310.5,1218.7M327.4,1213.1L369.1,1212.4M358.8,1208.4L369.1,1212.4L359,1216.7M352,1213.1L370.7,1195.7M362.1,1199L370.7,1195.7L366.8,1204M376.5,1213.1L410.6,1188.9M399.9,1191.5L410.6,1188.9L404.6,1198.2M401.1,1213.1L419.4,1193.5M410.7,1197.5L419.4,1193.5L415.9,1202.4" fill="none" stroke="#000" stroke-width="1.6" stroke-linejoin="miter"/></g>
<rect x="3" y="820" width="63" height="36" fill="#000"/><rect x="9.5" y="824" width="48" height="7" fill="#fff"/>
<text x="7" y="851" font-size="19" fill="#fff">20 µm</text>
<rect x="422.7" y="1225" width="27" height="7" fill="#00008f"/><rect x="422.7" y="1218.5" width="27" height="7" fill="#00009f"/><rect x="422.7" y="1212" width="27" height="7" fill="#0000af"/><rect x="422.7" y="1205.5" width="27" height="7" fill="#0000bf"/><rect x="422.7" y="1199" width="27" height="7" fill="#0000cf"/><rect x="422.7" y="1192.5" width="27" height="7" fill="#0000df"/><rect x="422.7" y="1185.9" width="27" height="7" fill="#0000ef"/><rect x="422.7" y="1179.4" width="27" height="7" fill="#0000ff"/><rect x="422.7" y="1172.9" width="27" height="7" fill="#0010ff"/><rect x="422.7" y="1166.4" width="27" height="7" fill="#0020ff"/><rect x="422.7" y="1159.9" width="27" height="7" fill="#0030ff"/><rect x="422.7" y="1153.4" width="27" height="7" fill="#0040ff"/><rect x="422.7" y="1146.9" width="27" height="7" fill="#0050ff"/><rect x="422.7" y="1140.4" width="27" height="7" fill="#0060ff"/><rect x="422.7" y="1133.9" width="27" height="7" fill="#0070ff"/><rect x="422.7" y="1127.4" width="27" height="7" fill="#0080ff"/><rect x="422.7" y="1120.9" width="27" height="7" fill="#008fff"/><rect x="422.7" y="1114.4" width="27" height="7" fill="#009fff"/><rect x="422.7" y="1107.9" width="27" height="7" fill="#00afff"/><rect x="422.7" y="1101.3" width="27" height="7" fill="#00bfff"/><rect x="422.7" y="1094.8" width="27" height="7" fill="#00cfff"/><rect x="422.7" y="1088.3" width="27" height="7" fill="#00dfff"/><rect x="422.7" y="1081.8" width="27" height="7" fill="#00efff"/><rect x="422.7" y="1075.3" width="27" height="7" fill="#00ffff"/><rect x="422.7" y="1068.8" width="27" height="7" fill="#10ffef"/><rect x="422.7" y="1062.3" width="27" height="7" fill="#20ffdf"/><rect x="422.7" y="1055.8" width="27" height="7" fill="#30ffcf"/><rect x="422.7" y="1049.3" width="27" height="7" fill="#40ffbf"/><rect x="422.7" y="1042.8" width="27" height="7" fill="#50ffaf"/><rect x="422.7" y="1036.3" width="27" height="7" fill="#60ff9f"/><rect x="422.7" y="1029.8" width="27" height="7" fill="#70ff8f"/><rect x="422.7" y="1023.2" width="27" height="7" fill="#80ff80"/><rect x="422.7" y="1016.7" width="27" height="7" fill="#8fff70"/><rect x="422.7" y="1010.2" width="27" height="7" fill="#9fff60"/><rect x="422.7" y="1003.7" width="27" height="7" fill="#afff50"/><rect x="422.7" y="997.2" width="27" height="7" fill="#bfff40"/><rect x="422.7" y="990.7" width="27" height="7" fill="#cfff30"/><rect x="422.7" y="984.2" width="27" height="7" fill="#dfff20"/><rect x="422.7" y="977.7" width="27" height="7" fill="#efff10"/><rect x="422.7" y="971.2" width="27" height="7" fill="#ffff00"/><rect x="422.7" y="964.7" width="27" height="7" fill="#ffef00"/><rect x="422.7" y="958.2" width="27" height="7" fill="#ffdf00"/><rect x="422.7" y="951.7" width="27" height="7" fill="#ffcf00"/><rect x="422.7" y="945.2" width="27" height="7" fill="#ffbf00"/><rect x="422.7" y="938.6" width="27" height="7" fill="#ffaf00"/><rect x="422.7" y="932.1" width="27" height="7" fill="#ff9f00"/><rect x="422.7" y="925.6" width="27" height="7" fill="#ff8f00"/><rect x="422.7" y="919.1" width="27" height="7" fill="#ff8000"/><rect x="422.7" y="912.6" width="27" height="7" fill="#ff7000"/><rect x="422.7" y="906.1" width="27" height="7" fill="#ff6000"/><rect x="422.7" y="899.6" width="27" height="7" fill="#ff5000"/><rect x="422.7" y="893.1" width="27" height="7" fill="#ff4000"/><rect x="422.7" y="886.6" width="27" height="7" fill="#ff3000"/><rect x="422.7" y="880.1" width="27" height="7" fill="#ff2000"/><rect x="422.7" y="873.6" width="27" height="7" fill="#ff1000"/><rect x="422.7" y="867.1" width="27" height="7" fill="#ff0000"/><rect x="422.7" y="860.6" width="27" height="7" fill="#ef0000"/><rect x="422.7" y="854" width="27" height="7" fill="#df0000"/><rect x="422.7" y="847.5" width="27" height="7" fill="#cf0000"/><rect x="422.7" y="841" width="27" height="7" fill="#bf0000"/><rect x="422.7" y="834.5" width="27" height="7" fill="#af0000"/><rect x="422.7" y="828" width="27" height="7" fill="#9f0000"/><rect x="422.7" y="821.5" width="27" height="7" fill="#8f0000"/><rect x="422.7" y="815" width="27" height="7" fill="#800000"/><path d="M449.7,1231.5h-7.5M449.7,1162.1h-7.5M449.7,1092.7h-7.5M449.7,1023.2h-7.5M449.7,953.8h-7.5M449.7,884.4h-7.5M449.7,815h-7.5" stroke="#222" stroke-width="1.2"/><rect x="422.7" y="815" width="27" height="416.5" fill="none" stroke="#222" stroke-width="1.2"/>
<text x="460.5" y="1239.3" font-size="27.2">0</text>
<text x="460.5" y="1169.9" font-size="27.2">0.1</text>
<text x="460.5" y="1100.5" font-size="27.2">0.2</text>
<text x="460.5" y="1031" font-size="27.2">0.3</text>
<text x="460.5" y="961.6" font-size="27.2">0.4</text>
<text x="460.5" y="892.2" font-size="27.2">0.5</text>
<text x="460.5" y="822.8" font-size="27.2">0.6</text>
<text x="429" y="803" font-size="27" font-family="Liberation Serif" font-style="italic">ϕ</text>
<text x="1.5" y="786.5" font-size="31" font-weight="bold">d</text>
<text x="30" y="796" font-size="27">Area fraction and velocity field</text>
<path d="M2,1250H50" stroke="#000" stroke-width="2"/><path d="M58,1250L45,1244L49,1250L45,1256Z" fill="#000"/>
<text x="68.5" y="1259" font-size="26">5 µm s<tspan font-size="17" dy="-11">−1</tspan></text>
<rect x="549.5" y="816" width="12.9" height="12.8" fill="#ff8f00"/><rect x="561.8" y="816" width="12.9" height="12.8" fill="#ffef00"/><rect x="574.1" y="816" width="12.9" height="12.8" fill="#60ff9f"/><rect x="586.4" y="816" width="12.9" height="12.8" fill="#50ffaf"/><rect x="598.7" y="816" width="12.9" height="12.8" fill="#00efff"/><rect x="611" y="816" width="12.9" height="12.8" fill="#60ff9f"/><rect x="623.4" y="816" width="12.9" height="12.8" fill="#8fff70"/><rect x="635.7" y="816" width="12.9" height="12.8" fill="#efff10"/><rect x="648" y="816" width="12.9" height="12.8" fill="#dfff20"/><rect x="660.3" y="816" width="12.9" height="12.8" fill="#ff2000"/><rect x="672.6" y="816" width="12.9" height="12.8" fill="#ff1000"/><rect x="684.9" y="816" width="12.9" height="12.8" fill="#ff8000"/><rect x="697.2" y="816" width="12.9" height="12.8" fill="#40ffbf"/><rect x="709.5" y="816" width="12.9" height="12.8" fill="#60ff9f"/><rect x="721.8" y="816" width="12.9" height="12.8" fill="#ff9f00"/><rect x="734.1" y="816" width="12.9" height="12.8" fill="#afff50"/><rect x="746.4" y="816" width="12.9" height="12.8" fill="#dfff20"/><rect x="758.8" y="816" width="12.9" height="12.8" fill="#ffef00"/><rect x="771.1" y="816" width="12.9" height="12.8" fill="#ff8000"/><rect x="783.4" y="816" width="12.9" height="12.8" fill="#ff2000"/><rect x="795.7" y="816" width="12.9" height="12.8" fill="#ff9f00"/><rect x="808" y="816" width="12.9" height="12.8" fill="#60ff9f"/><rect x="820.3" y="816" width="12.9" height="12.8" fill="#ff7000"/><rect x="832.6" y="816" width="12.9" height="12.8" fill="#ff9f00"/><rect x="844.9" y="816" width="12.9" height="12.8" fill="#cfff30"/><rect x="857.2" y="816" width="12.9" height="12.8" fill="#ef0000"/><rect x="869.5" y="816" width="12.9" height="12.8" fill="#30ffcf"/><rect x="881.8" y="816" width="12.9" height="12.8" fill="#bfff40"/><rect x="894.1" y="816" width="12.9" height="12.8" fill="#20ffdf"/><rect x="906.5" y="816" width="12.9" height="12.8" fill="#ffef00"/><rect x="918.8" y="816" width="12.9" height="12.8" fill="#bfff40"/><rect x="931.1" y="816" width="12.9" height="12.8" fill="#00dfff"/><rect x="943.4" y="816" width="12.9" height="12.8" fill="#ff1000"/><rect x="955.7" y="816" width="12.9" height="12.8" fill="#0030ff"/><rect x="549.5" y="828.2" width="12.9" height="12.8" fill="#0000ef"/><rect x="561.8" y="828.2" width="12.9" height="12.8" fill="#60ff9f"/><rect x="574.1" y="828.2" width="12.9" height="12.8" fill="#80ff80"/><rect x="586.4" y="828.2" width="12.9" height="12.8" fill="#8fff70"/><rect x="598.7" y="828.2" width="12.9" height="12.8" fill="#80ff80"/><rect x="611" y="828.2" width="12.9" height="12.8" fill="#60ff9f"/><rect x="623.4" y="828.2" width="12.9" height="12.8" fill="#80ff80"/><rect x="635.7" y="828.2" width="12.9" height="12.8" fill="#dfff20"/><rect x="648" y="828.2" width="12.9" height="12.8" fill="#ffef00"/><rect x="660.3" y="828.2" width="12.9" height="12.8" fill="#cfff30"/><rect x="672.6" y="828.2" width="12.9" height="12.8" fill="#9fff60"/><rect x="684.9" y="828.2" width="12.9" height="12.8" fill="#80ff80"/><rect x="697.2" y="828.2" width="12.9" height="12.8" fill="#ffff00"/><rect x="709.5" y="828.2" width="12.9" height="12.8" fill="#ffff00"/><rect x="721.8" y="828.2" width="12.9" height="12.8" fill="#bfff40"/><rect x="734.1" y="828.2" width="12.9" height="12.8" fill="#70ff8f"/><rect x="746.4" y="828.2" width="12.9" height="12.8" fill="#9fff60"/><rect x="758.8" y="828.2" width="12.9" height="12.8" fill="#ffbf00"/><rect x="771.1" y="828.2" width="12.9" height="12.8" fill="#ff8f00"/><rect x="783.4" y="828.2" width="12.9" height="12.8" fill="#efff10"/><rect x="795.7" y="828.2" width="12.9" height="12.8" fill="#dfff20"/><rect x="808" y="828.2" width="12.9" height="12.8" fill="#bfff40"/><rect x="820.3" y="828.2" width="12.9" height="12.8" fill="#ffef00"/><rect x="832.6" y="828.2" width="12.9" height="12.8" fill="#dfff20"/><rect x="844.9" y="828.2" width="12.9" height="12.8" fill="#afff50"/><rect x="857.2" y="828.2" width="12.9" height="12.8" fill="#dfff20"/><rect x="869.5" y="828.2" width="12.9" height="12.8" fill="#cfff30"/><rect x="881.8" y="828.2" width="12.9" height="12.8" fill="#80ff80"/><rect x="894.1" y="828.2" width="12.9" height="12.8" fill="#50ffaf"/><rect x="906.5" y="828.2" width="12.9" height="12.8" fill="#0060ff"/><rect x="918.8" y="828.2" width="12.9" height="12.8" fill="#0070ff"/><rect x="931.1" y="828.2" width="12.9" height="12.8" fill="#0040ff"/><rect x="943.4" y="828.2" width="12.9" height="12.8" fill="#20ffdf"/><rect x="955.7" y="828.2" width="12.9" height="12.8" fill="#80ff80"/><rect x="549.5" y="840.5" width="12.9" height="12.8" fill="#00efff"/><rect x="561.8" y="840.5" width="12.9" height="12.8" fill="#50ffaf"/><rect x="574.1" y="840.5" width="12.9" height="12.8" fill="#50ffaf"/><rect x="586.4" y="840.5" width="12.9" height="12.8" fill="#50ffaf"/><rect x="598.7" y="840.5" width="12.9" height="12.8" fill="#60ff9f"/><rect x="611" y="840.5" width="12.9" height="12.8" fill="#70ff8f"/><rect x="623.4" y="840.5" width="12.9" height="12.8" fill="#60ff9f"/><rect x="635.7" y="840.5" width="12.9" height="12.8" fill="#ffef00"/><rect x="648" y="840.5" width="12.9" height="12.8" fill="#dfff20"/><rect x="660.3" y="840.5" width="12.9" height="12.8" fill="#cfff30"/><rect x="672.6" y="840.5" width="12.9" height="12.8" fill="#bfff40"/><rect x="684.9" y="840.5" width="12.9" height="12.8" fill="#8fff70"/><rect x="697.2" y="840.5" width="12.9" height="12.8" fill="#efff10"/><rect x="709.5" y="840.5" width="12.9" height="12.8" fill="#dfff20"/><rect x="721.8" y="840.5" width="12.9" height="12.8" fill="#50ffaf"/><rect x="734.1" y="840.5" width="12.9" height="12.8" fill="#afff50"/><rect x="746.4" y="840.5" width="12.9" height="12.8" fill="#cfff30"/><rect x="758.8" y="840.5" width="12.9" height="12.8" fill="#ffff00"/><rect x="771.1" y="840.5" width="12.9" height="12.8" fill="#ffff00"/><rect x="783.4" y="840.5" width="12.9" height="12.8" fill="#bfff40"/><rect x="795.7" y="840.5" width="12.9" height="12.8" fill="#50ffaf"/><rect x="808" y="840.5" width="12.9" height="12.8" fill="#ffef00"/><rect x="820.3" y="840.5" width="12.9" height="12.8" fill="#dfff20"/><rect x="832.6" y="840.5" width="12.9" height="12.8" fill="#bfff40"/><rect x="844.9" y="840.5" width="12.9" height="12.8" fill="#9fff60"/><rect x="857.2" y="840.5" width="12.9" height="12.8" fill="#dfff20"/><rect x="869.5" y="840.5" width="12.9" height="12.8" fill="#efff10"/><rect x="881.8" y="840.5" width="12.9" height="12.8" fill="#ffaf00"/><rect x="894.1" y="840.5" width="12.9" height="12.8" fill="#ff9f00"/><rect x="906.5" y="840.5" width="12.9" height="12.8" fill="#30ffcf"/><rect x="918.8" y="840.5" width="12.9" height="12.8" fill="#008fff"/><rect x="931.1" y="840.5" width="12.9" height="12.8" fill="#0040ff"/><rect x="943.4" y="840.5" width="12.9" height="12.8" fill="#00cfff"/><rect x="955.7" y="840.5" width="12.9" height="12.8" fill="#60ff9f"/><rect x="549.5" y="852.7" width="12.9" height="12.8" fill="#40ffbf"/><rect x="561.8" y="852.7" width="12.9" height="12.8" fill="#0060ff"/><rect x="574.1" y="852.7" width="12.9" height="12.8" fill="#009fff"/><rect x="586.4" y="852.7" width="12.9" height="12.8" fill="#60ff9f"/><rect x="598.7" y="852.7" width="12.9" height="12.8" fill="#00cfff"/><rect x="611" y="852.7" width="12.9" height="12.8" fill="#30ffcf"/><rect x="623.4" y="852.7" width="12.9" height="12.8" fill="#dfff20"/><rect x="635.7" y="852.7" width="12.9" height="12.8" fill="#cfff30"/><rect x="648" y="852.7" width="12.9" height="12.8" fill="#efff10"/><rect x="660.3" y="852.7" width="12.9" height="12.8" fill="#afff50"/><rect x="672.6" y="852.7" width="12.9" height="12.8" fill="#60ff9f"/><rect x="684.9" y="852.7" width="12.9" height="12.8" fill="#afff50"/><rect x="697.2" y="852.7" width="12.9" height="12.8" fill="#efff10"/><rect x="709.5" y="852.7" width="12.9" height="12.8" fill="#9fff60"/><rect x="721.8" y="852.7" width="12.9" height="12.8" fill="#afff50"/><rect x="734.1" y="852.7" width="12.9" height="12.8" fill="#efff10"/><rect x="746.4" y="852.7" width="12.9" height="12.8" fill="#bfff40"/><rect x="758.8" y="852.7" width="12.9" height="12.8" fill="#ffef00"/><rect x="771.1" y="852.7" width="12.9" height="12.8" fill="#dfff20"/><rect x="783.4" y="852.7" width="12.9" height="12.8" fill="#afff50"/><rect x="795.7" y="852.7" width="12.9" height="12.8" fill="#80ff80"/><rect x="808" y="852.7" width="12.9" height="12.8" fill="#ffff00"/><rect x="820.3" y="852.7" width="12.9" height="12.8" fill="#9fff60"/><rect x="832.6" y="852.7" width="12.9" height="12.8" fill="#80ff80"/><rect x="844.9" y="852.7" width="12.9" height="12.8" fill="#80ff80"/><rect x="857.2" y="852.7" width="12.9" height="12.8" fill="#ff9f00"/><rect x="869.5" y="852.7" width="12.9" height="12.8" fill="#bfff40"/><rect x="881.8" y="852.7" width="12.9" height="12.8" fill="#bfff40"/><rect x="894.1" y="852.7" width="12.9" height="12.8" fill="#ffcf00"/><rect x="906.5" y="852.7" width="12.9" height="12.8" fill="#70ff8f"/><rect x="918.8" y="852.7" width="12.9" height="12.8" fill="#10ffef"/><rect x="931.1" y="852.7" width="12.9" height="12.8" fill="#0050ff"/><rect x="943.4" y="852.7" width="12.9" height="12.8" fill="#0000ef"/><rect x="955.7" y="852.7" width="12.9" height="12.8" fill="#20ffdf"/><rect x="549.5" y="864.9" width="12.9" height="12.8" fill="#dfff20"/><rect x="561.8" y="864.9" width="12.9" height="12.8" fill="#20ffdf"/><rect x="574.1" y="864.9" width="12.9" height="12.8" fill="#0050ff"/><rect x="586.4" y="864.9" width="12.9" height="12.8" fill="#10ffef"/><rect x="598.7" y="864.9" width="12.9" height="12.8" fill="#00efff"/><rect x="611" y="864.9" width="12.9" height="12.8" fill="#70ff8f"/><rect x="623.4" y="864.9" width="12.9" height="12.8" fill="#ff8f00"/><rect x="635.7" y="864.9" width="12.9" height="12.8" fill="#efff10"/><rect x="648" y="864.9" width="12.9" height="12.8" fill="#dfff20"/><rect x="660.3" y="864.9" width="12.9" height="12.8" fill="#cfff30"/><rect x="672.6" y="864.9" width="12.9" height="12.8" fill="#8fff70"/><rect x="684.9" y="864.9" width="12.9" height="12.8" fill="#bfff40"/><rect x="697.2" y="864.9" width="12.9" height="12.8" fill="#8fff70"/><rect x="709.5" y="864.9" width="12.9" height="12.8" fill="#bfff40"/><rect x="721.8" y="864.9" width="12.9" height="12.8" fill="#ffcf00"/><rect x="734.1" y="864.9" width="12.9" height="12.8" fill="#cfff30"/><rect x="746.4" y="864.9" width="12.9" height="12.8" fill="#70ff8f"/><rect x="758.8" y="864.9" width="12.9" height="12.8" fill="#80ff80"/><rect x="771.1" y="864.9" width="12.9" height="12.8" fill="#80ff80"/><rect x="783.4" y="864.9" width="12.9" height="12.8" fill="#ffff00"/><rect x="795.7" y="864.9" width="12.9" height="12.8" fill="#70ff8f"/><rect x="808" y="864.9" width="12.9" height="12.8" fill="#40ffbf"/><rect x="820.3" y="864.9" width="12.9" height="12.8" fill="#ffef00"/><rect x="832.6" y="864.9" width="12.9" height="12.8" fill="#9fff60"/><rect x="844.9" y="864.9" width="12.9" height="12.8" fill="#50ffaf"/><rect x="857.2" y="864.9" width="12.9" height="12.8" fill="#ffdf00"/><rect x="869.5" y="864.9" width="12.9" height="12.8" fill="#afff50"/><rect x="881.8" y="864.9" width="12.9" height="12.8" fill="#70ff8f"/><rect x="894.1" y="864.9" width="12.9" height="12.8" fill="#8fff70"/><rect x="906.5" y="864.9" width="12.9" height="12.8" fill="#20ffdf"/><rect x="918.8" y="864.9" width="12.9" height="12.8" fill="#00efff"/><rect x="931.1" y="864.9" width="12.9" height="12.8" fill="#00afff"/><rect x="943.4" y="864.9" width="12.9" height="12.8" fill="#008fff"/><rect x="955.7" y="864.9" width="12.9" height="12.8" fill="#008fff"/><rect x="549.5" y="877.2" width="12.9" height="12.8" fill="#00ffff"/><rect x="561.8" y="877.2" width="12.9" height="12.8" fill="#10ffef"/><rect x="574.1" y="877.2" width="12.9" height="12.8" fill="#10ffef"/><rect x="586.4" y="877.2" width="12.9" height="12.8" fill="#50ffaf"/><rect x="598.7" y="877.2" width="12.9" height="12.8" fill="#30ffcf"/><rect x="611" y="877.2" width="12.9" height="12.8" fill="#9fff60"/><rect x="623.4" y="877.2" width="12.9" height="12.8" fill="#dfff20"/><rect x="635.7" y="877.2" width="12.9" height="12.8" fill="#9fff60"/><rect x="648" y="877.2" width="12.9" height="12.8" fill="#efff10"/><rect x="660.3" y="877.2" width="12.9" height="12.8" fill="#ff9f00"/><rect x="672.6" y="877.2" width="12.9" height="12.8" fill="#bfff40"/><rect x="684.9" y="877.2" width="12.9" height="12.8" fill="#ffcf00"/><rect x="697.2" y="877.2" width="12.9" height="12.8" fill="#9fff60"/><rect x="709.5" y="877.2" width="12.9" height="12.8" fill="#cfff30"/><rect x="721.8" y="877.2" width="12.9" height="12.8" fill="#80ff80"/><rect x="734.1" y="877.2" width="12.9" height="12.8" fill="#afff50"/><rect x="746.4" y="877.2" width="12.9" height="12.8" fill="#8fff70"/><rect x="758.8" y="877.2" width="12.9" height="12.8" fill="#9fff60"/><rect x="771.1" y="877.2" width="12.9" height="12.8" fill="#60ff9f"/><rect x="783.4" y="877.2" width="12.9" height="12.8" fill="#20ffdf"/><rect x="795.7" y="877.2" width="12.9" height="12.8" fill="#30ffcf"/><rect x="808" y="877.2" width="12.9" height="12.8" fill="#9fff60"/><rect x="820.3" y="877.2" width="12.9" height="12.8" fill="#9fff60"/><rect x="832.6" y="877.2" width="12.9" height="12.8" fill="#70ff8f"/><rect x="844.9" y="877.2" width="12.9" height="12.8" fill="#70ff8f"/><rect x="857.2" y="877.2" width="12.9" height="12.8" fill="#ffff00"/><rect x="869.5" y="877.2" width="12.9" height="12.8" fill="#bfff40"/><rect x="881.8" y="877.2" width="12.9" height="12.8" fill="#40ffbf"/><rect x="894.1" y="877.2" width="12.9" height="12.8" fill="#8fff70"/><rect x="906.5" y="877.2" width="12.9" height="12.8" fill="#40ffbf"/><rect x="918.8" y="877.2" width="12.9" height="12.8" fill="#00efff"/><rect x="931.1" y="877.2" width="12.9" height="12.8" fill="#10ffef"/><rect x="943.4" y="877.2" width="12.9" height="12.8" fill="#00bfff"/><rect x="955.7" y="877.2" width="12.9" height="12.8" fill="#008fff"/><rect x="549.5" y="889.4" width="12.9" height="12.8" fill="#60ff9f"/><rect x="561.8" y="889.4" width="12.9" height="12.8" fill="#30ffcf"/><rect x="574.1" y="889.4" width="12.9" height="12.8" fill="#9fff60"/><rect x="586.4" y="889.4" width="12.9" height="12.8" fill="#60ff9f"/><rect x="598.7" y="889.4" width="12.9" height="12.8" fill="#30ffcf"/><rect x="611" y="889.4" width="12.9" height="12.8" fill="#50ffaf"/><rect x="623.4" y="889.4" width="12.9" height="12.8" fill="#afff50"/><rect x="635.7" y="889.4" width="12.9" height="12.8" fill="#8fff70"/><rect x="648" y="889.4" width="12.9" height="12.8" fill="#afff50"/><rect x="660.3" y="889.4" width="12.9" height="12.8" fill="#bfff40"/><rect x="672.6" y="889.4" width="12.9" height="12.8" fill="#10ffef"/><rect x="684.9" y="889.4" width="12.9" height="12.8" fill="#70ff8f"/><rect x="697.2" y="889.4" width="12.9" height="12.8" fill="#40ffbf"/><rect x="709.5" y="889.4" width="12.9" height="12.8" fill="#9fff60"/><rect x="721.8" y="889.4" width="12.9" height="12.8" fill="#cfff30"/><rect x="734.1" y="889.4" width="12.9" height="12.8" fill="#40ffbf"/><rect x="746.4" y="889.4" width="12.9" height="12.8" fill="#20ffdf"/><rect x="758.8" y="889.4" width="12.9" height="12.8" fill="#20ffdf"/><rect x="771.1" y="889.4" width="12.9" height="12.8" fill="#00ffff"/><rect x="783.4" y="889.4" width="12.9" height="12.8" fill="#20ffdf"/><rect x="795.7" y="889.4" width="12.9" height="12.8" fill="#40ffbf"/><rect x="808" y="889.4" width="12.9" height="12.8" fill="#70ff8f"/><rect x="820.3" y="889.4" width="12.9" height="12.8" fill="#afff50"/><rect x="832.6" y="889.4" width="12.9" height="12.8" fill="#9fff60"/><rect x="844.9" y="889.4" width="12.9" height="12.8" fill="#bfff40"/><rect x="857.2" y="889.4" width="12.9" height="12.8" fill="#ffaf00"/><rect x="869.5" y="889.4" width="12.9" height="12.8" fill="#efff10"/><rect x="881.8" y="889.4" width="12.9" height="12.8" fill="#70ff8f"/><rect x="894.1" y="889.4" width="12.9" height="12.8" fill="#8fff70"/><rect x="906.5" y="889.4" width="12.9" height="12.8" fill="#50ffaf"/><rect x="918.8" y="889.4" width="12.9" height="12.8" fill="#50ffaf"/><rect x="931.1" y="889.4" width="12.9" height="12.8" fill="#60ff9f"/><rect x="943.4" y="889.4" width="12.9" height="12.8" fill="#00efff"/><rect x="955.7" y="889.4" width="12.9" height="12.8" fill="#00dfff"/><rect x="549.5" y="901.6" width="12.9" height="12.8" fill="#70ff8f"/><rect x="561.8" y="901.6" width="12.9" height="12.8" fill="#50ffaf"/><rect x="574.1" y="901.6" width="12.9" height="12.8" fill="#efff10"/><rect x="586.4" y="901.6" width="12.9" height="12.8" fill="#50ffaf"/><rect x="598.7" y="901.6" width="12.9" height="12.8" fill="#10ffef"/><rect x="611" y="901.6" width="12.9" height="12.8" fill="#20ffdf"/><rect x="623.4" y="901.6" width="12.9" height="12.8" fill="#30ffcf"/><rect x="635.7" y="901.6" width="12.9" height="12.8" fill="#10ffef"/><rect x="648" y="901.6" width="12.9" height="12.8" fill="#50ffaf"/><rect x="660.3" y="901.6" width="12.9" height="12.8" fill="#50ffaf"/><rect x="672.6" y="901.6" width="12.9" height="12.8" fill="#20ffdf"/><rect x="684.9" y="901.6" width="12.9" height="12.8" fill="#60ff9f"/><rect x="697.2" y="901.6" width="12.9" height="12.8" fill="#9fff60"/><rect x="709.5" y="901.6" width="12.9" height="12.8" fill="#70ff8f"/><rect x="721.8" y="901.6" width="12.9" height="12.8" fill="#bfff40"/><rect x="734.1" y="901.6" width="12.9" height="12.8" fill="#50ffaf"/><rect x="746.4" y="901.6" width="12.9" height="12.8" fill="#40ffbf"/><rect x="758.8" y="901.6" width="12.9" height="12.8" fill="#60ff9f"/><rect x="771.1" y="901.6" width="12.9" height="12.8" fill="#20ffdf"/><rect x="783.4" y="901.6" width="12.9" height="12.8" fill="#20ffdf"/><rect x="795.7" y="901.6" width="12.9" height="12.8" fill="#60ff9f"/><rect x="808" y="901.6" width="12.9" height="12.8" fill="#60ff9f"/><rect x="820.3" y="901.6" width="12.9" height="12.8" fill="#70ff8f"/><rect x="832.6" y="901.6" width="12.9" height="12.8" fill="#40ffbf"/><rect x="844.9" y="901.6" width="12.9" height="12.8" fill="#70ff8f"/><rect x="857.2" y="901.6" width="12.9" height="12.8" fill="#bfff40"/><rect x="869.5" y="901.6" width="12.9" height="12.8" fill="#8fff70"/><rect x="881.8" y="901.6" width="12.9" height="12.8" fill="#dfff20"/><rect x="894.1" y="901.6" width="12.9" height="12.8" fill="#40ffbf"/><rect x="906.5" y="901.6" width="12.9" height="12.8" fill="#40ffbf"/><rect x="918.8" y="901.6" width="12.9" height="12.8" fill="#8fff70"/><rect x="931.1" y="901.6" width="12.9" height="12.8" fill="#40ffbf"/><rect x="943.4" y="901.6" width="12.9" height="12.8" fill="#10ffef"/><rect x="955.7" y="901.6" width="12.9" height="12.8" fill="#00bfff"/><rect x="549.5" y="913.9" width="12.9" height="12.8" fill="#60ff9f"/><rect x="561.8" y="913.9" width="12.9" height="12.8" fill="#50ffaf"/><rect x="574.1" y="913.9" width="12.9" height="12.8" fill="#ffff00"/><rect x="586.4" y="913.9" width="12.9" height="12.8" fill="#8fff70"/><rect x="598.7" y="913.9" width="12.9" height="12.8" fill="#50ffaf"/><rect x="611" y="913.9" width="12.9" height="12.8" fill="#30ffcf"/><rect x="623.4" y="913.9" width="12.9" height="12.8" fill="#30ffcf"/><rect x="635.7" y="913.9" width="12.9" height="12.8" fill="#40ffbf"/><rect x="648" y="913.9" width="12.9" height="12.8" fill="#00cfff"/><rect x="660.3" y="913.9" width="12.9" height="12.8" fill="#30ffcf"/><rect x="672.6" y="913.9" width="12.9" height="12.8" fill="#20ffdf"/><rect x="684.9" y="913.9" width="12.9" height="12.8" fill="#50ffaf"/><rect x="697.2" y="913.9" width="12.9" height="12.8" fill="#8fff70"/><rect x="709.5" y="913.9" width="12.9" height="12.8" fill="#8fff70"/><rect x="721.8" y="913.9" width="12.9" height="12.8" fill="#50ffaf"/><rect x="734.1" y="913.9" width="12.9" height="12.8" fill="#10ffef"/><rect x="746.4" y="913.9" width="12.9" height="12.8" fill="#60ff9f"/><rect x="758.8" y="913.9" width="12.9" height="12.8" fill="#50ffaf"/><rect x="771.1" y="913.9" width="12.9" height="12.8" fill="#60ff9f"/><rect x="783.4" y="913.9" width="12.9" height="12.8" fill="#00cfff"/><rect x="795.7" y="913.9" width="12.9" height="12.8" fill="#20ffdf"/><rect x="808" y="913.9" width="12.9" height="12.8" fill="#bfff40"/><rect x="820.3" y="913.9" width="12.9" height="12.8" fill="#80ff80"/><rect x="832.6" y="913.9" width="12.9" height="12.8" fill="#60ff9f"/><rect x="844.9" y="913.9" width="12.9" height="12.8" fill="#40ffbf"/><rect x="857.2" y="913.9" width="12.9" height="12.8" fill="#9fff60"/><rect x="869.5" y="913.9" width="12.9" height="12.8" fill="#9fff60"/><rect x="881.8" y="913.9" width="12.9" height="12.8" fill="#afff50"/><rect x="894.1" y="913.9" width="12.9" height="12.8" fill="#60ff9f"/><rect x="906.5" y="913.9" width="12.9" height="12.8" fill="#8fff70"/><rect x="918.8" y="913.9" width="12.9" height="12.8" fill="#8fff70"/><rect x="931.1" y="913.9" width="12.9" height="12.8" fill="#9fff60"/><rect x="943.4" y="913.9" width="12.9" height="12.8" fill="#dfff20"/><rect x="955.7" y="913.9" width="12.9" height="12.8" fill="#00efff"/><rect x="549.5" y="926.1" width="12.9" height="12.8" fill="#80ff80"/><rect x="561.8" y="926.1" width="12.9" height="12.8" fill="#70ff8f"/><rect x="574.1" y="926.1" width="12.9" height="12.8" fill="#cfff30"/><rect x="586.4" y="926.1" width="12.9" height="12.8" fill="#9fff60"/><rect x="598.7" y="926.1" width="12.9" height="12.8" fill="#60ff9f"/><rect x="611" y="926.1" width="12.9" height="12.8" fill="#10ffef"/><rect x="623.4" y="926.1" width="12.9" height="12.8" fill="#00efff"/><rect x="635.7" y="926.1" width="12.9" height="12.8" fill="#30ffcf"/><rect x="648" y="926.1" width="12.9" height="12.8" fill="#00afff"/><rect x="660.3" y="926.1" width="12.9" height="12.8" fill="#00efff"/><rect x="672.6" y="926.1" width="12.9" height="12.8" fill="#40ffbf"/><rect x="684.9" y="926.1" width="12.9" height="12.8" fill="#20ffdf"/><rect x="697.2" y="926.1" width="12.9" height="12.8" fill="#50ffaf"/><rect x="709.5" y="926.1" width="12.9" height="12.8" fill="#8fff70"/><rect x="721.8" y="926.1" width="12.9" height="12.8" fill="#60ff9f"/><rect x="734.1" y="926.1" width="12.9" height="12.8" fill="#20ffdf"/><rect x="746.4" y="926.1" width="12.9" height="12.8" fill="#40ffbf"/><rect x="758.8" y="926.1" width="12.9" height="12.8" fill="#50ffaf"/><rect x="771.1" y="926.1" width="12.9" height="12.8" fill="#50ffaf"/><rect x="783.4" y="926.1" width="12.9" height="12.8" fill="#20ffdf"/><rect x="795.7" y="926.1" width="12.9" height="12.8" fill="#60ff9f"/><rect x="808" y="926.1" width="12.9" height="12.8" fill="#70ff8f"/><rect x="820.3" y="926.1" width="12.9" height="12.8" fill="#9fff60"/><rect x="832.6" y="926.1" width="12.9" height="12.8" fill="#40ffbf"/><rect x="844.9" y="926.1" width="12.9" height="12.8" fill="#70ff8f"/><rect x="857.2" y="926.1" width="12.9" height="12.8" fill="#80ff80"/><rect x="869.5" y="926.1" width="12.9" height="12.8" fill="#9fff60"/><rect x="881.8" y="926.1" width="12.9" height="12.8" fill="#ffef00"/><rect x="894.1" y="926.1" width="12.9" height="12.8" fill="#80ff80"/><rect x="906.5" y="926.1" width="12.9" height="12.8" fill="#80ff80"/><rect x="918.8" y="926.1" width="12.9" height="12.8" fill="#40ffbf"/><rect x="931.1" y="926.1" width="12.9" height="12.8" fill="#80ff80"/><rect x="943.4" y="926.1" width="12.9" height="12.8" fill="#9fff60"/><rect x="955.7" y="926.1" width="12.9" height="12.8" fill="#50ffaf"/><rect x="549.5" y="938.4" width="12.9" height="12.8" fill="#8fff70"/><rect x="561.8" y="938.4" width="12.9" height="12.8" fill="#efff10"/><rect x="574.1" y="938.4" width="12.9" height="12.8" fill="#ffbf00"/><rect x="586.4" y="938.4" width="12.9" height="12.8" fill="#9fff60"/><rect x="598.7" y="938.4" width="12.9" height="12.8" fill="#20ffdf"/><rect x="611" y="938.4" width="12.9" height="12.8" fill="#60ff9f"/><rect x="623.4" y="938.4" width="12.9" height="12.8" fill="#10ffef"/><rect x="635.7" y="938.4" width="12.9" height="12.8" fill="#30ffcf"/><rect x="648" y="938.4" width="12.9" height="12.8" fill="#00ffff"/><rect x="660.3" y="938.4" width="12.9" height="12.8" fill="#00cfff"/><rect x="672.6" y="938.4" width="12.9" height="12.8" fill="#00ffff"/><rect x="684.9" y="938.4" width="12.9" height="12.8" fill="#50ffaf"/><rect x="697.2" y="938.4" width="12.9" height="12.8" fill="#60ff9f"/><rect x="709.5" y="938.4" width="12.9" height="12.8" fill="#20ffdf"/><rect x="721.8" y="938.4" width="12.9" height="12.8" fill="#009fff"/><rect x="734.1" y="938.4" width="12.9" height="12.8" fill="#00efff"/><rect x="746.4" y="938.4" width="12.9" height="12.8" fill="#00ffff"/><rect x="758.8" y="938.4" width="12.9" height="12.8" fill="#60ff9f"/><rect x="771.1" y="938.4" width="12.9" height="12.8" fill="#30ffcf"/><rect x="783.4" y="938.4" width="12.9" height="12.8" fill="#20ffdf"/><rect x="795.7" y="938.4" width="12.9" height="12.8" fill="#0070ff"/><rect x="808" y="938.4" width="12.9" height="12.8" fill="#30ffcf"/><rect x="820.3" y="938.4" width="12.9" height="12.8" fill="#20ffdf"/><rect x="832.6" y="938.4" width="12.9" height="12.8" fill="#00cfff"/><rect x="844.9" y="938.4" width="12.9" height="12.8" fill="#10ffef"/><rect x="857.2" y="938.4" width="12.9" height="12.8" fill="#40ffbf"/><rect x="869.5" y="938.4" width="12.9" height="12.8" fill="#80ff80"/><rect x="881.8" y="938.4" width="12.9" height="12.8" fill="#50ffaf"/><rect x="894.1" y="938.4" width="12.9" height="12.8" fill="#30ffcf"/><rect x="906.5" y="938.4" width="12.9" height="12.8" fill="#60ff9f"/><rect x="918.8" y="938.4" width="12.9" height="12.8" fill="#8fff70"/><rect x="931.1" y="938.4" width="12.9" height="12.8" fill="#9fff60"/><rect x="943.4" y="938.4" width="12.9" height="12.8" fill="#9fff60"/><rect x="955.7" y="938.4" width="12.9" height="12.8" fill="#60ff9f"/><rect x="549.5" y="950.6" width="12.9" height="12.8" fill="#60ff9f"/><rect x="561.8" y="950.6" width="12.9" height="12.8" fill="#8fff70"/><rect x="574.1" y="950.6" width="12.9" height="12.8" fill="#ffaf00"/><rect x="586.4" y="950.6" width="12.9" height="12.8" fill="#60ff9f"/><rect x="598.7" y="950.6" width="12.9" height="12.8" fill="#00ffff"/><rect x="611" y="950.6" width="12.9" height="12.8" fill="#00cfff"/><rect x="623.4" y="950.6" width="12.9" height="12.8" fill="#00ffff"/><rect x="635.7" y="950.6" width="12.9" height="12.8" fill="#40ffbf"/><rect x="648" y="950.6" width="12.9" height="12.8" fill="#00afff"/><rect x="660.3" y="950.6" width="12.9" height="12.8" fill="#009fff"/><rect x="672.6" y="950.6" width="12.9" height="12.8" fill="#20ffdf"/><rect x="684.9" y="950.6" width="12.9" height="12.8" fill="#00dfff"/><rect x="697.2" y="950.6" width="12.9" height="12.8" fill="#20ffdf"/><rect x="709.5" y="950.6" width="12.9" height="12.8" fill="#10ffef"/><rect x="721.8" y="950.6" width="12.9" height="12.8" fill="#20ffdf"/><rect x="734.1" y="950.6" width="12.9" height="12.8" fill="#40ffbf"/><rect x="746.4" y="950.6" width="12.9" height="12.8" fill="#50ffaf"/><rect x="758.8" y="950.6" width="12.9" height="12.8" fill="#70ff8f"/><rect x="771.1" y="950.6" width="12.9" height="12.8" fill="#10ffef"/><rect x="783.4" y="950.6" width="12.9" height="12.8" fill="#00afff"/><rect x="795.7" y="950.6" width="12.9" height="12.8" fill="#40ffbf"/><rect x="808" y="950.6" width="12.9" height="12.8" fill="#10ffef"/><rect x="820.3" y="950.6" width="12.9" height="12.8" fill="#40ffbf"/><rect x="832.6" y="950.6" width="12.9" height="12.8" fill="#00efff"/><rect x="844.9" y="950.6" width="12.9" height="12.8" fill="#70ff8f"/><rect x="857.2" y="950.6" width="12.9" height="12.8" fill="#70ff8f"/><rect x="869.5" y="950.6" width="12.9" height="12.8" fill="#40ffbf"/><rect x="881.8" y="950.6" width="12.9" height="12.8" fill="#30ffcf"/><rect x="894.1" y="950.6" width="12.9" height="12.8" fill="#10ffef"/><rect x="906.5" y="950.6" width="12.9" height="12.8" fill="#70ff8f"/><rect x="918.8" y="950.6" width="12.9" height="12.8" fill="#80ff80"/><rect x="931.1" y="950.6" width="12.9" height="12.8" fill="#cfff30"/><rect x="943.4" y="950.6" width="12.9" height="12.8" fill="#ffff00"/><rect x="955.7" y="950.6" width="12.9" height="12.8" fill="#80ff80"/><rect x="549.5" y="962.8" width="12.9" height="12.8" fill="#70ff8f"/><rect x="561.8" y="962.8" width="12.9" height="12.8" fill="#30ffcf"/><rect x="574.1" y="962.8" width="12.9" height="12.8" fill="#8fff70"/><rect x="586.4" y="962.8" width="12.9" height="12.8" fill="#50ffaf"/><rect x="598.7" y="962.8" width="12.9" height="12.8" fill="#20ffdf"/><rect x="611" y="962.8" width="12.9" height="12.8" fill="#50ffaf"/><rect x="623.4" y="962.8" width="12.9" height="12.8" fill="#20ffdf"/><rect x="635.7" y="962.8" width="12.9" height="12.8" fill="#60ff9f"/><rect x="648" y="962.8" width="12.9" height="12.8" fill="#30ffcf"/><rect x="660.3" y="962.8" width="12.9" height="12.8" fill="#00dfff"/><rect x="672.6" y="962.8" width="12.9" height="12.8" fill="#40ffbf"/><rect x="684.9" y="962.8" width="12.9" height="12.8" fill="#00afff"/><rect x="697.2" y="962.8" width="12.9" height="12.8" fill="#00efff"/><rect x="709.5" y="962.8" width="12.9" height="12.8" fill="#50ffaf"/><rect x="721.8" y="962.8" width="12.9" height="12.8" fill="#60ff9f"/><rect x="734.1" y="962.8" width="12.9" height="12.8" fill="#20ffdf"/><rect x="746.4" y="962.8" width="12.9" height="12.8" fill="#40ffbf"/><rect x="758.8" y="962.8" width="12.9" height="12.8" fill="#70ff8f"/><rect x="771.1" y="962.8" width="12.9" height="12.8" fill="#80ff80"/><rect x="783.4" y="962.8" width="12.9" height="12.8" fill="#40ffbf"/><rect x="795.7" y="962.8" width="12.9" height="12.8" fill="#60ff9f"/><rect x="808" y="962.8" width="12.9" height="12.8" fill="#60ff9f"/><rect x="820.3" y="962.8" width="12.9" height="12.8" fill="#50ffaf"/><rect x="832.6" y="962.8" width="12.9" height="12.8" fill="#30ffcf"/><rect x="844.9" y="962.8" width="12.9" height="12.8" fill="#40ffbf"/><rect x="857.2" y="962.8" width="12.9" height="12.8" fill="#80ff80"/><rect x="869.5" y="962.8" width="12.9" height="12.8" fill="#00cfff"/><rect x="881.8" y="962.8" width="12.9" height="12.8" fill="#60ff9f"/><rect x="894.1" y="962.8" width="12.9" height="12.8" fill="#60ff9f"/><rect x="906.5" y="962.8" width="12.9" height="12.8" fill="#70ff8f"/><rect x="918.8" y="962.8" width="12.9" height="12.8" fill="#9fff60"/><rect x="931.1" y="962.8" width="12.9" height="12.8" fill="#cfff30"/><rect x="943.4" y="962.8" width="12.9" height="12.8" fill="#8fff70"/><rect x="955.7" y="962.8" width="12.9" height="12.8" fill="#60ff9f"/><rect x="549.5" y="975.1" width="12.9" height="12.8" fill="#80ff80"/><rect x="561.8" y="975.1" width="12.9" height="12.8" fill="#10ffef"/><rect x="574.1" y="975.1" width="12.9" height="12.8" fill="#60ff9f"/><rect x="586.4" y="975.1" width="12.9" height="12.8" fill="#70ff8f"/><rect x="598.7" y="975.1" width="12.9" height="12.8" fill="#20ffdf"/><rect x="611" y="975.1" width="12.9" height="12.8" fill="#60ff9f"/><rect x="623.4" y="975.1" width="12.9" height="12.8" fill="#00bfff"/><rect x="635.7" y="975.1" width="12.9" height="12.8" fill="#00efff"/><rect x="648" y="975.1" width="12.9" height="12.8" fill="#70ff8f"/><rect x="660.3" y="975.1" width="12.9" height="12.8" fill="#40ffbf"/><rect x="672.6" y="975.1" width="12.9" height="12.8" fill="#10ffef"/><rect x="684.9" y="975.1" width="12.9" height="12.8" fill="#0040ff"/><rect x="697.2" y="975.1" width="12.9" height="12.8" fill="#0050ff"/><rect x="709.5" y="975.1" width="12.9" height="12.8" fill="#30ffcf"/><rect x="721.8" y="975.1" width="12.9" height="12.8" fill="#9fff60"/><rect x="734.1" y="975.1" width="12.9" height="12.8" fill="#80ff80"/><rect x="746.4" y="975.1" width="12.9" height="12.8" fill="#40ffbf"/><rect x="758.8" y="975.1" width="12.9" height="12.8" fill="#9fff60"/><rect x="771.1" y="975.1" width="12.9" height="12.8" fill="#ffff00"/><rect x="783.4" y="975.1" width="12.9" height="12.8" fill="#cfff30"/><rect x="795.7" y="975.1" width="12.9" height="12.8" fill="#afff50"/><rect x="808" y="975.1" width="12.9" height="12.8" fill="#40ffbf"/><rect x="820.3" y="975.1" width="12.9" height="12.8" fill="#10ffef"/><rect x="832.6" y="975.1" width="12.9" height="12.8" fill="#10ffef"/><rect x="844.9" y="975.1" width="12.9" height="12.8" fill="#20ffdf"/><rect x="857.2" y="975.1" width="12.9" height="12.8" fill="#00ffff"/><rect x="869.5" y="975.1" width="12.9" height="12.8" fill="#00efff"/><rect x="881.8" y="975.1" width="12.9" height="12.8" fill="#30ffcf"/><rect x="894.1" y="975.1" width="12.9" height="12.8" fill="#40ffbf"/><rect x="906.5" y="975.1" width="12.9" height="12.8" fill="#30ffcf"/><rect x="918.8" y="975.1" width="12.9" height="12.8" fill="#bfff40"/><rect x="931.1" y="975.1" width="12.9" height="12.8" fill="#bfff40"/><rect x="943.4" y="975.1" width="12.9" height="12.8" fill="#70ff8f"/><rect x="955.7" y="975.1" width="12.9" height="12.8" fill="#60ff9f"/><rect x="549.5" y="987.3" width="12.9" height="12.8" fill="#70ff8f"/><rect x="561.8" y="987.3" width="12.9" height="12.8" fill="#70ff8f"/><rect x="574.1" y="987.3" width="12.9" height="12.8" fill="#10ffef"/><rect x="586.4" y="987.3" width="12.9" height="12.8" fill="#70ff8f"/><rect x="598.7" y="987.3" width="12.9" height="12.8" fill="#50ffaf"/><rect x="611" y="987.3" width="12.9" height="12.8" fill="#30ffcf"/><rect x="623.4" y="987.3" width="12.9" height="12.8" fill="#00ffff"/><rect x="635.7" y="987.3" width="12.9" height="12.8" fill="#20ffdf"/><rect x="648" y="987.3" width="12.9" height="12.8" fill="#20ffdf"/><rect x="660.3" y="987.3" width="12.9" height="12.8" fill="#20ffdf"/><rect x="672.6" y="987.3" width="12.9" height="12.8" fill="#30ffcf"/><rect x="684.9" y="987.3" width="12.9" height="12.8" fill="#0060ff"/><rect x="697.2" y="987.3" width="12.9" height="12.8" fill="#0080ff"/><rect x="709.5" y="987.3" width="12.9" height="12.8" fill="#0030ff"/><rect x="721.8" y="987.3" width="12.9" height="12.8" fill="#80ff80"/><rect x="734.1" y="987.3" width="12.9" height="12.8" fill="#80ff80"/><rect x="746.4" y="987.3" width="12.9" height="12.8" fill="#60ff9f"/><rect x="758.8" y="987.3" width="12.9" height="12.8" fill="#60ff9f"/><rect x="771.1" y="987.3" width="12.9" height="12.8" fill="#60ff9f"/><rect x="783.4" y="987.3" width="12.9" height="12.8" fill="#40ffbf"/><rect x="795.7" y="987.3" width="12.9" height="12.8" fill="#60ff9f"/><rect x="808" y="987.3" width="12.9" height="12.8" fill="#50ffaf"/><rect x="820.3" y="987.3" width="12.9" height="12.8" fill="#20ffdf"/><rect x="832.6" y="987.3" width="12.9" height="12.8" fill="#30ffcf"/><rect x="844.9" y="987.3" width="12.9" height="12.8" fill="#40ffbf"/><rect x="857.2" y="987.3" width="12.9" height="12.8" fill="#40ffbf"/><rect x="869.5" y="987.3" width="12.9" height="12.8" fill="#30ffcf"/><rect x="881.8" y="987.3" width="12.9" height="12.8" fill="#20ffdf"/><rect x="894.1" y="987.3" width="12.9" height="12.8" fill="#10ffef"/><rect x="906.5" y="987.3" width="12.9" height="12.8" fill="#30ffcf"/><rect x="918.8" y="987.3" width="12.9" height="12.8" fill="#60ff9f"/><rect x="931.1" y="987.3" width="12.9" height="12.8" fill="#afff50"/><rect x="943.4" y="987.3" width="12.9" height="12.8" fill="#8fff70"/><rect x="955.7" y="987.3" width="12.9" height="12.8" fill="#70ff8f"/><rect x="549.5" y="999.5" width="12.9" height="12.8" fill="#8fff70"/><rect x="561.8" y="999.5" width="12.9" height="12.8" fill="#30ffcf"/><rect x="574.1" y="999.5" width="12.9" height="12.8" fill="#50ffaf"/><rect x="586.4" y="999.5" width="12.9" height="12.8" fill="#40ffbf"/><rect x="598.7" y="999.5" width="12.9" height="12.8" fill="#20ffdf"/><rect x="611" y="999.5" width="12.9" height="12.8" fill="#00bfff"/><rect x="623.4" y="999.5" width="12.9" height="12.8" fill="#0080ff"/><rect x="635.7" y="999.5" width="12.9" height="12.8" fill="#0060ff"/><rect x="648" y="999.5" width="12.9" height="12.8" fill="#008fff"/><rect x="660.3" y="999.5" width="12.9" height="12.8" fill="#00afff"/><rect x="672.6" y="999.5" width="12.9" height="12.8" fill="#00ffff"/><rect x="684.9" y="999.5" width="12.9" height="12.8" fill="#0070ff"/><rect x="697.2" y="999.5" width="12.9" height="12.8" fill="#008fff"/><rect x="709.5" y="999.5" width="12.9" height="12.8" fill="#00afff"/><rect x="721.8" y="999.5" width="12.9" height="12.8" fill="#0080ff"/><rect x="734.1" y="999.5" width="12.9" height="12.8" fill="#009fff"/><rect x="746.4" y="999.5" width="12.9" height="12.8" fill="#00dfff"/><rect x="758.8" y="999.5" width="12.9" height="12.8" fill="#0080ff"/><rect x="771.1" y="999.5" width="12.9" height="12.8" fill="#40ffbf"/><rect x="783.4" y="999.5" width="12.9" height="12.8" fill="#00afff"/><rect x="795.7" y="999.5" width="12.9" height="12.8" fill="#009fff"/><rect x="808" y="999.5" width="12.9" height="12.8" fill="#00dfff"/><rect x="820.3" y="999.5" width="12.9" height="12.8" fill="#0060ff"/><rect x="832.6" y="999.5" width="12.9" height="12.8" fill="#0040ff"/><rect x="844.9" y="999.5" width="12.9" height="12.8" fill="#0060ff"/><rect x="857.2" y="999.5" width="12.9" height="12.8" fill="#00bfff"/><rect x="869.5" y="999.5" width="12.9" height="12.8" fill="#00cfff"/><rect x="881.8" y="999.5" width="12.9" height="12.8" fill="#00ffff"/><rect x="894.1" y="999.5" width="12.9" height="12.8" fill="#00dfff"/><rect x="906.5" y="999.5" width="12.9" height="12.8" fill="#60ff9f"/><rect x="918.8" y="999.5" width="12.9" height="12.8" fill="#40ffbf"/><rect x="931.1" y="999.5" width="12.9" height="12.8" fill="#8fff70"/><rect x="943.4" y="999.5" width="12.9" height="12.8" fill="#bfff40"/><rect x="955.7" y="999.5" width="12.9" height="12.8" fill="#9fff60"/><rect x="549.5" y="1011.8" width="12.9" height="12.8" fill="#50ffaf"/><rect x="561.8" y="1011.8" width="12.9" height="12.8" fill="#00ffff"/><rect x="574.1" y="1011.8" width="12.9" height="12.8" fill="#00ffff"/><rect x="586.4" y="1011.8" width="12.9" height="12.8" fill="#70ff8f"/><rect x="598.7" y="1011.8" width="12.9" height="12.8" fill="#30ffcf"/><rect x="611" y="1011.8" width="12.9" height="12.8" fill="#009fff"/><rect x="623.4" y="1011.8" width="12.9" height="12.8" fill="#00efff"/><rect x="635.7" y="1011.8" width="12.9" height="12.8" fill="#00bfff"/><rect x="648" y="1011.8" width="12.9" height="12.8" fill="#30ffcf"/><rect x="660.3" y="1011.8" width="12.9" height="12.8" fill="#70ff8f"/><rect x="672.6" y="1011.8" width="12.9" height="12.8" fill="#10ffef"/><rect x="684.9" y="1011.8" width="12.9" height="12.8" fill="#0070ff"/><rect x="697.2" y="1011.8" width="12.9" height="12.8" fill="#30ffcf"/><rect x="709.5" y="1011.8" width="12.9" height="12.8" fill="#10ffef"/><rect x="721.8" y="1011.8" width="12.9" height="12.8" fill="#00ffff"/><rect x="734.1" y="1011.8" width="12.9" height="12.8" fill="#0040ff"/><rect x="746.4" y="1011.8" width="12.9" height="12.8" fill="#0010ff"/><rect x="758.8" y="1011.8" width="12.9" height="12.8" fill="#0080ff"/><rect x="771.1" y="1011.8" width="12.9" height="12.8" fill="#0000ff"/><rect x="783.4" y="1011.8" width="12.9" height="12.8" fill="#009fff"/><rect x="795.7" y="1011.8" width="12.9" height="12.8" fill="#00bfff"/><rect x="808" y="1011.8" width="12.9" height="12.8" fill="#00ffff"/><rect x="820.3" y="1011.8" width="12.9" height="12.8" fill="#00cfff"/><rect x="832.6" y="1011.8" width="12.9" height="12.8" fill="#00afff"/><rect x="844.9" y="1011.8" width="12.9" height="12.8" fill="#008fff"/><rect x="857.2" y="1011.8" width="12.9" height="12.8" fill="#00bfff"/><rect x="869.5" y="1011.8" width="12.9" height="12.8" fill="#00dfff"/><rect x="881.8" y="1011.8" width="12.9" height="12.8" fill="#70ff8f"/><rect x="894.1" y="1011.8" width="12.9" height="12.8" fill="#30ffcf"/><rect x="906.5" y="1011.8" width="12.9" height="12.8" fill="#00afff"/><rect x="918.8" y="1011.8" width="12.9" height="12.8" fill="#00cfff"/><rect x="931.1" y="1011.8" width="12.9" height="12.8" fill="#00afff"/><rect x="943.4" y="1011.8" width="12.9" height="12.8" fill="#50ffaf"/><rect x="955.7" y="1011.8" width="12.9" height="12.8" fill="#50ffaf"/><rect x="549.5" y="1024" width="12.9" height="12.8" fill="#bfff40"/><rect x="561.8" y="1024" width="12.9" height="12.8" fill="#50ffaf"/><rect x="574.1" y="1024" width="12.9" height="12.8" fill="#bfff40"/><rect x="586.4" y="1024" width="12.9" height="12.8" fill="#30ffcf"/><rect x="598.7" y="1024" width="12.9" height="12.8" fill="#30ffcf"/><rect x="611" y="1024" width="12.9" height="12.8" fill="#40ffbf"/><rect x="623.4" y="1024" width="12.9" height="12.8" fill="#00cfff"/><rect x="635.7" y="1024" width="12.9" height="12.8" fill="#00cfff"/><rect x="648" y="1024" width="12.9" height="12.8" fill="#00dfff"/><rect x="660.3" y="1024" width="12.9" height="12.8" fill="#10ffef"/><rect x="672.6" y="1024" width="12.9" height="12.8" fill="#00cfff"/><rect x="684.9" y="1024" width="12.9" height="12.8" fill="#30ffcf"/><rect x="697.2" y="1024" width="12.9" height="12.8" fill="#00efff"/><rect x="709.5" y="1024" width="12.9" height="12.8" fill="#10ffef"/><rect x="721.8" y="1024" width="12.9" height="12.8" fill="#10ffef"/><rect x="734.1" y="1024" width="12.9" height="12.8" fill="#00afff"/><rect x="746.4" y="1024" width="12.9" height="12.8" fill="#0060ff"/><rect x="758.8" y="1024" width="12.9" height="12.8" fill="#10ffef"/><rect x="771.1" y="1024" width="12.9" height="12.8" fill="#40ffbf"/><rect x="783.4" y="1024" width="12.9" height="12.8" fill="#00bfff"/><rect x="795.7" y="1024" width="12.9" height="12.8" fill="#0060ff"/><rect x="808" y="1024" width="12.9" height="12.8" fill="#0070ff"/><rect x="820.3" y="1024" width="12.9" height="12.8" fill="#008fff"/><rect x="832.6" y="1024" width="12.9" height="12.8" fill="#20ffdf"/><rect x="844.9" y="1024" width="12.9" height="12.8" fill="#00efff"/><rect x="857.2" y="1024" width="12.9" height="12.8" fill="#30ffcf"/><rect x="869.5" y="1024" width="12.9" height="12.8" fill="#20ffdf"/><rect x="881.8" y="1024" width="12.9" height="12.8" fill="#40ffbf"/><rect x="894.1" y="1024" width="12.9" height="12.8" fill="#50ffaf"/><rect x="906.5" y="1024" width="12.9" height="12.8" fill="#30ffcf"/><rect x="918.8" y="1024" width="12.9" height="12.8" fill="#50ffaf"/><rect x="931.1" y="1024" width="12.9" height="12.8" fill="#30ffcf"/><rect x="943.4" y="1024" width="12.9" height="12.8" fill="#40ffbf"/><rect x="955.7" y="1024" width="12.9" height="12.8" fill="#bfff40"/><rect x="549.5" y="1036.2" width="12.9" height="12.8" fill="#8fff70"/><rect x="561.8" y="1036.2" width="12.9" height="12.8" fill="#afff50"/><rect x="574.1" y="1036.2" width="12.9" height="12.8" fill="#50ffaf"/><rect x="586.4" y="1036.2" width="12.9" height="12.8" fill="#50ffaf"/><rect x="598.7" y="1036.2" width="12.9" height="12.8" fill="#30ffcf"/><rect x="611" y="1036.2" width="12.9" height="12.8" fill="#00dfff"/><rect x="623.4" y="1036.2" width="12.9" height="12.8" fill="#0040ff"/><rect x="635.7" y="1036.2" width="12.9" height="12.8" fill="#0010ff"/><rect x="648" y="1036.2" width="12.9" height="12.8" fill="#0000ff"/><rect x="660.3" y="1036.2" width="12.9" height="12.8" fill="#0060ff"/><rect x="672.6" y="1036.2" width="12.9" height="12.8" fill="#00ffff"/><rect x="684.9" y="1036.2" width="12.9" height="12.8" fill="#10ffef"/><rect x="697.2" y="1036.2" width="12.9" height="12.8" fill="#0070ff"/><rect x="709.5" y="1036.2" width="12.9" height="12.8" fill="#00cfff"/><rect x="721.8" y="1036.2" width="12.9" height="12.8" fill="#00dfff"/><rect x="734.1" y="1036.2" width="12.9" height="12.8" fill="#00bfff"/><rect x="746.4" y="1036.2" width="12.9" height="12.8" fill="#00afff"/><rect x="758.8" y="1036.2" width="12.9" height="12.8" fill="#00efff"/><rect x="771.1" y="1036.2" width="12.9" height="12.8" fill="#00efff"/><rect x="783.4" y="1036.2" width="12.9" height="12.8" fill="#00dfff"/><rect x="795.7" y="1036.2" width="12.9" height="12.8" fill="#00bfff"/><rect x="808" y="1036.2" width="12.9" height="12.8" fill="#00efff"/><rect x="820.3" y="1036.2" width="12.9" height="12.8" fill="#00efff"/><rect x="832.6" y="1036.2" width="12.9" height="12.8" fill="#00ffff"/><rect x="844.9" y="1036.2" width="12.9" height="12.8" fill="#20ffdf"/><rect x="857.2" y="1036.2" width="12.9" height="12.8" fill="#50ffaf"/><rect x="869.5" y="1036.2" width="12.9" height="12.8" fill="#20ffdf"/><rect x="881.8" y="1036.2" width="12.9" height="12.8" fill="#10ffef"/><rect x="894.1" y="1036.2" width="12.9" height="12.8" fill="#30ffcf"/><rect x="906.5" y="1036.2" width="12.9" height="12.8" fill="#40ffbf"/><rect x="918.8" y="1036.2" width="12.9" height="12.8" fill="#50ffaf"/><rect x="931.1" y="1036.2" width="12.9" height="12.8" fill="#50ffaf"/><rect x="943.4" y="1036.2" width="12.9" height="12.8" fill="#40ffbf"/><rect x="955.7" y="1036.2" width="12.9" height="12.8" fill="#efff10"/><rect x="549.5" y="1048.5" width="12.9" height="12.8" fill="#cfff30"/><rect x="561.8" y="1048.5" width="12.9" height="12.8" fill="#bfff40"/><rect x="574.1" y="1048.5" width="12.9" height="12.8" fill="#80ff80"/><rect x="586.4" y="1048.5" width="12.9" height="12.8" fill="#8fff70"/><rect x="598.7" y="1048.5" width="12.9" height="12.8" fill="#30ffcf"/><rect x="611" y="1048.5" width="12.9" height="12.8" fill="#00afff"/><rect x="623.4" y="1048.5" width="12.9" height="12.8" fill="#00dfff"/><rect x="635.7" y="1048.5" width="12.9" height="12.8" fill="#10ffef"/><rect x="648" y="1048.5" width="12.9" height="12.8" fill="#20ffdf"/><rect x="660.3" y="1048.5" width="12.9" height="12.8" fill="#10ffef"/><rect x="672.6" y="1048.5" width="12.9" height="12.8" fill="#00dfff"/><rect x="684.9" y="1048.5" width="12.9" height="12.8" fill="#40ffbf"/><rect x="697.2" y="1048.5" width="12.9" height="12.8" fill="#009fff"/><rect x="709.5" y="1048.5" width="12.9" height="12.8" fill="#0080ff"/><rect x="721.8" y="1048.5" width="12.9" height="12.8" fill="#0080ff"/><rect x="734.1" y="1048.5" width="12.9" height="12.8" fill="#10ffef"/><rect x="746.4" y="1048.5" width="12.9" height="12.8" fill="#00efff"/><rect x="758.8" y="1048.5" width="12.9" height="12.8" fill="#00ffff"/><rect x="771.1" y="1048.5" width="12.9" height="12.8" fill="#40ffbf"/><rect x="783.4" y="1048.5" width="12.9" height="12.8" fill="#008fff"/><rect x="795.7" y="1048.5" width="12.9" height="12.8" fill="#0030ff"/><rect x="808" y="1048.5" width="12.9" height="12.8" fill="#00efff"/><rect x="820.3" y="1048.5" width="12.9" height="12.8" fill="#10ffef"/><rect x="832.6" y="1048.5" width="12.9" height="12.8" fill="#50ffaf"/><rect x="844.9" y="1048.5" width="12.9" height="12.8" fill="#00bfff"/><rect x="857.2" y="1048.5" width="12.9" height="12.8" fill="#00cfff"/><rect x="869.5" y="1048.5" width="12.9" height="12.8" fill="#009fff"/><rect x="881.8" y="1048.5" width="12.9" height="12.8" fill="#0050ff"/><rect x="894.1" y="1048.5" width="12.9" height="12.8" fill="#0060ff"/><rect x="906.5" y="1048.5" width="12.9" height="12.8" fill="#bfff40"/><rect x="918.8" y="1048.5" width="12.9" height="12.8" fill="#10ffef"/><rect x="931.1" y="1048.5" width="12.9" height="12.8" fill="#60ff9f"/><rect x="943.4" y="1048.5" width="12.9" height="12.8" fill="#00ffff"/><rect x="955.7" y="1048.5" width="12.9" height="12.8" fill="#60ff9f"/><rect x="549.5" y="1060.7" width="12.9" height="12.8" fill="#ffaf00"/><rect x="561.8" y="1060.7" width="12.9" height="12.8" fill="#dfff20"/><rect x="574.1" y="1060.7" width="12.9" height="12.8" fill="#60ff9f"/><rect x="586.4" y="1060.7" width="12.9" height="12.8" fill="#40ffbf"/><rect x="598.7" y="1060.7" width="12.9" height="12.8" fill="#50ffaf"/><rect x="611" y="1060.7" width="12.9" height="12.8" fill="#60ff9f"/><rect x="623.4" y="1060.7" width="12.9" height="12.8" fill="#50ffaf"/><rect x="635.7" y="1060.7" width="12.9" height="12.8" fill="#20ffdf"/><rect x="648" y="1060.7" width="12.9" height="12.8" fill="#10ffef"/><rect x="660.3" y="1060.7" width="12.9" height="12.8" fill="#10ffef"/><rect x="672.6" y="1060.7" width="12.9" height="12.8" fill="#10ffef"/><rect x="684.9" y="1060.7" width="12.9" height="12.8" fill="#00ffff"/><rect x="697.2" y="1060.7" width="12.9" height="12.8" fill="#00afff"/><rect x="709.5" y="1060.7" width="12.9" height="12.8" fill="#0050ff"/><rect x="721.8" y="1060.7" width="12.9" height="12.8" fill="#00afff"/><rect x="734.1" y="1060.7" width="12.9" height="12.8" fill="#50ffaf"/><rect x="746.4" y="1060.7" width="12.9" height="12.8" fill="#50ffaf"/><rect x="758.8" y="1060.7" width="12.9" height="12.8" fill="#10ffef"/><rect x="771.1" y="1060.7" width="12.9" height="12.8" fill="#20ffdf"/><rect x="783.4" y="1060.7" width="12.9" height="12.8" fill="#0060ff"/><rect x="795.7" y="1060.7" width="12.9" height="12.8" fill="#0050ff"/><rect x="808" y="1060.7" width="12.9" height="12.8" fill="#008fff"/><rect x="820.3" y="1060.7" width="12.9" height="12.8" fill="#0020ff"/><rect x="832.6" y="1060.7" width="12.9" height="12.8" fill="#50ffaf"/><rect x="844.9" y="1060.7" width="12.9" height="12.8" fill="#20ffdf"/><rect x="857.2" y="1060.7" width="12.9" height="12.8" fill="#20ffdf"/><rect x="869.5" y="1060.7" width="12.9" height="12.8" fill="#60ff9f"/><rect x="881.8" y="1060.7" width="12.9" height="12.8" fill="#00ffff"/><rect x="894.1" y="1060.7" width="12.9" height="12.8" fill="#00afff"/><rect x="906.5" y="1060.7" width="12.9" height="12.8" fill="#40ffbf"/><rect x="918.8" y="1060.7" width="12.9" height="12.8" fill="#50ffaf"/><rect x="931.1" y="1060.7" width="12.9" height="12.8" fill="#50ffaf"/><rect x="943.4" y="1060.7" width="12.9" height="12.8" fill="#70ff8f"/><rect x="955.7" y="1060.7" width="12.9" height="12.8" fill="#50ffaf"/><rect x="549.5" y="1072.9" width="12.9" height="12.8" fill="#cfff30"/><rect x="561.8" y="1072.9" width="12.9" height="12.8" fill="#ffff00"/><rect x="574.1" y="1072.9" width="12.9" height="12.8" fill="#60ff9f"/><rect x="586.4" y="1072.9" width="12.9" height="12.8" fill="#40ffbf"/><rect x="598.7" y="1072.9" width="12.9" height="12.8" fill="#50ffaf"/><rect x="611" y="1072.9" width="12.9" height="12.8" fill="#20ffdf"/><rect x="623.4" y="1072.9" width="12.9" height="12.8" fill="#60ff9f"/><rect x="635.7" y="1072.9" width="12.9" height="12.8" fill="#cfff30"/><rect x="648" y="1072.9" width="12.9" height="12.8" fill="#70ff8f"/><rect x="660.3" y="1072.9" width="12.9" height="12.8" fill="#008fff"/><rect x="672.6" y="1072.9" width="12.9" height="12.8" fill="#20ffdf"/><rect x="684.9" y="1072.9" width="12.9" height="12.8" fill="#00efff"/><rect x="697.2" y="1072.9" width="12.9" height="12.8" fill="#00efff"/><rect x="709.5" y="1072.9" width="12.9" height="12.8" fill="#00dfff"/><rect x="721.8" y="1072.9" width="12.9" height="12.8" fill="#9fff60"/><rect x="734.1" y="1072.9" width="12.9" height="12.8" fill="#80ff80"/><rect x="746.4" y="1072.9" width="12.9" height="12.8" fill="#50ffaf"/><rect x="758.8" y="1072.9" width="12.9" height="12.8" fill="#009fff"/><rect x="771.1" y="1072.9" width="12.9" height="12.8" fill="#40ffbf"/><rect x="783.4" y="1072.9" width="12.9" height="12.8" fill="#00afff"/><rect x="795.7" y="1072.9" width="12.9" height="12.8" fill="#0040ff"/><rect x="808" y="1072.9" width="12.9" height="12.8" fill="#0070ff"/><rect x="820.3" y="1072.9" width="12.9" height="12.8" fill="#0050ff"/><rect x="832.6" y="1072.9" width="12.9" height="12.8" fill="#008fff"/><rect x="844.9" y="1072.9" width="12.9" height="12.8" fill="#00ffff"/><rect x="857.2" y="1072.9" width="12.9" height="12.8" fill="#20ffdf"/><rect x="869.5" y="1072.9" width="12.9" height="12.8" fill="#60ff9f"/><rect x="881.8" y="1072.9" width="12.9" height="12.8" fill="#00efff"/><rect x="894.1" y="1072.9" width="12.9" height="12.8" fill="#50ffaf"/><rect x="906.5" y="1072.9" width="12.9" height="12.8" fill="#60ff9f"/><rect x="918.8" y="1072.9" width="12.9" height="12.8" fill="#9fff60"/><rect x="931.1" y="1072.9" width="12.9" height="12.8" fill="#70ff8f"/><rect x="943.4" y="1072.9" width="12.9" height="12.8" fill="#bfff40"/><rect x="955.7" y="1072.9" width="12.9" height="12.8" fill="#40ffbf"/><rect x="549.5" y="1085.2" width="12.9" height="12.8" fill="#ff8f00"/><rect x="561.8" y="1085.2" width="12.9" height="12.8" fill="#ffaf00"/><rect x="574.1" y="1085.2" width="12.9" height="12.8" fill="#9fff60"/><rect x="586.4" y="1085.2" width="12.9" height="12.8" fill="#40ffbf"/><rect x="598.7" y="1085.2" width="12.9" height="12.8" fill="#40ffbf"/><rect x="611" y="1085.2" width="12.9" height="12.8" fill="#20ffdf"/><rect x="623.4" y="1085.2" width="12.9" height="12.8" fill="#50ffaf"/><rect x="635.7" y="1085.2" width="12.9" height="12.8" fill="#40ffbf"/><rect x="648" y="1085.2" width="12.9" height="12.8" fill="#50ffaf"/><rect x="660.3" y="1085.2" width="12.9" height="12.8" fill="#0020ff"/><rect x="672.6" y="1085.2" width="12.9" height="12.8" fill="#00dfff"/><rect x="684.9" y="1085.2" width="12.9" height="12.8" fill="#00bfff"/><rect x="697.2" y="1085.2" width="12.9" height="12.8" fill="#0080ff"/><rect x="709.5" y="1085.2" width="12.9" height="12.8" fill="#00efff"/><rect x="721.8" y="1085.2" width="12.9" height="12.8" fill="#30ffcf"/><rect x="734.1" y="1085.2" width="12.9" height="12.8" fill="#60ff9f"/><rect x="746.4" y="1085.2" width="12.9" height="12.8" fill="#10ffef"/><rect x="758.8" y="1085.2" width="12.9" height="12.8" fill="#008fff"/><rect x="771.1" y="1085.2" width="12.9" height="12.8" fill="#30ffcf"/><rect x="783.4" y="1085.2" width="12.9" height="12.8" fill="#30ffcf"/><rect x="795.7" y="1085.2" width="12.9" height="12.8" fill="#50ffaf"/><rect x="808" y="1085.2" width="12.9" height="12.8" fill="#00afff"/><rect x="820.3" y="1085.2" width="12.9" height="12.8" fill="#40ffbf"/><rect x="832.6" y="1085.2" width="12.9" height="12.8" fill="#00ffff"/><rect x="844.9" y="1085.2" width="12.9" height="12.8" fill="#10ffef"/><rect x="857.2" y="1085.2" width="12.9" height="12.8" fill="#00efff"/><rect x="869.5" y="1085.2" width="12.9" height="12.8" fill="#20ffdf"/><rect x="881.8" y="1085.2" width="12.9" height="12.8" fill="#50ffaf"/><rect x="894.1" y="1085.2" width="12.9" height="12.8" fill="#70ff8f"/><rect x="906.5" y="1085.2" width="12.9" height="12.8" fill="#50ffaf"/><rect x="918.8" y="1085.2" width="12.9" height="12.8" fill="#50ffaf"/><rect x="931.1" y="1085.2" width="12.9" height="12.8" fill="#40ffbf"/><rect x="943.4" y="1085.2" width="12.9" height="12.8" fill="#40ffbf"/><rect x="955.7" y="1085.2" width="12.9" height="12.8" fill="#30ffcf"/><rect x="549.5" y="1097.4" width="12.9" height="12.8" fill="#ffaf00"/><rect x="561.8" y="1097.4" width="12.9" height="12.8" fill="#bfff40"/><rect x="574.1" y="1097.4" width="12.9" height="12.8" fill="#afff50"/><rect x="586.4" y="1097.4" width="12.9" height="12.8" fill="#00dfff"/><rect x="598.7" y="1097.4" width="12.9" height="12.8" fill="#20ffdf"/><rect x="611" y="1097.4" width="12.9" height="12.8" fill="#10ffef"/><rect x="623.4" y="1097.4" width="12.9" height="12.8" fill="#50ffaf"/><rect x="635.7" y="1097.4" width="12.9" height="12.8" fill="#20ffdf"/><rect x="648" y="1097.4" width="12.9" height="12.8" fill="#60ff9f"/><rect x="660.3" y="1097.4" width="12.9" height="12.8" fill="#0080ff"/><rect x="672.6" y="1097.4" width="12.9" height="12.8" fill="#00ffff"/><rect x="684.9" y="1097.4" width="12.9" height="12.8" fill="#20ffdf"/><rect x="697.2" y="1097.4" width="12.9" height="12.8" fill="#10ffef"/><rect x="709.5" y="1097.4" width="12.9" height="12.8" fill="#40ffbf"/><rect x="721.8" y="1097.4" width="12.9" height="12.8" fill="#10ffef"/><rect x="734.1" y="1097.4" width="12.9" height="12.8" fill="#00dfff"/><rect x="746.4" y="1097.4" width="12.9" height="12.8" fill="#70ff8f"/><rect x="758.8" y="1097.4" width="12.9" height="12.8" fill="#10ffef"/><rect x="771.1" y="1097.4" width="12.9" height="12.8" fill="#40ffbf"/><rect x="783.4" y="1097.4" width="12.9" height="12.8" fill="#30ffcf"/><rect x="795.7" y="1097.4" width="12.9" height="12.8" fill="#30ffcf"/><rect x="808" y="1097.4" width="12.9" height="12.8" fill="#10ffef"/><rect x="820.3" y="1097.4" width="12.9" height="12.8" fill="#00ffff"/><rect x="832.6" y="1097.4" width="12.9" height="12.8" fill="#50ffaf"/><rect x="844.9" y="1097.4" width="12.9" height="12.8" fill="#60ff9f"/><rect x="857.2" y="1097.4" width="12.9" height="12.8" fill="#00ffff"/><rect x="869.5" y="1097.4" width="12.9" height="12.8" fill="#00dfff"/><rect x="881.8" y="1097.4" width="12.9" height="12.8" fill="#10ffef"/><rect x="894.1" y="1097.4" width="12.9" height="12.8" fill="#80ff80"/><rect x="906.5" y="1097.4" width="12.9" height="12.8" fill="#50ffaf"/><rect x="918.8" y="1097.4" width="12.9" height="12.8" fill="#30ffcf"/><rect x="931.1" y="1097.4" width="12.9" height="12.8" fill="#10ffef"/><rect x="943.4" y="1097.4" width="12.9" height="12.8" fill="#70ff8f"/><rect x="955.7" y="1097.4" width="12.9" height="12.8" fill="#40ffbf"/><rect x="549.5" y="1109.6" width="12.9" height="12.8" fill="#9fff60"/><rect x="561.8" y="1109.6" width="12.9" height="12.8" fill="#bfff40"/><rect x="574.1" y="1109.6" width="12.9" height="12.8" fill="#ffbf00"/><rect x="586.4" y="1109.6" width="12.9" height="12.8" fill="#50ffaf"/><rect x="598.7" y="1109.6" width="12.9" height="12.8" fill="#80ff80"/><rect x="611" y="1109.6" width="12.9" height="12.8" fill="#bfff40"/><rect x="623.4" y="1109.6" width="12.9" height="12.8" fill="#80ff80"/><rect x="635.7" y="1109.6" width="12.9" height="12.8" fill="#afff50"/><rect x="648" y="1109.6" width="12.9" height="12.8" fill="#40ffbf"/><rect x="660.3" y="1109.6" width="12.9" height="12.8" fill="#009fff"/><rect x="672.6" y="1109.6" width="12.9" height="12.8" fill="#80ff80"/><rect x="684.9" y="1109.6" width="12.9" height="12.8" fill="#40ffbf"/><rect x="697.2" y="1109.6" width="12.9" height="12.8" fill="#afff50"/><rect x="709.5" y="1109.6" width="12.9" height="12.8" fill="#30ffcf"/><rect x="721.8" y="1109.6" width="12.9" height="12.8" fill="#70ff8f"/><rect x="734.1" y="1109.6" width="12.9" height="12.8" fill="#00dfff"/><rect x="746.4" y="1109.6" width="12.9" height="12.8" fill="#30ffcf"/><rect x="758.8" y="1109.6" width="12.9" height="12.8" fill="#50ffaf"/><rect x="771.1" y="1109.6" width="12.9" height="12.8" fill="#9fff60"/><rect x="783.4" y="1109.6" width="12.9" height="12.8" fill="#50ffaf"/><rect x="795.7" y="1109.6" width="12.9" height="12.8" fill="#30ffcf"/><rect x="808" y="1109.6" width="12.9" height="12.8" fill="#60ff9f"/><rect x="820.3" y="1109.6" width="12.9" height="12.8" fill="#50ffaf"/><rect x="832.6" y="1109.6" width="12.9" height="12.8" fill="#00cfff"/><rect x="844.9" y="1109.6" width="12.9" height="12.8" fill="#00efff"/><rect x="857.2" y="1109.6" width="12.9" height="12.8" fill="#30ffcf"/><rect x="869.5" y="1109.6" width="12.9" height="12.8" fill="#50ffaf"/><rect x="881.8" y="1109.6" width="12.9" height="12.8" fill="#8fff70"/><rect x="894.1" y="1109.6" width="12.9" height="12.8" fill="#9fff60"/><rect x="906.5" y="1109.6" width="12.9" height="12.8" fill="#40ffbf"/><rect x="918.8" y="1109.6" width="12.9" height="12.8" fill="#80ff80"/><rect x="931.1" y="1109.6" width="12.9" height="12.8" fill="#8fff70"/><rect x="943.4" y="1109.6" width="12.9" height="12.8" fill="#20ffdf"/><rect x="955.7" y="1109.6" width="12.9" height="12.8" fill="#afff50"/><rect x="549.5" y="1121.9" width="12.9" height="12.8" fill="#bfff40"/><rect x="561.8" y="1121.9" width="12.9" height="12.8" fill="#cfff30"/><rect x="574.1" y="1121.9" width="12.9" height="12.8" fill="#afff50"/><rect x="586.4" y="1121.9" width="12.9" height="12.8" fill="#afff50"/><rect x="598.7" y="1121.9" width="12.9" height="12.8" fill="#bfff40"/><rect x="611" y="1121.9" width="12.9" height="12.8" fill="#8fff70"/><rect x="623.4" y="1121.9" width="12.9" height="12.8" fill="#80ff80"/><rect x="635.7" y="1121.9" width="12.9" height="12.8" fill="#8fff70"/><rect x="648" y="1121.9" width="12.9" height="12.8" fill="#50ffaf"/><rect x="660.3" y="1121.9" width="12.9" height="12.8" fill="#9fff60"/><rect x="672.6" y="1121.9" width="12.9" height="12.8" fill="#60ff9f"/><rect x="684.9" y="1121.9" width="12.9" height="12.8" fill="#30ffcf"/><rect x="697.2" y="1121.9" width="12.9" height="12.8" fill="#bfff40"/><rect x="709.5" y="1121.9" width="12.9" height="12.8" fill="#8fff70"/><rect x="721.8" y="1121.9" width="12.9" height="12.8" fill="#cfff30"/><rect x="734.1" y="1121.9" width="12.9" height="12.8" fill="#60ff9f"/><rect x="746.4" y="1121.9" width="12.9" height="12.8" fill="#60ff9f"/><rect x="758.8" y="1121.9" width="12.9" height="12.8" fill="#80ff80"/><rect x="771.1" y="1121.9" width="12.9" height="12.8" fill="#efff10"/><rect x="783.4" y="1121.9" width="12.9" height="12.8" fill="#9fff60"/><rect x="795.7" y="1121.9" width="12.9" height="12.8" fill="#70ff8f"/><rect x="808" y="1121.9" width="12.9" height="12.8" fill="#50ffaf"/><rect x="820.3" y="1121.9" width="12.9" height="12.8" fill="#8fff70"/><rect x="832.6" y="1121.9" width="12.9" height="12.8" fill="#30ffcf"/><rect x="844.9" y="1121.9" width="12.9" height="12.8" fill="#0060ff"/><rect x="857.2" y="1121.9" width="12.9" height="12.8" fill="#60ff9f"/><rect x="869.5" y="1121.9" width="12.9" height="12.8" fill="#70ff8f"/><rect x="881.8" y="1121.9" width="12.9" height="12.8" fill="#9fff60"/><rect x="894.1" y="1121.9" width="12.9" height="12.8" fill="#ff9f00"/><rect x="906.5" y="1121.9" width="12.9" height="12.8" fill="#60ff9f"/><rect x="918.8" y="1121.9" width="12.9" height="12.8" fill="#cfff30"/><rect x="931.1" y="1121.9" width="12.9" height="12.8" fill="#bfff40"/><rect x="943.4" y="1121.9" width="12.9" height="12.8" fill="#60ff9f"/><rect x="955.7" y="1121.9" width="12.9" height="12.8" fill="#80ff80"/><rect x="549.5" y="1134.1" width="12.9" height="12.8" fill="#efff10"/><rect x="561.8" y="1134.1" width="12.9" height="12.8" fill="#ffef00"/><rect x="574.1" y="1134.1" width="12.9" height="12.8" fill="#ffef00"/><rect x="586.4" y="1134.1" width="12.9" height="12.8" fill="#cfff30"/><rect x="598.7" y="1134.1" width="12.9" height="12.8" fill="#ffef00"/><rect x="611" y="1134.1" width="12.9" height="12.8" fill="#9fff60"/><rect x="623.4" y="1134.1" width="12.9" height="12.8" fill="#60ff9f"/><rect x="635.7" y="1134.1" width="12.9" height="12.8" fill="#ffdf00"/><rect x="648" y="1134.1" width="12.9" height="12.8" fill="#8fff70"/><rect x="660.3" y="1134.1" width="12.9" height="12.8" fill="#8fff70"/><rect x="672.6" y="1134.1" width="12.9" height="12.8" fill="#80ff80"/><rect x="684.9" y="1134.1" width="12.9" height="12.8" fill="#9fff60"/><rect x="697.2" y="1134.1" width="12.9" height="12.8" fill="#cfff30"/><rect x="709.5" y="1134.1" width="12.9" height="12.8" fill="#8fff70"/><rect x="721.8" y="1134.1" width="12.9" height="12.8" fill="#cfff30"/><rect x="734.1" y="1134.1" width="12.9" height="12.8" fill="#ffff00"/><rect x="746.4" y="1134.1" width="12.9" height="12.8" fill="#afff50"/><rect x="758.8" y="1134.1" width="12.9" height="12.8" fill="#afff50"/><rect x="771.1" y="1134.1" width="12.9" height="12.8" fill="#afff50"/><rect x="783.4" y="1134.1" width="12.9" height="12.8" fill="#30ffcf"/><rect x="795.7" y="1134.1" width="12.9" height="12.8" fill="#00ffff"/><rect x="808" y="1134.1" width="12.9" height="12.8" fill="#40ffbf"/><rect x="820.3" y="1134.1" width="12.9" height="12.8" fill="#70ff8f"/><rect x="832.6" y="1134.1" width="12.9" height="12.8" fill="#60ff9f"/><rect x="844.9" y="1134.1" width="12.9" height="12.8" fill="#20ffdf"/><rect x="857.2" y="1134.1" width="12.9" height="12.8" fill="#00ffff"/><rect x="869.5" y="1134.1" width="12.9" height="12.8" fill="#60ff9f"/><rect x="881.8" y="1134.1" width="12.9" height="12.8" fill="#afff50"/><rect x="894.1" y="1134.1" width="12.9" height="12.8" fill="#bfff40"/><rect x="906.5" y="1134.1" width="12.9" height="12.8" fill="#9fff60"/><rect x="918.8" y="1134.1" width="12.9" height="12.8" fill="#60ff9f"/><rect x="931.1" y="1134.1" width="12.9" height="12.8" fill="#ffef00"/><rect x="943.4" y="1134.1" width="12.9" height="12.8" fill="#ffdf00"/><rect x="955.7" y="1134.1" width="12.9" height="12.8" fill="#50ffaf"/><rect x="549.5" y="1146.4" width="12.9" height="12.8" fill="#9fff60"/><rect x="561.8" y="1146.4" width="12.9" height="12.8" fill="#bfff40"/><rect x="574.1" y="1146.4" width="12.9" height="12.8" fill="#efff10"/><rect x="586.4" y="1146.4" width="12.9" height="12.8" fill="#ff9f00"/><rect x="598.7" y="1146.4" width="12.9" height="12.8" fill="#efff10"/><rect x="611" y="1146.4" width="12.9" height="12.8" fill="#afff50"/><rect x="623.4" y="1146.4" width="12.9" height="12.8" fill="#ffff00"/><rect x="635.7" y="1146.4" width="12.9" height="12.8" fill="#dfff20"/><rect x="648" y="1146.4" width="12.9" height="12.8" fill="#bfff40"/><rect x="660.3" y="1146.4" width="12.9" height="12.8" fill="#efff10"/><rect x="672.6" y="1146.4" width="12.9" height="12.8" fill="#ffef00"/><rect x="684.9" y="1146.4" width="12.9" height="12.8" fill="#afff50"/><rect x="697.2" y="1146.4" width="12.9" height="12.8" fill="#8fff70"/><rect x="709.5" y="1146.4" width="12.9" height="12.8" fill="#ffdf00"/><rect x="721.8" y="1146.4" width="12.9" height="12.8" fill="#ffef00"/><rect x="734.1" y="1146.4" width="12.9" height="12.8" fill="#afff50"/><rect x="746.4" y="1146.4" width="12.9" height="12.8" fill="#dfff20"/><rect x="758.8" y="1146.4" width="12.9" height="12.8" fill="#8fff70"/><rect x="771.1" y="1146.4" width="12.9" height="12.8" fill="#70ff8f"/><rect x="783.4" y="1146.4" width="12.9" height="12.8" fill="#60ff9f"/><rect x="795.7" y="1146.4" width="12.9" height="12.8" fill="#10ffef"/><rect x="808" y="1146.4" width="12.9" height="12.8" fill="#ff9f00"/><rect x="820.3" y="1146.4" width="12.9" height="12.8" fill="#50ffaf"/><rect x="832.6" y="1146.4" width="12.9" height="12.8" fill="#10ffef"/><rect x="844.9" y="1146.4" width="12.9" height="12.8" fill="#70ff8f"/><rect x="857.2" y="1146.4" width="12.9" height="12.8" fill="#30ffcf"/><rect x="869.5" y="1146.4" width="12.9" height="12.8" fill="#8fff70"/><rect x="881.8" y="1146.4" width="12.9" height="12.8" fill="#80ff80"/><rect x="894.1" y="1146.4" width="12.9" height="12.8" fill="#cfff30"/><rect x="906.5" y="1146.4" width="12.9" height="12.8" fill="#60ff9f"/><rect x="918.8" y="1146.4" width="12.9" height="12.8" fill="#8fff70"/><rect x="931.1" y="1146.4" width="12.9" height="12.8" fill="#ff8f00"/><rect x="943.4" y="1146.4" width="12.9" height="12.8" fill="#ffaf00"/><rect x="955.7" y="1146.4" width="12.9" height="12.8" fill="#10ffef"/><rect x="549.5" y="1158.6" width="12.9" height="12.8" fill="#70ff8f"/><rect x="561.8" y="1158.6" width="12.9" height="12.8" fill="#9fff60"/><rect x="574.1" y="1158.6" width="12.9" height="12.8" fill="#ffdf00"/><rect x="586.4" y="1158.6" width="12.9" height="12.8" fill="#cfff30"/><rect x="598.7" y="1158.6" width="12.9" height="12.8" fill="#80ff80"/><rect x="611" y="1158.6" width="12.9" height="12.8" fill="#afff50"/><rect x="623.4" y="1158.6" width="12.9" height="12.8" fill="#ffef00"/><rect x="635.7" y="1158.6" width="12.9" height="12.8" fill="#ffdf00"/><rect x="648" y="1158.6" width="12.9" height="12.8" fill="#dfff20"/><rect x="660.3" y="1158.6" width="12.9" height="12.8" fill="#dfff20"/><rect x="672.6" y="1158.6" width="12.9" height="12.8" fill="#bfff40"/><rect x="684.9" y="1158.6" width="12.9" height="12.8" fill="#efff10"/><rect x="697.2" y="1158.6" width="12.9" height="12.8" fill="#8fff70"/><rect x="709.5" y="1158.6" width="12.9" height="12.8" fill="#bfff40"/><rect x="721.8" y="1158.6" width="12.9" height="12.8" fill="#dfff20"/><rect x="734.1" y="1158.6" width="12.9" height="12.8" fill="#ffff00"/><rect x="746.4" y="1158.6" width="12.9" height="12.8" fill="#afff50"/><rect x="758.8" y="1158.6" width="12.9" height="12.8" fill="#8fff70"/><rect x="771.1" y="1158.6" width="12.9" height="12.8" fill="#00efff"/><rect x="783.4" y="1158.6" width="12.9" height="12.8" fill="#8fff70"/><rect x="795.7" y="1158.6" width="12.9" height="12.8" fill="#70ff8f"/><rect x="808" y="1158.6" width="12.9" height="12.8" fill="#50ffaf"/><rect x="820.3" y="1158.6" width="12.9" height="12.8" fill="#50ffaf"/><rect x="832.6" y="1158.6" width="12.9" height="12.8" fill="#30ffcf"/><rect x="844.9" y="1158.6" width="12.9" height="12.8" fill="#40ffbf"/><rect x="857.2" y="1158.6" width="12.9" height="12.8" fill="#60ff9f"/><rect x="869.5" y="1158.6" width="12.9" height="12.8" fill="#cfff30"/><rect x="881.8" y="1158.6" width="12.9" height="12.8" fill="#8fff70"/><rect x="894.1" y="1158.6" width="12.9" height="12.8" fill="#8fff70"/><rect x="906.5" y="1158.6" width="12.9" height="12.8" fill="#50ffaf"/><rect x="918.8" y="1158.6" width="12.9" height="12.8" fill="#bfff40"/><rect x="931.1" y="1158.6" width="12.9" height="12.8" fill="#cfff30"/><rect x="943.4" y="1158.6" width="12.9" height="12.8" fill="#cfff30"/><rect x="955.7" y="1158.6" width="12.9" height="12.8" fill="#60ff9f"/><rect x="549.5" y="1170.8" width="12.9" height="12.8" fill="#00cfff"/><rect x="561.8" y="1170.8" width="12.9" height="12.8" fill="#00dfff"/><rect x="574.1" y="1170.8" width="12.9" height="12.8" fill="#cfff30"/><rect x="586.4" y="1170.8" width="12.9" height="12.8" fill="#efff10"/><rect x="598.7" y="1170.8" width="12.9" height="12.8" fill="#afff50"/><rect x="611" y="1170.8" width="12.9" height="12.8" fill="#ffef00"/><rect x="623.4" y="1170.8" width="12.9" height="12.8" fill="#ff7000"/><rect x="635.7" y="1170.8" width="12.9" height="12.8" fill="#ffaf00"/><rect x="648" y="1170.8" width="12.9" height="12.8" fill="#80ff80"/><rect x="660.3" y="1170.8" width="12.9" height="12.8" fill="#efff10"/><rect x="672.6" y="1170.8" width="12.9" height="12.8" fill="#ff6000"/><rect x="684.9" y="1170.8" width="12.9" height="12.8" fill="#ff8000"/><rect x="697.2" y="1170.8" width="12.9" height="12.8" fill="#afff50"/><rect x="709.5" y="1170.8" width="12.9" height="12.8" fill="#ffef00"/><rect x="721.8" y="1170.8" width="12.9" height="12.8" fill="#bfff40"/><rect x="734.1" y="1170.8" width="12.9" height="12.8" fill="#ffff00"/><rect x="746.4" y="1170.8" width="12.9" height="12.8" fill="#9fff60"/><rect x="758.8" y="1170.8" width="12.9" height="12.8" fill="#50ffaf"/><rect x="771.1" y="1170.8" width="12.9" height="12.8" fill="#10ffef"/><rect x="783.4" y="1170.8" width="12.9" height="12.8" fill="#50ffaf"/><rect x="795.7" y="1170.8" width="12.9" height="12.8" fill="#30ffcf"/><rect x="808" y="1170.8" width="12.9" height="12.8" fill="#8fff70"/><rect x="820.3" y="1170.8" width="12.9" height="12.8" fill="#50ffaf"/><rect x="832.6" y="1170.8" width="12.9" height="12.8" fill="#60ff9f"/><rect x="844.9" y="1170.8" width="12.9" height="12.8" fill="#10ffef"/><rect x="857.2" y="1170.8" width="12.9" height="12.8" fill="#60ff9f"/><rect x="869.5" y="1170.8" width="12.9" height="12.8" fill="#8fff70"/><rect x="881.8" y="1170.8" width="12.9" height="12.8" fill="#ffcf00"/><rect x="894.1" y="1170.8" width="12.9" height="12.8" fill="#9fff60"/><rect x="906.5" y="1170.8" width="12.9" height="12.8" fill="#50ffaf"/><rect x="918.8" y="1170.8" width="12.9" height="12.8" fill="#40ffbf"/><rect x="931.1" y="1170.8" width="12.9" height="12.8" fill="#60ff9f"/><rect x="943.4" y="1170.8" width="12.9" height="12.8" fill="#40ffbf"/><rect x="955.7" y="1170.8" width="12.9" height="12.8" fill="#60ff9f"/><rect x="549.5" y="1183.1" width="12.9" height="12.8" fill="#0000ff"/><rect x="561.8" y="1183.1" width="12.9" height="12.8" fill="#00dfff"/><rect x="574.1" y="1183.1" width="12.9" height="12.8" fill="#cfff30"/><rect x="586.4" y="1183.1" width="12.9" height="12.8" fill="#ff6000"/><rect x="598.7" y="1183.1" width="12.9" height="12.8" fill="#60ff9f"/><rect x="611" y="1183.1" width="12.9" height="12.8" fill="#efff10"/><rect x="623.4" y="1183.1" width="12.9" height="12.8" fill="#ffaf00"/><rect x="635.7" y="1183.1" width="12.9" height="12.8" fill="#dfff20"/><rect x="648" y="1183.1" width="12.9" height="12.8" fill="#ffaf00"/><rect x="660.3" y="1183.1" width="12.9" height="12.8" fill="#ffdf00"/><rect x="672.6" y="1183.1" width="12.9" height="12.8" fill="#ff6000"/><rect x="684.9" y="1183.1" width="12.9" height="12.8" fill="#ffdf00"/><rect x="697.2" y="1183.1" width="12.9" height="12.8" fill="#cfff30"/><rect x="709.5" y="1183.1" width="12.9" height="12.8" fill="#70ff8f"/><rect x="721.8" y="1183.1" width="12.9" height="12.8" fill="#40ffbf"/><rect x="734.1" y="1183.1" width="12.9" height="12.8" fill="#bfff40"/><rect x="746.4" y="1183.1" width="12.9" height="12.8" fill="#dfff20"/><rect x="758.8" y="1183.1" width="12.9" height="12.8" fill="#afff50"/><rect x="771.1" y="1183.1" width="12.9" height="12.8" fill="#80ff80"/><rect x="783.4" y="1183.1" width="12.9" height="12.8" fill="#dfff20"/><rect x="795.7" y="1183.1" width="12.9" height="12.8" fill="#60ff9f"/><rect x="808" y="1183.1" width="12.9" height="12.8" fill="#9fff60"/><rect x="820.3" y="1183.1" width="12.9" height="12.8" fill="#80ff80"/><rect x="832.6" y="1183.1" width="12.9" height="12.8" fill="#50ffaf"/><rect x="844.9" y="1183.1" width="12.9" height="12.8" fill="#30ffcf"/><rect x="857.2" y="1183.1" width="12.9" height="12.8" fill="#50ffaf"/><rect x="869.5" y="1183.1" width="12.9" height="12.8" fill="#70ff8f"/><rect x="881.8" y="1183.1" width="12.9" height="12.8" fill="#80ff80"/><rect x="894.1" y="1183.1" width="12.9" height="12.8" fill="#8fff70"/><rect x="906.5" y="1183.1" width="12.9" height="12.8" fill="#40ffbf"/><rect x="918.8" y="1183.1" width="12.9" height="12.8" fill="#10ffef"/><rect x="931.1" y="1183.1" width="12.9" height="12.8" fill="#00bfff"/><rect x="943.4" y="1183.1" width="12.9" height="12.8" fill="#0060ff"/><rect x="955.7" y="1183.1" width="12.9" height="12.8" fill="#00cfff"/><rect x="549.5" y="1195.3" width="12.9" height="12.8" fill="#00bfff"/><rect x="561.8" y="1195.3" width="12.9" height="12.8" fill="#008fff"/><rect x="574.1" y="1195.3" width="12.9" height="12.8" fill="#bfff40"/><rect x="586.4" y="1195.3" width="12.9" height="12.8" fill="#80ff80"/><rect x="598.7" y="1195.3" width="12.9" height="12.8" fill="#10ffef"/><rect x="611" y="1195.3" width="12.9" height="12.8" fill="#bfff40"/><rect x="623.4" y="1195.3" width="12.9" height="12.8" fill="#ffff00"/><rect x="635.7" y="1195.3" width="12.9" height="12.8" fill="#afff50"/><rect x="648" y="1195.3" width="12.9" height="12.8" fill="#cfff30"/><rect x="660.3" y="1195.3" width="12.9" height="12.8" fill="#8fff70"/><rect x="672.6" y="1195.3" width="12.9" height="12.8" fill="#ffff00"/><rect x="684.9" y="1195.3" width="12.9" height="12.8" fill="#efff10"/><rect x="697.2" y="1195.3" width="12.9" height="12.8" fill="#efff10"/><rect x="709.5" y="1195.3" width="12.9" height="12.8" fill="#80ff80"/><rect x="721.8" y="1195.3" width="12.9" height="12.8" fill="#80ff80"/><rect x="734.1" y="1195.3" width="12.9" height="12.8" fill="#bfff40"/><rect x="746.4" y="1195.3" width="12.9" height="12.8" fill="#ffaf00"/><rect x="758.8" y="1195.3" width="12.9" height="12.8" fill="#cfff30"/><rect x="771.1" y="1195.3" width="12.9" height="12.8" fill="#ffdf00"/><rect x="783.4" y="1195.3" width="12.9" height="12.8" fill="#cfff30"/><rect x="795.7" y="1195.3" width="12.9" height="12.8" fill="#40ffbf"/><rect x="808" y="1195.3" width="12.9" height="12.8" fill="#9fff60"/><rect x="820.3" y="1195.3" width="12.9" height="12.8" fill="#9fff60"/><rect x="832.6" y="1195.3" width="12.9" height="12.8" fill="#60ff9f"/><rect x="844.9" y="1195.3" width="12.9" height="12.8" fill="#00ffff"/><rect x="857.2" y="1195.3" width="12.9" height="12.8" fill="#70ff8f"/><rect x="869.5" y="1195.3" width="12.9" height="12.8" fill="#40ffbf"/><rect x="881.8" y="1195.3" width="12.9" height="12.8" fill="#30ffcf"/><rect x="894.1" y="1195.3" width="12.9" height="12.8" fill="#60ff9f"/><rect x="906.5" y="1195.3" width="12.9" height="12.8" fill="#40ffbf"/><rect x="918.8" y="1195.3" width="12.9" height="12.8" fill="#30ffcf"/><rect x="931.1" y="1195.3" width="12.9" height="12.8" fill="#00ffff"/><rect x="943.4" y="1195.3" width="12.9" height="12.8" fill="#00dfff"/><rect x="955.7" y="1195.3" width="12.9" height="12.8" fill="#00dfff"/><rect x="549.5" y="1207.5" width="12.9" height="12.8" fill="#00afff"/><rect x="561.8" y="1207.5" width="12.9" height="12.8" fill="#0050ff"/><rect x="574.1" y="1207.5" width="12.9" height="12.8" fill="#8fff70"/><rect x="586.4" y="1207.5" width="12.9" height="12.8" fill="#10ffef"/><rect x="598.7" y="1207.5" width="12.9" height="12.8" fill="#00ffff"/><rect x="611" y="1207.5" width="12.9" height="12.8" fill="#70ff8f"/><rect x="623.4" y="1207.5" width="12.9" height="12.8" fill="#cfff30"/><rect x="635.7" y="1207.5" width="12.9" height="12.8" fill="#80ff80"/><rect x="648" y="1207.5" width="12.9" height="12.8" fill="#00dfff"/><rect x="660.3" y="1207.5" width="12.9" height="12.8" fill="#60ff9f"/><rect x="672.6" y="1207.5" width="12.9" height="12.8" fill="#ff5000"/><rect x="684.9" y="1207.5" width="12.9" height="12.8" fill="#ffdf00"/><rect x="697.2" y="1207.5" width="12.9" height="12.8" fill="#8fff70"/><rect x="709.5" y="1207.5" width="12.9" height="12.8" fill="#bfff40"/><rect x="721.8" y="1207.5" width="12.9" height="12.8" fill="#9fff60"/><rect x="734.1" y="1207.5" width="12.9" height="12.8" fill="#9fff60"/><rect x="746.4" y="1207.5" width="12.9" height="12.8" fill="#ffbf00"/><rect x="758.8" y="1207.5" width="12.9" height="12.8" fill="#80ff80"/><rect x="771.1" y="1207.5" width="12.9" height="12.8" fill="#bfff40"/><rect x="783.4" y="1207.5" width="12.9" height="12.8" fill="#60ff9f"/><rect x="795.7" y="1207.5" width="12.9" height="12.8" fill="#40ffbf"/><rect x="808" y="1207.5" width="12.9" height="12.8" fill="#dfff20"/><rect x="820.3" y="1207.5" width="12.9" height="12.8" fill="#ffaf00"/><rect x="832.6" y="1207.5" width="12.9" height="12.8" fill="#80ff80"/><rect x="844.9" y="1207.5" width="12.9" height="12.8" fill="#00efff"/><rect x="857.2" y="1207.5" width="12.9" height="12.8" fill="#30ffcf"/><rect x="869.5" y="1207.5" width="12.9" height="12.8" fill="#70ff8f"/><rect x="881.8" y="1207.5" width="12.9" height="12.8" fill="#80ff80"/><rect x="894.1" y="1207.5" width="12.9" height="12.8" fill="#9fff60"/><rect x="906.5" y="1207.5" width="12.9" height="12.8" fill="#0080ff"/><rect x="918.8" y="1207.5" width="12.9" height="12.8" fill="#00afff"/><rect x="931.1" y="1207.5" width="12.9" height="12.8" fill="#009fff"/><rect x="943.4" y="1207.5" width="12.9" height="12.8" fill="#00efff"/><rect x="955.7" y="1207.5" width="12.9" height="12.8" fill="#00ffff"/><rect x="549.5" y="1219.8" width="12.9" height="12.8" fill="#0000ff"/><rect x="561.8" y="1219.8" width="12.9" height="12.8" fill="#00efff"/><rect x="574.1" y="1219.8" width="12.9" height="12.8" fill="#00ffff"/><rect x="586.4" y="1219.8" width="12.9" height="12.8" fill="#00cfff"/><rect x="598.7" y="1219.8" width="12.9" height="12.8" fill="#0050ff"/><rect x="611" y="1219.8" width="12.9" height="12.8" fill="#20ffdf"/><rect x="623.4" y="1219.8" width="12.9" height="12.8" fill="#00ffff"/><rect x="635.7" y="1219.8" width="12.9" height="12.8" fill="#00efff"/><rect x="648" y="1219.8" width="12.9" height="12.8" fill="#00bfff"/><rect x="660.3" y="1219.8" width="12.9" height="12.8" fill="#ff8000"/><rect x="672.6" y="1219.8" width="12.9" height="12.8" fill="#ffef00"/><rect x="684.9" y="1219.8" width="12.9" height="12.8" fill="#ffaf00"/><rect x="697.2" y="1219.8" width="12.9" height="12.8" fill="#8fff70"/><rect x="709.5" y="1219.8" width="12.9" height="12.8" fill="#cfff30"/><rect x="721.8" y="1219.8" width="12.9" height="12.8" fill="#8fff70"/><rect x="734.1" y="1219.8" width="12.9" height="12.8" fill="#9fff60"/><rect x="746.4" y="1219.8" width="12.9" height="12.8" fill="#cfff30"/><rect x="758.8" y="1219.8" width="12.9" height="12.8" fill="#cfff30"/><rect x="771.1" y="1219.8" width="12.9" height="12.8" fill="#70ff8f"/><rect x="783.4" y="1219.8" width="12.9" height="12.8" fill="#9fff60"/><rect x="795.7" y="1219.8" width="12.9" height="12.8" fill="#70ff8f"/><rect x="808" y="1219.8" width="12.9" height="12.8" fill="#00efff"/><rect x="820.3" y="1219.8" width="12.9" height="12.8" fill="#bfff40"/><rect x="832.6" y="1219.8" width="12.9" height="12.8" fill="#00efff"/><rect x="844.9" y="1219.8" width="12.9" height="12.8" fill="#00bfff"/><rect x="857.2" y="1219.8" width="12.9" height="12.8" fill="#00afff"/><rect x="869.5" y="1219.8" width="12.9" height="12.8" fill="#0040ff"/><rect x="881.8" y="1219.8" width="12.9" height="12.8" fill="#00dfff"/><rect x="894.1" y="1219.8" width="12.9" height="12.8" fill="#00efff"/><rect x="906.5" y="1219.8" width="12.9" height="12.8" fill="#00cfff"/><rect x="918.8" y="1219.8" width="12.9" height="12.8" fill="#0000df"/><rect x="931.1" y="1219.8" width="12.9" height="12.8" fill="#0000ef"/><rect x="943.4" y="1219.8" width="12.9" height="12.8" fill="#10ffef"/><rect x="955.7" y="1219.8" width="12.9" height="12.8" fill="#20ffdf"/>
<g clip-path="url(#clipE)"><path d="M555.7,822.1L556.8,843.1M559.3,835.7L556.8,843.1L553.5,836M580.3,822.1L584,849.6M586.4,840.1L584,849.6L579.1,841M604.9,822.1L608.2,844M610.1,836.1L608.2,844L604.1,837M629.5,822.1L642.2,845.2M641.1,835.9L642.2,845.2L634.9,839.2M654.1,822.1L663.5,855.9M664.7,845L663.5,855.9L656.8,847.2M678.7,822.1L699.9,854.1M697.7,843.3L699.9,854.1L690.8,847.8M703.4,822.1L709.4,852.1M711.4,841.6L709.4,852.1L703.5,843.2M728,822.1L723.6,856.2M729,846.6L723.6,856.2L720.8,845.6M752.6,822.1L758.1,853.2M760.4,842.5L758.1,853.2L752.3,843.9M777.2,822.1L774.2,857.9M779.1,848.1L774.2,857.9L770.9,847.4M801.8,822.1L793.3,857.3M799.7,848.4L793.3,857.3L791.7,846.5M826.4,822.1L805,857.5M813.8,850.9L805,857.5L806.7,846.6M851.1,822.1L837.9,849.3M845.7,842.2L837.9,849.3L838.6,838.8M875.7,822.1L863.8,848.3M871.1,841.3L863.8,848.3L864.2,838.2M900.3,822.1L888.3,841.9M895.1,836.8L888.3,841.9L889.7,833.6M924.9,822.1L910.4,836.7M917.5,833.7L910.4,836.7L913.4,829.7M949.5,822.1L928.7,853.6M937.8,847.4L928.7,853.6L930.9,842.8M555.7,846.6L566.4,863.8M565.1,856.3L566.4,863.8L560.3,859.3M580.3,846.6L589.6,863.6M588.7,856.4L589.6,863.6L583.9,859M604.9,846.6L611,869.2M612,860.7L611,869.2L605.9,862.4M629.5,846.6L636.5,874.2M637.8,864.3L636.5,874.2L630.5,866.1M654.1,846.6L653.8,877.9M658,867.8L653.8,877.9L649.9,867.7M678.7,846.6L677.4,873.9M681.5,865.1L677.4,873.9L674.2,864.7M703.4,846.6L698.9,879M704.4,869.4L698.9,879L696.2,868.3M728,846.6L729.7,875.6M733,865.9L729.7,875.6L725.3,866.4M752.6,846.6L751.5,880.2M755.9,870.1L751.5,880.2L747.7,869.8M777.2,846.6L772,880.5M777.6,871.1L772,880.5L769.5,869.8M801.8,846.6L788.5,867.6M795.8,862.4L788.5,867.6L790.1,858.8M826.4,846.6L817.8,875.2M824.3,867.1L817.8,875.2L816.8,864.8M851.1,846.6L839.1,871.6M846.3,865L839.1,871.6L839.7,861.8M875.7,846.6L868.3,878M874.6,869L868.3,878L866.6,867.1M900.3,846.6L883.4,876.5M892,869.7L883.4,876.5L884.8,865.6M924.9,846.6L915.3,860.9M920.8,857.2L915.3,860.9L916.7,854.4M949.5,846.6L941.6,853.7M946,852.1L941.6,853.7L943.7,849.5M555.7,871.1L572.2,893.4M569.8,883.9L572.2,893.4L563.8,888.3M580.3,871.1L580.1,887.9M582.6,881.9L580.1,887.9L577.7,881.8M604.9,871.1L616,890.1M614.8,882L616,890.1L609.6,885.1M629.5,871.1L636.3,906.7M638.4,895.9L636.3,906.7L630.3,897.4M654.1,871.1L663.8,904.1M664.9,893.1L663.8,904.1L657,895.5M678.7,871.1L684.3,897.6M686,888.1L684.3,897.6L678.9,889.6M703.4,871.1L709,901.7M711.2,891L709,901.7L703.2,892.5M728,871.1L721.6,901.5M727.6,892.5L721.6,901.5L719.7,890.9M752.6,871.1L751.8,900.9M756,891.3L751.8,900.9L748.2,891.1M777.2,871.1L775,895.9M779.1,887.9L775,895.9L772.4,887.3M801.8,871.1L801.6,896.5M805.1,888L801.6,896.5L798.2,888M826.4,871.1L817.6,901.1M824.4,892.6L817.6,901.1L816.6,890.3M851.1,871.1L839.6,896.9M846.8,890L839.6,896.9L840,887M875.7,871.1L861.5,898.1M869.7,891.2L861.5,898.1L862.6,887.5M900.3,871.1L888.1,896M895.4,889.4L888.1,896L888.8,886.2M924.9,871.1L914.4,888.1M920.4,883.7L914.4,888.1L915.7,880.7M949.5,871.1L941.4,882.8M946.2,879.6L941.4,882.8L942.7,877.1M555.7,895.5L571.4,918.7M569.3,909L571.4,918.7L563.2,913.2M580.3,895.5L596.2,923.8M594.8,912.9L596.2,923.8L587.6,916.9M604.9,895.5L610.6,915.4M611.4,907.7L610.6,915.4L605.9,909.3M629.5,895.5L638.9,922.9M639.4,912.7L638.9,922.9L632.2,915.2M654.1,895.5L666.3,918M665.3,908.9L666.3,918L659.2,912.1M678.7,895.5L685.7,914.4M686,906.9L685.7,914.4L680.7,908.8M703.4,895.5L703.8,921.3M707.1,912.7L703.8,921.3L700.2,912.8M728,895.5L732.9,928.5M735.5,917.8L732.9,928.5L727.3,919.1M752.6,895.5L748.2,917M752.7,910.2L748.2,917L746.7,909M777.2,895.5L767.2,913.5M773.2,908.7L767.2,913.5L768.1,905.9M801.8,895.5L792.7,915.2M798.6,909.8L792.7,915.2L793.1,907.2M826.4,895.5L814.3,921.8M821.7,914.9L814.3,921.8L814.8,911.7M851.1,895.5L844.4,925.4M850.4,916.6L844.4,925.4L842.6,914.8M875.7,895.5L860.1,921M868.5,914.8L860.1,921L861.8,910.7M900.3,895.5L876.8,910.5M886.5,908.7L876.8,910.5L882.5,902.5M924.9,895.5L904.2,910.2M913,908.1L904.2,910.2L909.1,902.5M949.5,895.5L934.4,910.7M941.7,907.6L934.4,910.7L937.5,903.4M555.7,920L572.5,936.2M569,928.4L572.5,936.2L564.6,933M580.3,920L605.1,939.8M599.7,930.2L605.1,939.8L594.6,936.7M604.9,920L619,940.2M617,931.5L619,940.2L611.6,935.3M629.5,920L641.1,940M639.9,931.7L641.1,940L634.4,934.8M654.1,920L660.2,933.9M660.1,927.9L660.2,933.9L655.9,929.7M678.7,920L687.6,941.4M687.5,932.9L687.6,941.4L681.7,935.4M703.4,920L709.4,945.3M710.8,936.1L709.4,945.3L704,937.8M728,920L730.2,947.6M733.1,938.3L730.2,947.6L725.8,938.8M752.6,920L752.1,941.9M755.3,934.5L752.1,941.9L749.2,934.4M777.2,920L774.6,944.8M778.8,936.9L774.6,944.8L772.1,936.1M801.8,920L783.5,935.4M791.8,932.7L783.5,935.4L787.6,927.8M826.4,920L810.6,943.7M818.9,938.1L810.6,943.7L812.6,933.9M851.1,920L835.9,942.2M843.8,936.9L835.9,942.2L837.9,932.9M875.7,920L857.1,943.9M866.2,938.6L857.1,943.9L860,933.7M900.3,920L874.8,931.7M884.7,931.2L874.8,931.7L881.6,924.5M924.9,920L900.4,934.9M910.4,933.3L900.4,934.9L906.5,926.8M949.5,920L918.4,930.7M929.4,931.3L918.4,930.7L926.7,923.5M555.7,944.5L572,963.6M569.1,955L572,963.6L564,959.4M580.3,944.5L599.8,972.3M597.3,961.5L599.8,972.3L590.6,966.3M604.9,944.5L617.4,961.8M615.5,954.1L617.4,961.8L610.7,957.6M629.5,944.5L640.4,961M639,953.7L640.4,961L634.3,956.8M654.1,944.5L665.4,958.4M663.4,951.8L665.4,958.4L659.4,955.1M678.7,944.5L685.1,964.9M685.7,957L685.1,964.9L680.1,958.8M703.4,944.5L706.6,969.8M708.9,961L706.6,969.8L702.1,961.8M728,944.5L726.1,961.7M729.3,955.8L726.1,961.7L724.3,955.3M752.6,944.5L747.6,968M752.5,960.8L747.6,968L746.1,959.4M777.2,944.5L769.7,967.8M775.4,961L769.7,967.8L769.1,959M801.8,944.5L787.2,957.6M794.1,955.1L787.2,957.6L790.4,950.9M826.4,944.5L815.3,966.6M822,960.7L815.3,966.6L816,957.7M851.1,944.5L839.1,962.8M845.7,958.2L839.1,962.8L840.7,954.9M875.7,944.5L859,963.6M867.1,959.5L859,963.6L861.9,955M900.3,944.5L878.5,953.1M887,953.2L878.5,953.1L884.7,947.2M924.9,944.5L897.9,952.3M907.8,953.3L897.9,952.3L905.7,946.1M949.5,944.5L921.5,962.1M932.3,960.1L921.5,962.1L928,953.2M555.7,968.9L576.5,980.5M571,973.8L576.5,980.5L567.9,979.4M580.3,968.9L606,981.6M599.3,974.1L606,981.6L595.9,980.9M604.9,968.9L620.9,983.4M617.4,976.2L620.9,983.4L613.4,980.7M629.5,968.9L645.6,977.2M641.1,972L645.6,977.2L638.7,976.6M654.1,968.9L666.3,993.6M665.6,983.9L666.3,993.6L659,987.1M678.7,968.9L691.2,988.7M689.7,980.3L691.2,988.7L684.3,983.7M703.4,968.9L705,977.5M705.8,973.5L705,977.5L702.8,974.1M728,968.9L728.8,982.3M730.6,977L728.8,982.3L726.5,977.3M752.6,968.9L746.8,991.7M751.9,984.8L746.8,991.7L745.7,983.2M777.2,968.9L753.6,993.6M763.6,989.1L753.6,993.6L757.7,983.4M801.8,968.9L782.5,991.1M791.7,986.4L782.5,991.1L785.9,981.3M826.4,968.9L808.2,984.9M816.5,982.1L808.2,984.9L812.1,977.1M851.1,968.9L828.3,977.3M837.1,977.6L828.3,977.3L834.8,971.4M875.7,968.9L863.4,982.8M869.7,979.7L863.4,982.8L865.8,976.2M900.3,968.9L878.9,979.3M887.5,978.7L878.9,979.3L884.7,972.9M924.9,968.9L898.4,980.9M908.7,980.5L898.4,980.9L905.5,973.5M949.5,968.9L925.7,977.4M934.8,977.8L925.7,977.4L932.5,971.4M555.7,993.4L580.9,996.1M572.8,991.8L580.9,996.1L572.1,998.6M580.3,993.4L605,1000M597.7,994.5L605,1000L595.9,1001.1M604.9,993.4L625,1002.7M619.4,996.8L625,1002.7L616.9,1002.3M629.5,993.4L646.3,999.1M641.1,994.7L646.3,999.1L639.5,999.5M654.1,993.4L670.1,1000.2M665.3,995.5L670.1,1000.2L663.4,1000.1M678.7,993.4L696.9,1008.7M692.9,1001.1L696.9,1008.7L688.7,1006M703.4,993.4L707.8,999.3M706.8,995.7L707.8,999.3L704.6,997.4M728,993.4L722.6,1002.8M726.4,999.9L722.6,1002.8L723.3,998.1M752.6,993.4L745.7,1001.6M749.9,999.4L745.7,1001.6L747.1,997.1M777.2,993.4L757.8,1009.2M766.4,1006.6L757.8,1009.2L762.1,1001.3M801.8,993.4L786,1002.6M792.9,1001.6L786,1002.6L790.3,997.1M826.4,993.4L810.8,996.5M817,997.7L810.8,996.5L816.1,993M851.1,993.4L836.4,999.1M842.6,999.2L836.4,999.1L840.9,994.8M875.7,993.4L857.3,993.3M863.8,996L857.3,993.3L863.8,990.7M900.3,993.4L881.4,996.1M888.4,997.8L881.4,996.1L887.6,992.4M924.9,993.4L901.2,997.4M909.7,999.3L901.2,997.4L908.7,992.9M949.5,993.4L924.6,1004.8M934.3,1004.4L924.6,1004.8L931.3,997.8M555.7,1017.9L585.2,1010.7M574.7,1009.1L585.2,1010.7L576.6,1016.9M580.3,1017.9L606.6,1010.8M597,1009.6L606.6,1010.8L598.9,1016.6M604.9,1017.9L629.1,1016.1M620.7,1013.4L629.1,1016.1L621.2,1020M629.5,1017.9L646.9,1012.2M639.9,1011.7L646.9,1012.2L641.5,1016.7M654.1,1017.9L674.2,1012.2M666.5,1011.4L674.2,1012.2L668.1,1017M678.7,1017.9L697.5,1011.8M690.1,1011.3L697.5,1011.8L691.9,1016.5M703.4,1017.9L711.9,1010M707.3,1011.7L711.9,1010L709.8,1014.5M728,1017.9L727.2,1006.4M725.7,1011.1L727.2,1006.4L729.4,1010.9M752.6,1017.9L748.4,1015.3M750.2,1017.7L748.4,1015.3L751.4,1015.8M777.2,1017.9L760.8,1017.8M766.7,1020.2L760.8,1017.8L766.8,1015.4M801.8,1017.9L788.6,1015.5M793.3,1018.4L788.6,1015.5L794.1,1014.4M826.4,1017.9L811.4,1010.1M815.7,1015.1L811.4,1010.1L818,1010.7M851.1,1017.9L833,1017.4M839.3,1020.2L833,1017.4L839.5,1015M875.7,1017.9L855,1011.3M861.2,1016.4L855,1011.3L863,1010.7M900.3,1017.9L877.5,1014.8M884.8,1018.9L877.5,1014.8L885.7,1012.7M924.9,1017.9L905.8,1023.8M913.3,1024.5L905.8,1023.8L911.6,1019.1M949.5,1017.9L927.5,1013.4M934.4,1018L927.5,1013.4L935.6,1011.9M555.7,1042.4L583.2,1023.7M572.4,1026L583.2,1023.7L577,1032.8M580.3,1042.4L605.1,1037.6M596.2,1035.8L605.1,1037.6L597.5,1042.5M604.9,1042.4L623.5,1026.1M615.1,1029L623.5,1026.1L619.5,1034M629.5,1042.4L640.8,1032M635.1,1034.2L640.8,1032L638.1,1037.5M654.1,1042.4L665.7,1033M660,1034.7L665.7,1033L662.8,1038.2M678.7,1042.4L689.5,1026.3M683.4,1030.4L689.5,1026.3L688,1033.5M703.4,1042.4L705.1,1035.1M702.9,1038.2L705.1,1035.1L705.6,1038.8M728,1042.4L730.5,1034M727.9,1037.2L730.5,1034L730.9,1038.1M752.6,1042.4L749.8,1033M749.4,1037.4L749.8,1033L752.5,1036.4M777.2,1042.4L762.1,1029.7M765.6,1036.2L762.1,1029.7L769.2,1032M801.8,1042.4L792.1,1035.5M794.9,1039.8L792.1,1035.5L797,1036.7M826.4,1042.4L813.4,1028.8M816.1,1035.4L813.4,1028.8L819.9,1031.7M851.1,1042.4L835,1030.2M838.9,1036.7L835,1030.2L842.3,1032.2M875.7,1042.4L857.6,1032.4M862.5,1038.4L857.6,1032.4L865.3,1033.3M900.3,1042.4L883.2,1040.9M889.1,1043.9L883.2,1040.9L889.5,1038.9M924.9,1042.4L901.4,1040M909,1044L901.4,1040L909.6,1037.6M949.5,1042.4L928.1,1037.1M934.7,1041.9L928.1,1037.1L936.2,1036M555.7,1066.8L585.7,1045.3M575,1047.9L585.7,1045.3L579.8,1054.6M580.3,1066.8L602.8,1057.2M594,1057.4L602.8,1057.2L596.6,1063.5M604.9,1066.8L624,1054.3M615.8,1055.9L624,1054.3L619.2,1061.1M629.5,1066.8L647,1050.5M638.9,1053.6L647,1050.5L643.4,1058.4M654.1,1066.8L672.3,1048.1M663.7,1051.9L672.3,1048.1L668.8,1056.8M678.7,1066.8L682,1045.2M677.9,1052.2L682,1045.2L683.9,1053.1M703.4,1066.8L706.2,1049.2M702.7,1055.1L706.2,1049.2L707.7,1055.9M728,1066.8L724.3,1044.2M722.5,1052.4L724.3,1044.2L728.7,1051.4M752.6,1066.8L748.8,1041.8M746.7,1050.7L748.8,1041.8L753.4,1049.6M777.2,1066.8L773.5,1045.9M771.9,1053.6L773.5,1045.9L777.7,1052.6M801.8,1066.8L796.1,1057.4M796.9,1062.2L796.1,1057.4L799.9,1060.3M826.4,1066.8L819.6,1060.9M821.5,1064.6L819.6,1060.9L823.6,1062.3M851.1,1066.8L840,1050.4M841.5,1057.7L840,1050.4L846.1,1054.5M875.7,1066.8L854.9,1056.3M860.5,1062.7L854.9,1056.3L863.4,1057M900.3,1066.8L881.3,1058.4M886.7,1064L881.3,1058.4L889.1,1058.7M924.9,1066.8L901.8,1053.4M907.6,1060.9L901.8,1053.4L911.2,1054.7M949.5,1066.8L926.6,1050.1M931.9,1058.6L926.6,1050.1L936.3,1052.6M555.7,1091.3L585.6,1063.6M575.3,1067.5L585.6,1063.6L580.9,1073.5M580.3,1091.3L598.2,1070.8M589.5,1075.1L598.2,1070.8L595,1079.9M604.9,1091.3L622.8,1075.7M614.6,1078.5L622.8,1075.7L618.9,1083.4M629.5,1091.3L638.5,1071M632.6,1076.7L638.5,1071L638.2,1079.2M654.1,1091.3L662.1,1064.6M655.9,1072.3L662.1,1064.6L663,1074.4M678.7,1091.3L685.2,1074.8M680.6,1079.7L685.2,1074.8L685.3,1081.6M703.4,1091.3L708.8,1075.8M704.5,1080.6L708.8,1075.8L709.1,1082.2M728,1091.3L730.7,1069.4M726.8,1076.5L730.7,1069.4L732.8,1077.2M752.6,1091.3L756.2,1070.5M752.1,1077.1L756.2,1070.5L757.8,1078.1M777.2,1091.3L775.8,1069.7M773.3,1077.3L775.8,1069.7L779.2,1076.9M801.8,1091.3L792.6,1067.7M792.5,1076.8L792.6,1067.7L798.8,1074.3M826.4,1091.3L812.7,1076.6M815.4,1083.6L812.7,1076.6L819.5,1079.8M851.1,1091.3L835.4,1076.6M838.7,1083.8L835.4,1076.6L842.8,1079.5M875.7,1091.3L864.3,1074.9M865.9,1082.2L864.3,1074.9L870.5,1079M900.3,1091.3L874.6,1084.9M882.2,1090.5L874.6,1084.9L883.9,1083.6M924.9,1091.3L906.8,1078.7M911.3,1085.5L906.8,1078.7L914.7,1080.5M949.5,1091.3L931.7,1077.9M935.9,1084.9L931.7,1077.9L939.6,1080M555.7,1115.8L575.4,1096.7M566.4,1100.3L575.4,1096.7L571.4,1105.6M580.3,1115.8L603.9,1087.1M594.2,1092.3L603.9,1087.1L600.6,1097.6M604.9,1115.8L619.7,1094.7M611.9,1099.7L619.7,1094.7L617.6,1103.7M629.5,1115.8L628.4,1086.9M624.9,1096.5L628.4,1086.9L632.6,1096.2M654.1,1115.8L661.4,1095.5M656.1,1101.4L661.4,1095.5L661.7,1103.4M678.7,1115.8L676.6,1086.9M673.5,1096.6L676.6,1086.9L681.1,1096M703.4,1115.8L714.4,1086M706.9,1094.2L714.4,1086L714.7,1097M728,1115.8L727.1,1089M723.8,1097.9L727.1,1089L730.9,1097.7M752.6,1115.8L750.5,1091.1M747.9,1099.6L750.5,1091.1L754.5,1099M777.2,1115.8L767.2,1083.6M766.3,1094.6L767.2,1083.6L774.1,1092.1M801.8,1115.8L791.4,1092.5M791.8,1101.6L791.4,1092.5L798,1098.8M826.4,1115.8L820.6,1093.3M819.5,1101.7L820.6,1093.3L825.6,1100.1M851.1,1115.8L844.1,1100.1M844.3,1106.8L844.1,1100.1L848.8,1104.7M875.7,1115.8L868.6,1093.7M868,1102.1L868.6,1093.7L874,1100.2M900.3,1115.8L878.4,1087.2M881.4,1097.8L878.4,1087.2L887.9,1092.8M924.9,1115.8L903.8,1090.9M907.2,1101.3L903.8,1090.9L913.5,1096M949.5,1115.8L938.1,1095.1M939.2,1103.6L938.1,1095.1L944.8,1100.5M555.7,1140.2L572.8,1116.9M564.1,1122.3L572.8,1116.9L570.3,1126.8M580.3,1140.2L593.1,1111.2M585.2,1118.9L593.1,1111.2L592.7,1122.2M604.9,1140.2L612.4,1109.2M606,1118.2L612.4,1109.2L614,1120.1M629.5,1140.2L639.2,1113M632.4,1120.6L639.2,1113L639.6,1123.1M654.1,1140.2L664.5,1111.4M657.4,1119.4L664.5,1111.4L664.9,1122.1M678.7,1140.2L690.5,1108.5M683.1,1116.6L690.5,1108.5L690.8,1119.5M703.4,1140.2L708.9,1111.2M703.3,1119.9L708.9,1111.2L710.9,1121.4M728,1140.2L736.5,1105.5M730.1,1114.4L736.5,1105.5L738.1,1116.4M752.6,1140.2L755,1112.5M750.5,1121.3L755,1112.5L757.9,1121.9M777.2,1140.2L775.8,1110.6M772.4,1120.4L775.8,1110.6L780.1,1120.1M801.8,1140.2L788.6,1121.7M790.5,1129.8L788.6,1121.7L795.6,1126.2M826.4,1140.2L818.1,1118.7M818,1127.1L818.1,1118.7L823.9,1124.9M851.1,1140.2L833.5,1120.5M836.7,1129.4L833.5,1120.5L842,1124.7M875.7,1140.2L864.8,1115.7M865.1,1125.2L864.8,1115.7L871.7,1122.3M900.3,1140.2L878.9,1115.9M882.6,1126.3L878.9,1115.9L888.8,1120.9M924.9,1140.2L910.8,1119.5M912.7,1128.3L910.8,1119.5L918.3,1124.5M949.5,1140.2L928.6,1106.3M930.5,1117.1L928.6,1106.3L937.5,1112.8M555.7,1164.7L566.5,1143.2M559.9,1148.9L566.5,1143.2L565.8,1151.9M580.3,1164.7L597.5,1134M589,1140.8L597.5,1134L596.1,1144.9M604.9,1164.7L614.9,1139M608.2,1146.1L614.9,1139L615,1148.8M629.5,1164.7L642.2,1125.2M635.1,1133.7L642.2,1125.2L643,1136.2M654.1,1164.7L662.3,1139.8M656.3,1147L662.3,1139.8L662.9,1149.2M678.7,1164.7L690,1131.3M682.8,1139.6L690,1131.3L690.7,1142.3M703.4,1164.7L697.6,1138.8M696,1148.1L697.6,1138.8L702.9,1146.6M728,1164.7L724.9,1135.2M722,1145.2L724.9,1135.2L729.8,1144.4M752.6,1164.7L749.1,1133.8M746.2,1144.2L749.1,1133.8L754.2,1143.3M777.2,1164.7L774.2,1143.2M772.3,1151L774.2,1143.2L778.2,1150.2M801.8,1164.7L799,1138M796.4,1147.2L799,1138L803.5,1146.4M826.4,1164.7L821.5,1138.2M819.6,1147.6L821.5,1138.2L826.6,1146.3M851.1,1164.7L842.3,1145.7M842.7,1153.4L842.3,1145.7L848,1151M875.7,1164.7L859.9,1139.5M861.7,1149.8L859.9,1139.5L868.3,1145.6M900.3,1164.7L884.1,1138.5M885.9,1149.1L884.1,1138.5L892.7,1144.9M924.9,1164.7L904.2,1143.8M908.2,1153.3L904.2,1143.8L913.7,1147.9M949.5,1164.7L943.3,1138.2M941.8,1147.7L943.3,1138.2L948.9,1146.1M555.7,1189.2L562.1,1179.7M558,1182.4L562.1,1179.7L561.1,1184.5M580.3,1189.2L583.8,1158.4M578.7,1167.8L583.8,1158.4L586.7,1168.8M604.9,1189.2L610.3,1166.5M605.4,1173.4L610.3,1166.5L611.6,1174.9M629.5,1189.2L636.4,1155.5M630.3,1164.6L636.4,1155.5L638.4,1166.3M654.1,1189.2L655.5,1158.3M651,1168.1L655.5,1158.3L659.1,1168.5M678.7,1189.2L692.7,1150.8M685.4,1159L692.7,1150.8L693.1,1161.8M703.4,1189.2L702.8,1155.8M698.9,1166L702.8,1155.8L707.1,1165.9M728,1189.2L727.1,1161.5M723.7,1170.7L727.1,1161.5L731.1,1170.5M752.6,1189.2L746.1,1156.3M744,1167.1L746.1,1156.3L752.1,1165.5M777.2,1189.2L780.9,1154.9M775.7,1164.6L780.9,1154.9L783.9,1165.5M801.8,1189.2L790.5,1164.7M790.9,1174.3L790.5,1164.7L797.5,1171.3M826.4,1189.2L815,1165.6M815.6,1174.9L815,1165.6L821.9,1171.9M851.1,1189.2L837.1,1172M839.5,1179.8L837.1,1172L844.3,1176M875.7,1189.2L867.8,1167M867.4,1175.6L867.8,1167L873.5,1173.4M900.3,1189.2L883.8,1167.1M886.3,1176.5L883.8,1167.1L892.1,1172.1M924.9,1189.2L912.7,1172.1M914.5,1179.7L912.7,1172.1L919.3,1176.2M949.5,1189.2L941.9,1177.1M943,1182.8L941.9,1177.1L946.6,1180.5M555.7,1213.6L560.7,1204.6M557.1,1207.5L560.7,1204.6L560.1,1209.2M580.3,1213.6L588.1,1189.2M582.2,1196.3L588.1,1189.2L588.8,1198.4M604.9,1213.6L609.3,1197.6M605.3,1202.8L609.3,1197.6L610,1204.1M629.5,1213.6L638.5,1188M632.1,1195.2L638.5,1188L639,1197.6M654.1,1213.6L657.4,1197M653.8,1202.5L657.4,1197L658.6,1203.5M678.7,1213.6L679.4,1178.2M675.1,1188.3L679.4,1178.2L683.3,1188.5M703.4,1213.6L700.9,1185.8M698,1195.3L700.9,1185.8L705.4,1194.6M728,1213.6L727,1187.6M723.8,1196.4L727,1187.6L730.8,1196.1M752.6,1213.6L754.1,1175.4M749.6,1185.4L754.1,1175.4L757.8,1185.7M777.2,1213.6L775.8,1187.2M772.7,1196.2L775.8,1187.2L779.8,1195.8M801.8,1213.6L798.3,1191.4M796.4,1199.5L798.3,1191.4L802.5,1198.5M826.4,1213.6L823.9,1176.8M820.5,1187.2L823.9,1176.8L828.7,1186.7M851.1,1213.6L850,1196M847.8,1202.5L850,1196L852.9,1202.2M875.7,1213.6L875.7,1197.6M873.4,1203.4L875.7,1197.6L878.1,1203.5M900.3,1213.6L892.1,1192.7M892,1200.9L892.1,1192.7L897.8,1198.7M924.9,1213.6L921.5,1202.8M921.1,1207.7L921.5,1202.8L924.6,1206.6M949.5,1213.6L939.4,1196.2M940.5,1203.7L939.4,1196.2L945.4,1200.9" fill="none" stroke="#000" stroke-width="1.6" stroke-linejoin="miter"/></g>
<rect x="555" y="822" width="62" height="35" fill="#000"/><rect x="564" y="825.5" width="48" height="7" fill="#fff"/>
<text x="561" y="852" font-size="19" fill="#fff">20 µm</text>
<rect x="972" y="1225.5" width="27" height="7" fill="#00008f"/><rect x="972" y="1219" width="27" height="7" fill="#00009f"/><rect x="972" y="1212.5" width="27" height="7" fill="#0000af"/><rect x="972" y="1205.9" width="27" height="7" fill="#0000bf"/><rect x="972" y="1199.4" width="27" height="7" fill="#0000cf"/><rect x="972" y="1192.9" width="27" height="7" fill="#0000df"/><rect x="972" y="1186.4" width="27" height="7" fill="#0000ef"/><rect x="972" y="1179.9" width="27" height="7" fill="#0000ff"/><rect x="972" y="1173.4" width="27" height="7" fill="#0010ff"/><rect x="972" y="1166.8" width="27" height="7" fill="#0020ff"/><rect x="972" y="1160.3" width="27" height="7" fill="#0030ff"/><rect x="972" y="1153.8" width="27" height="7" fill="#0040ff"/><rect x="972" y="1147.3" width="27" height="7" fill="#0050ff"/><rect x="972" y="1140.8" width="27" height="7" fill="#0060ff"/><rect x="972" y="1134.3" width="27" height="7" fill="#0070ff"/><rect x="972" y="1127.8" width="27" height="7" fill="#0080ff"/><rect x="972" y="1121.2" width="27" height="7" fill="#008fff"/><rect x="972" y="1114.7" width="27" height="7" fill="#009fff"/><rect x="972" y="1108.2" width="27" height="7" fill="#00afff"/><rect x="972" y="1101.7" width="27" height="7" fill="#00bfff"/><rect x="972" y="1095.2" width="27" height="7" fill="#00cfff"/><rect x="972" y="1088.7" width="27" height="7" fill="#00dfff"/><rect x="972" y="1082.1" width="27" height="7" fill="#00efff"/><rect x="972" y="1075.6" width="27" height="7" fill="#00ffff"/><rect x="972" y="1069.1" width="27" height="7" fill="#10ffef"/><rect x="972" y="1062.6" width="27" height="7" fill="#20ffdf"/><rect x="972" y="1056.1" width="27" height="7" fill="#30ffcf"/><rect x="972" y="1049.6" width="27" height="7" fill="#40ffbf"/><rect x="972" y="1043" width="27" height="7" fill="#50ffaf"/><rect x="972" y="1036.5" width="27" height="7" fill="#60ff9f"/><rect x="972" y="1030" width="27" height="7" fill="#70ff8f"/><rect x="972" y="1023.5" width="27" height="7" fill="#80ff80"/><rect x="972" y="1017" width="27" height="7" fill="#8fff70"/><rect x="972" y="1010.5" width="27" height="7" fill="#9fff60"/><rect x="972" y="1004" width="27" height="7" fill="#afff50"/><rect x="972" y="997.4" width="27" height="7" fill="#bfff40"/><rect x="972" y="990.9" width="27" height="7" fill="#cfff30"/><rect x="972" y="984.4" width="27" height="7" fill="#dfff20"/><rect x="972" y="977.9" width="27" height="7" fill="#efff10"/><rect x="972" y="971.4" width="27" height="7" fill="#ffff00"/><rect x="972" y="964.9" width="27" height="7" fill="#ffef00"/><rect x="972" y="958.3" width="27" height="7" fill="#ffdf00"/><rect x="972" y="951.8" width="27" height="7" fill="#ffcf00"/><rect x="972" y="945.3" width="27" height="7" fill="#ffbf00"/><rect x="972" y="938.8" width="27" height="7" fill="#ffaf00"/><rect x="972" y="932.3" width="27" height="7" fill="#ff9f00"/><rect x="972" y="925.8" width="27" height="7" fill="#ff8f00"/><rect x="972" y="919.2" width="27" height="7" fill="#ff8000"/><rect x="972" y="912.7" width="27" height="7" fill="#ff7000"/><rect x="972" y="906.2" width="27" height="7" fill="#ff6000"/><rect x="972" y="899.7" width="27" height="7" fill="#ff5000"/><rect x="972" y="893.2" width="27" height="7" fill="#ff4000"/><rect x="972" y="886.7" width="27" height="7" fill="#ff3000"/><rect x="972" y="880.2" width="27" height="7" fill="#ff2000"/><rect x="972" y="873.6" width="27" height="7" fill="#ff1000"/><rect x="972" y="867.1" width="27" height="7" fill="#ff0000"/><rect x="972" y="860.6" width="27" height="7" fill="#ef0000"/><rect x="972" y="854.1" width="27" height="7" fill="#df0000"/><rect x="972" y="847.6" width="27" height="7" fill="#cf0000"/><rect x="972" y="841.1" width="27" height="7" fill="#bf0000"/><rect x="972" y="834.5" width="27" height="7" fill="#af0000"/><rect x="972" y="828" width="27" height="7" fill="#9f0000"/><rect x="972" y="821.5" width="27" height="7" fill="#8f0000"/><rect x="972" y="815" width="27" height="7" fill="#800000"/><path d="M999,1232h-7.5M999,1148.6h-7.5M999,1065.2h-7.5M999,981.8h-7.5M999,898.4h-7.5M999,815h-7.5" stroke="#222" stroke-width="1.2"/><rect x="972" y="815" width="27" height="417" fill="none" stroke="#222" stroke-width="1.2"/>
<text x="1009" y="1239.8" font-size="27.2">0</text>
<text x="1009" y="1156.4" font-size="27.2">0.2</text>
<text x="1009" y="1073" font-size="27.2">0.4</text>
<text x="1009" y="989.6" font-size="27.2">0.6</text>
<text x="1009" y="906.2" font-size="27.2">0.8</text>
<text x="1009" y="822.8" font-size="27.2">1.0</text>
<text x="971" y="803" font-size="26">|<tspan font-weight="bold">p</tspan>|</text>
<text x="549" y="786.5" font-size="31" font-weight="bold">e</text>
<text x="685" y="797" font-size="27">Polarity field</text>
<path d="M550,1249H598" stroke="#000" stroke-width="2"/><path d="M606,1249L593,1243L597,1249L593,1255Z" fill="#000"/>
<text x="613" y="1259" font-size="26">|<tspan font-weight="bold">p</tspan>| = 1</text>
<path d="M1204.3,1106.6V1146.1M1201.3,1106.6h6M1201.3,1146.1h6M1216.8,1089.8V1123.3M1213.8,1089.8h6M1213.8,1123.3h6M1229.3,1029.9V1060.3M1226.3,1029.9h6M1226.3,1060.3h6M1241.8,993.6V1022.3M1238.8,993.6h6M1238.8,1022.3h6M1254.3,946.9V1004.4M1251.3,946.9h6M1251.3,1004.4h6M1266.8,948.5V992M1263.8,948.5h6M1263.8,992h6M1279.2,940.5V994M1276.2,940.5h6M1276.2,994h6M1291.7,963.6V996.4M1288.7,963.6h6M1288.7,996.4h6M1304.2,946.9V1001.2M1301.2,946.9h6M1301.2,1001.2h6M1316.7,952.5V980.4M1313.7,952.5h6M1313.7,980.4h6M1329.2,943.7V970.8M1326.2,943.7h6M1326.2,970.8h6M1341.7,932.5V967.6M1338.7,932.5h6M1338.7,967.6h6M1354.2,911.7V959.6M1351.2,911.7h6M1351.2,959.6h6M1366.7,906.9V944.5M1363.7,906.9h6M1363.7,944.5h6M1379.2,888.6V940.5M1376.2,888.6h6M1376.2,940.5h6M1391.7,877V917.7M1388.7,877h6M1388.7,917.7h6M1404.2,879V903.7M1401.2,879h6M1401.2,903.7h6M1416.7,873V885M1413.7,873h6M1413.7,885h6M1429.1,870.6V883.8M1426.1,870.6h6M1426.1,883.8h6M1441.6,860.6V878.6M1438.6,860.6h6M1438.6,878.6h6M1454.1,865.8V873.8M1451.1,865.8h6M1451.1,873.8h6M1466.6,868.6V899.7M1463.6,868.6h6M1463.6,899.7h6M1479.1,898.9V940.5M1476.1,898.9h6M1476.1,940.5h6M1491.6,956.8V984.8M1488.6,956.8h6M1488.6,984.8h6M1504.1,998.8V1046.3M1501.1,998.8h6M1501.1,1046.3h6M1516.6,1000.8V1116.6M1513.6,1000.8h6M1513.6,1116.6h6M1529.1,1012.3V1130.5M1526.1,1012.3h6M1526.1,1130.5h6M1541.6,1036.3V1137.3M1538.6,1036.3h6M1538.6,1137.3h6M1554.1,1036.7V1144.1M1551.1,1036.7h6M1551.1,1144.1h6M1566.6,1064.7V1146.1M1563.6,1064.7h6M1563.6,1146.1h6M1579.1,1100.2V1155.3M1576.1,1100.2h6M1576.1,1155.3h6M1591.5,1057.9V1128.1M1588.5,1057.9h6M1588.5,1128.1h6M1604,1075.4V1167.3M1601,1075.4h6M1601,1167.3h6M1616.5,1066.6V1163.3M1613.5,1066.6h6M1613.5,1163.3h6M1629,1077.8V1146.5M1626,1077.8h6M1626,1146.5h6M1641.5,1085.8V1148.1M1638.5,1085.8h6M1638.5,1148.1h6" stroke="#6a6ae8" stroke-opacity="0.6" stroke-width="1.1" fill="none"/>
<path d="M1204.3,845V890.5M1201.3,845h6M1201.3,890.5h6M1216.8,865V895.3M1213.8,865h6M1213.8,895.3h6M1229.3,869.4V891.7M1226.3,869.4h6M1226.3,891.7h6M1241.8,870.6V891.3M1238.8,870.6h6M1238.8,891.3h6M1254.3,894.9V910.1M1251.3,894.9h6M1251.3,910.1h6M1266.8,890.1V917.3M1263.8,890.1h6M1263.8,917.3h6M1279.2,911.3V920.9M1276.2,911.3h6M1276.2,920.9h6M1291.7,916.9V926.5M1288.7,916.9h6M1288.7,926.5h6M1304.2,918.1V930.8M1301.2,918.1h6M1301.2,930.8h6M1316.7,930.8V940.4M1313.7,930.8h6M1313.7,940.4h6M1329.2,931.6V939.6M1326.2,931.6h6M1326.2,939.6h6M1341.7,939.6V946M1338.7,939.6h6M1338.7,946h6M1354.2,947.6V954M1351.2,947.6h6M1351.2,954h6M1366.7,956.4V962.8M1363.7,956.4h6M1363.7,962.8h6M1379.2,961.2V967.6M1376.2,961.2h6M1376.2,967.6h6M1391.7,976.4V980.4M1388.7,976.4h6M1388.7,980.4h6M1404.2,985.9V989.9M1401.2,985.9h6M1401.2,989.9h6M1416.7,999.1V1003.1M1413.7,999.1h6M1413.7,1003.1h6M1429.1,1015.1V1019.1M1426.1,1015.1h6M1426.1,1019.1h6M1441.6,1034.7V1038.7M1438.6,1034.7h6M1438.6,1038.7h6M1454.1,1059.4V1063.4M1451.1,1059.4h6M1451.1,1063.4h6M1466.6,1080.6V1084.6M1463.6,1080.6h6M1463.6,1084.6h6M1479.1,1099.3V1103.3M1476.1,1099.3h6M1476.1,1103.3h6M1491.6,1114.1V1118.1M1488.6,1114.1h6M1488.6,1118.1h6M1504.1,1127.3V1131.3M1501.1,1127.3h6M1501.1,1131.3h6M1516.6,1135.3V1139.3M1513.6,1135.3h6M1513.6,1139.3h6M1529.1,1142.1V1146.1M1526.1,1142.1h6M1526.1,1146.1h6M1541.6,1145.3V1149.3M1538.6,1145.3h6M1538.6,1149.3h6M1554.1,1147.3V1151.3M1551.1,1147.3h6M1551.1,1151.3h6M1566.6,1151.3V1155.2M1563.6,1151.3h6M1563.6,1155.2h6M1579.1,1154.4V1158.4M1576.1,1154.4h6M1576.1,1158.4h6M1591.5,1156V1160M1588.5,1156h6M1588.5,1160h6M1604,1156.4V1160.4M1601,1156.4h6M1601,1160.4h6M1616.5,1154.4V1158.4M1613.5,1154.4h6M1613.5,1158.4h6M1629,1148.5V1152.4M1626,1148.5h6M1626,1152.4h6M1641.5,1146.1V1150.1M1638.5,1146.1h6M1638.5,1150.1h6" stroke="#e07070" stroke-opacity="0.7" stroke-width="1.1" fill="none"/>
<polyline points="1204.3,867.8 1216.8,880.1 1229.3,880.5 1241.8,880.9 1254.3,902.5 1266.8,903.7 1279.2,916.1 1291.7,921.7 1304.2,924.5 1316.7,935.6 1329.2,935.6 1341.7,942.8 1354.2,950.8 1366.7,959.6 1379.2,964.4 1391.7,978.4 1404.2,987.9 1416.7,1001.1 1429.1,1017.1 1441.6,1036.7 1454.1,1061.4 1466.6,1082.6 1479.1,1101.3 1491.6,1116.1 1504.1,1129.3 1516.6,1137.3 1529.1,1144.1 1541.6,1147.3 1554.1,1149.3 1566.6,1153.2 1579.1,1156.4 1591.5,1158 1604,1158.4 1616.5,1156.4 1629,1150.5 1641.5,1148.1" fill="none" stroke="#c00000" stroke-width="1.1"/>
<polyline points="1204.3,1126.1 1216.8,1106.5 1229.3,1045.1 1241.8,1007.9 1254.3,976 1266.8,970 1279.2,967.2 1291.7,980 1304.2,974.4 1316.7,966 1329.2,957.2 1341.7,950 1354.2,936.1 1366.7,925.3 1379.2,914.1 1391.7,896.9 1404.2,890.9 1416.7,878.6 1429.1,877 1441.6,868.6 1454.1,869.4 1466.6,884.2 1479.1,919.3 1491.6,970.4 1504.1,1022.3 1516.6,1058.6 1529.1,1071.4 1541.6,1086.6 1554.1,1090.2 1566.6,1105.3 1579.1,1128.1 1591.5,1093.4 1604,1121.3 1616.5,1108.9 1629,1112.1 1641.5,1116.9" fill="none" stroke="#0000c0" stroke-width="1.1"/>
<g fill="#fff" stroke="#c00000" stroke-width="2.7"><circle cx="1204.3" cy="867.8" r="4.1"/><circle cx="1216.8" cy="880.1" r="4.1"/><circle cx="1229.3" cy="880.5" r="4.1"/><circle cx="1241.8" cy="880.9" r="4.1"/><circle cx="1254.3" cy="902.5" r="4.1"/><circle cx="1266.8" cy="903.7" r="4.1"/><circle cx="1279.2" cy="916.1" r="4.1"/><circle cx="1291.7" cy="921.7" r="4.1"/><circle cx="1304.2" cy="924.5" r="4.1"/><circle cx="1316.7" cy="935.6" r="4.1"/><circle cx="1329.2" cy="935.6" r="4.1"/><circle cx="1341.7" cy="942.8" r="4.1"/><circle cx="1354.2" cy="950.8" r="4.1"/><circle cx="1366.7" cy="959.6" r="4.1"/><circle cx="1379.2" cy="964.4" r="4.1"/><circle cx="1391.7" cy="978.4" r="4.1"/><circle cx="1404.2" cy="987.9" r="4.1"/><circle cx="1416.7" cy="1001.1" r="4.1"/><circle cx="1429.1" cy="1017.1" r="4.1"/><circle cx="1441.6" cy="1036.7" r="4.1"/><circle cx="1454.1" cy="1061.4" r="4.1"/><circle cx="1466.6" cy="1082.6" r="4.1"/><circle cx="1479.1" cy="1101.3" r="4.1"/><circle cx="1491.6" cy="1116.1" r="4.1"/><circle cx="1504.1" cy="1129.3" r="4.1"/><circle cx="1516.6" cy="1137.3" r="4.1"/><circle cx="1529.1" cy="1144.1" r="4.1"/><circle cx="1541.6" cy="1147.3" r="4.1"/><circle cx="1554.1" cy="1149.3" r="4.1"/><circle cx="1566.6" cy="1153.2" r="4.1"/><circle cx="1579.1" cy="1156.4" r="4.1"/><circle cx="1591.5" cy="1158" r="4.1"/><circle cx="1604" cy="1158.4" r="4.1"/><circle cx="1616.5" cy="1156.4" r="4.1"/><circle cx="1629" cy="1150.5" r="4.1"/><circle cx="1641.5" cy="1148.1" r="4.1"/></g>
<g fill="#fff" stroke="#0000c0" stroke-width="2.7"><circle cx="1204.3" cy="1126.1" r="4.1"/><circle cx="1216.8" cy="1106.5" r="4.1"/><circle cx="1229.3" cy="1045.1" r="4.1"/><circle cx="1241.8" cy="1007.9" r="4.1"/><circle cx="1254.3" cy="976" r="4.1"/><circle cx="1266.8" cy="970" r="4.1"/><circle cx="1279.2" cy="967.2" r="4.1"/><circle cx="1291.7" cy="980" r="4.1"/><circle cx="1304.2" cy="974.4" r="4.1"/><circle cx="1316.7" cy="966" r="4.1"/><circle cx="1329.2" cy="957.2" r="4.1"/><circle cx="1341.7" cy="950" r="4.1"/><circle cx="1354.2" cy="936.1" r="4.1"/><circle cx="1366.7" cy="925.3" r="4.1"/><circle cx="1379.2" cy="914.1" r="4.1"/><circle cx="1391.7" cy="896.9" r="4.1"/><circle cx="1404.2" cy="890.9" r="4.1"/><circle cx="1416.7" cy="878.6" r="4.1"/><circle cx="1429.1" cy="877" r="4.1"/><circle cx="1441.6" cy="868.6" r="4.1"/><circle cx="1454.1" cy="869.4" r="4.1"/><circle cx="1466.6" cy="884.2" r="4.1"/><circle cx="1479.1" cy="919.3" r="4.1"/><circle cx="1491.6" cy="970.4" r="4.1"/><circle cx="1504.1" cy="1022.3" r="4.1"/><circle cx="1516.6" cy="1058.6" r="4.1"/><circle cx="1529.1" cy="1071.4" r="4.1"/><circle cx="1541.6" cy="1086.6" r="4.1"/><circle cx="1554.1" cy="1090.2" r="4.1"/><circle cx="1566.6" cy="1105.3" r="4.1"/><circle cx="1579.1" cy="1128.1" r="4.1"/><circle cx="1591.5" cy="1093.4" r="4.1"/><circle cx="1604" cy="1121.3" r="4.1"/><circle cx="1616.5" cy="1108.9" r="4.1"/><circle cx="1629" cy="1112.1" r="4.1"/><circle cx="1641.5" cy="1116.9" r="4.1"/></g>
<path d="M1191.8,811.1H1650.2M1191.8,1180.4H1650.2" stroke="#666" stroke-width="1.6" fill="none"/>
<line x1="1191.8" y1="811.1" x2="1191.8" y2="1180.4" stroke="#cc1111" stroke-width="1.3"/>
<line x1="1650.2" y1="811.1" x2="1650.2" y2="1180.4" stroke="#2222cc" stroke-width="1.3"/>
<path d="M1275.1,1180.4v-12M1358.4,1180.4v-12M1441.6,1180.4v-12M1524.9,1180.4v-12M1608.2,1180.4v-12" stroke="#666" stroke-width="1.6"/>
<path d="M1191.8,1113.3h12.5M1191.8,1046.2h12.5M1191.8,979.2h12.5M1191.8,912.1h12.5M1191.8,845h12.5" stroke="#cc1111" stroke-width="1.3"/>
<path d="M1650.2,1118.9h-12.5M1650.2,1057.3h-12.5M1650.2,995.8h-12.5M1650.2,934.2h-12.5M1650.2,872.7h-12.5" stroke="#2222cc" stroke-width="1.3"/>
<text x="1178.2" y="1188.2" font-size="27.2" text-anchor="end">0</text>
<text x="1178.2" y="1121.1" font-size="27.2" text-anchor="end">0.1</text>
<text x="1178.2" y="1054" font-size="27.2" text-anchor="end">0.2</text>
<text x="1178.2" y="987" font-size="27.2" text-anchor="end">0.3</text>
<text x="1178.2" y="919.9" font-size="27.2" text-anchor="end">0.4</text>
<text x="1178.2" y="852.8" font-size="27.2" text-anchor="end">0.5</text>
<text x="1661.5" y="1188.2" font-size="27.2">0</text>
<text x="1661.5" y="1126.7" font-size="27.2">0.1</text>
<text x="1661.5" y="1065.1" font-size="27.2">0.2</text>
<text x="1661.5" y="1003.6" font-size="27.2">0.3</text>
<text x="1661.5" y="942" font-size="27.2">0.4</text>
<text x="1661.5" y="880.5" font-size="27.2">0.5</text>
<text x="1661.5" y="818.9" font-size="27.2">0.6</text>
<text x="1191.8" y="1213.6" font-size="27.2" text-anchor="middle">0</text>
<text x="1275.1" y="1213.6" font-size="27.2" text-anchor="middle">20</text>
<text x="1358.4" y="1213.6" font-size="27.2" text-anchor="middle">40</text>
<text x="1441.6" y="1213.6" font-size="27.2" text-anchor="middle">60</text>
<text x="1524.9" y="1213.6" font-size="27.2" text-anchor="middle">80</text>
<text x="1608.2" y="1213.6" font-size="27.2" text-anchor="middle">100</text>
<text x="1290.5" y="1255.5" font-size="26.8">Radial distance <tspan font-style="italic">r</tspan> (µm)</text>
<text transform="translate(1117,1084.5) rotate(-90)" font-size="26.9">Area fraction <tspan font-family="Liberation Serif" font-style="italic">ϕ</tspan></text>
<text transform="translate(1726,866) rotate(90)" font-size="27.1">Polarity magnitude |p|</text>
<text x="1093" y="786.5" font-size="31" font-weight="bold">f</text>
</svg></body></html>
